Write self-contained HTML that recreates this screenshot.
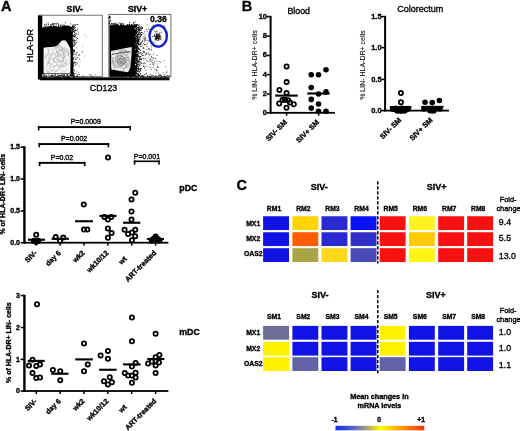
<!DOCTYPE html>
<html><head><meta charset="utf-8"><style>
html,body{margin:0;padding:0;background:#fff;}
svg{display:block;font-family:"Liberation Sans", sans-serif;will-change:transform;}
text{stroke:#000;stroke-width:0.34px;}
</style></head><body>
<svg width="520" height="431" viewBox="0 0 520 431">
<rect x="0" y="0" width="520" height="431" fill="#fff"/>
<text x="0.9" y="10.9" font-size="14.5" font-weight="bold" text-anchor="start" fill="#000">A</text>
<text x="241.8" y="10.6" font-size="14.5" font-weight="bold" text-anchor="start" fill="#000">B</text>
<text x="236.4" y="190.0" font-size="14.5" font-weight="bold" text-anchor="start" fill="#000">C</text>
<rect x="38.8" y="15.2" width="63.5" height="61.39999999999999" fill="none" stroke="#707070" stroke-width="1.0"/>
<polygon points="41.50,74.00 41.50,27.50 42.00,27.52 43.00,27.66 44.00,28.20 45.00,27.43 46.00,27.46 47.00,27.55 48.00,26.86 49.00,27.35 50.00,27.50 51.00,27.72 52.00,26.57 53.00,26.86 54.00,26.48 55.00,27.60 56.00,27.37 57.00,26.29 58.00,27.76 59.00,27.69 60.00,27.15 61.00,27.05 62.00,26.28 63.00,26.02 64.00,26.80 65.00,26.01 66.00,26.18 67.00,26.23 68.00,25.85 69.50,26.90 70.80,28.50 71.90,31.00 72.60,35.00 72.60,40.00 73.00,50.00 72.90,60.00 73.30,70.00 73.40,76.00 70.00,76.00 70.00,74.00" fill="#000"/>
<rect x="37.9" y="15.6" width="4.4" height="64.0" fill="#000"/>
<rect x="54.81" y="27.43" width="0.9" height="0.9" fill="#000"/>
<rect x="72.66" y="27.43" width="0.9" height="0.9" fill="#000"/>
<rect x="48.71" y="27.87" width="0.9" height="0.9" fill="#000"/>
<rect x="62.14" y="26.95" width="0.9" height="0.9" fill="#000"/>
<rect x="48.10" y="26.62" width="0.9" height="0.9" fill="#000"/>
<rect x="52.53" y="23.57" width="0.9" height="0.9" fill="#000"/>
<rect x="44.88" y="25.58" width="0.9" height="0.9" fill="#000"/>
<rect x="71.07" y="27.22" width="0.9" height="0.9" fill="#000"/>
<rect x="48.29" y="28.15" width="0.9" height="0.9" fill="#000"/>
<rect x="61.31" y="24.45" width="0.9" height="0.9" fill="#000"/>
<rect x="43.24" y="28.24" width="0.9" height="0.9" fill="#000"/>
<rect x="59.90" y="27.47" width="0.9" height="0.9" fill="#000"/>
<rect x="50.97" y="27.92" width="0.9" height="0.9" fill="#000"/>
<rect x="70.51" y="28.36" width="0.9" height="0.9" fill="#000"/>
<rect x="64.12" y="25.59" width="0.9" height="0.9" fill="#000"/>
<rect x="64.43" y="28.24" width="0.9" height="0.9" fill="#000"/>
<rect x="52.20" y="28.50" width="0.9" height="0.9" fill="#000"/>
<rect x="65.59" y="26.43" width="0.9" height="0.9" fill="#000"/>
<rect x="70.83" y="27.60" width="0.9" height="0.9" fill="#000"/>
<rect x="67.30" y="27.54" width="0.9" height="0.9" fill="#000"/>
<rect x="54.43" y="26.65" width="0.9" height="0.9" fill="#000"/>
<rect x="56.10" y="27.37" width="0.9" height="0.9" fill="#000"/>
<rect x="71.26" y="27.66" width="0.9" height="0.9" fill="#000"/>
<rect x="57.89" y="27.36" width="0.9" height="0.9" fill="#000"/>
<rect x="64.76" y="28.15" width="0.9" height="0.9" fill="#000"/>
<rect x="43.01" y="27.61" width="0.9" height="0.9" fill="#000"/>
<rect x="64.68" y="25.49" width="0.9" height="0.9" fill="#000"/>
<rect x="62.96" y="27.15" width="0.9" height="0.9" fill="#000"/>
<rect x="53.06" y="26.38" width="0.9" height="0.9" fill="#000"/>
<rect x="61.66" y="26.79" width="0.9" height="0.9" fill="#000"/>
<rect x="67.34" y="27.84" width="0.9" height="0.9" fill="#000"/>
<rect x="71.84" y="26.56" width="0.9" height="0.9" fill="#000"/>
<rect x="67.50" y="28.11" width="0.9" height="0.9" fill="#000"/>
<rect x="48.83" y="27.80" width="0.9" height="0.9" fill="#000"/>
<rect x="52.25" y="27.87" width="0.9" height="0.9" fill="#000"/>
<rect x="59.61" y="26.88" width="0.9" height="0.9" fill="#000"/>
<rect x="42.91" y="27.16" width="0.9" height="0.9" fill="#000"/>
<rect x="64.06" y="28.12" width="0.9" height="0.9" fill="#000"/>
<rect x="69.05" y="27.80" width="0.9" height="0.9" fill="#000"/>
<rect x="69.22" y="28.28" width="0.9" height="0.9" fill="#000"/>
<rect x="58.10" y="25.74" width="0.9" height="0.9" fill="#000"/>
<rect x="55.24" y="28.20" width="0.9" height="0.9" fill="#000"/>
<rect x="50.61" y="24.81" width="0.9" height="0.9" fill="#000"/>
<rect x="55.88" y="27.21" width="0.9" height="0.9" fill="#000"/>
<rect x="61.77" y="27.98" width="0.9" height="0.9" fill="#000"/>
<rect x="49.27" y="26.31" width="0.9" height="0.9" fill="#000"/>
<rect x="53.37" y="25.84" width="0.9" height="0.9" fill="#000"/>
<rect x="62.20" y="25.97" width="0.9" height="0.9" fill="#000"/>
<rect x="71.16" y="28.28" width="0.9" height="0.9" fill="#000"/>
<rect x="58.18" y="26.81" width="0.9" height="0.9" fill="#000"/>
<rect x="58.47" y="25.48" width="0.9" height="0.9" fill="#000"/>
<rect x="73.69" y="27.99" width="0.9" height="0.9" fill="#000"/>
<rect x="43.98" y="28.16" width="0.9" height="0.9" fill="#000"/>
<rect x="67.65" y="26.43" width="0.9" height="0.9" fill="#000"/>
<rect x="58.14" y="28.38" width="0.9" height="0.9" fill="#000"/>
<rect x="50.26" y="27.88" width="0.9" height="0.9" fill="#000"/>
<rect x="66.90" y="27.20" width="0.9" height="0.9" fill="#000"/>
<rect x="66.55" y="26.86" width="0.9" height="0.9" fill="#000"/>
<rect x="62.44" y="25.87" width="0.9" height="0.9" fill="#000"/>
<rect x="54.47" y="28.50" width="0.9" height="0.9" fill="#000"/>
<rect x="64.44" y="26.83" width="0.9" height="0.9" fill="#000"/>
<rect x="50.21" y="24.31" width="0.9" height="0.9" fill="#000"/>
<rect x="48.25" y="24.13" width="0.9" height="0.9" fill="#000"/>
<rect x="50.03" y="27.84" width="0.9" height="0.9" fill="#000"/>
<rect x="58.25" y="28.27" width="0.9" height="0.9" fill="#000"/>
<rect x="43.44" y="28.01" width="0.9" height="0.9" fill="#000"/>
<rect x="54.48" y="27.78" width="0.9" height="0.9" fill="#000"/>
<rect x="43.61" y="28.42" width="0.9" height="0.9" fill="#000"/>
<rect x="44.35" y="27.84" width="0.9" height="0.9" fill="#000"/>
<rect x="57.28" y="28.31" width="0.9" height="0.9" fill="#000"/>
<rect x="58.75" y="28.06" width="0.9" height="0.9" fill="#000"/>
<rect x="56.99" y="28.35" width="0.9" height="0.9" fill="#000"/>
<rect x="56.58" y="22.93" width="0.9" height="0.9" fill="#000"/>
<rect x="58.98" y="28.48" width="0.9" height="0.9" fill="#000"/>
<rect x="55.61" y="25.86" width="0.9" height="0.9" fill="#000"/>
<rect x="61.96" y="26.88" width="0.9" height="0.9" fill="#000"/>
<rect x="45.10" y="27.63" width="0.9" height="0.9" fill="#000"/>
<rect x="53.45" y="26.58" width="0.9" height="0.9" fill="#000"/>
<rect x="56.02" y="27.12" width="0.9" height="0.9" fill="#000"/>
<rect x="70.19" y="23.47" width="0.9" height="0.9" fill="#000"/>
<rect x="58.69" y="26.85" width="0.9" height="0.9" fill="#000"/>
<rect x="52.81" y="28.28" width="0.9" height="0.9" fill="#000"/>
<rect x="64.66" y="27.90" width="0.9" height="0.9" fill="#000"/>
<rect x="67.79" y="27.34" width="0.9" height="0.9" fill="#000"/>
<rect x="64.72" y="27.12" width="0.9" height="0.9" fill="#000"/>
<rect x="60.69" y="27.87" width="0.9" height="0.9" fill="#000"/>
<rect x="47.52" y="26.80" width="0.9" height="0.9" fill="#000"/>
<rect x="59.54" y="27.22" width="0.9" height="0.9" fill="#000"/>
<rect x="50.33" y="27.71" width="0.9" height="0.9" fill="#000"/>
<rect x="57.44" y="23.05" width="0.9" height="0.9" fill="#000"/>
<rect x="67.50" y="26.49" width="0.9" height="0.9" fill="#000"/>
<rect x="50.30" y="27.58" width="0.9" height="0.9" fill="#000"/>
<rect x="62.38" y="28.45" width="0.9" height="0.9" fill="#000"/>
<rect x="57.00" y="28.19" width="0.9" height="0.9" fill="#000"/>
<rect x="55.34" y="27.92" width="0.9" height="0.9" fill="#000"/>
<rect x="51.97" y="23.68" width="0.9" height="0.9" fill="#000"/>
<rect x="53.51" y="26.31" width="0.9" height="0.9" fill="#000"/>
<rect x="68.55" y="26.08" width="0.9" height="0.9" fill="#000"/>
<rect x="54.07" y="26.47" width="0.9" height="0.9" fill="#000"/>
<rect x="60.05" y="24.71" width="0.9" height="0.9" fill="#000"/>
<rect x="54.55" y="26.17" width="0.9" height="0.9" fill="#000"/>
<rect x="48.40" y="26.62" width="0.9" height="0.9" fill="#000"/>
<rect x="52.61" y="27.29" width="0.9" height="0.9" fill="#000"/>
<rect x="68.78" y="25.65" width="0.9" height="0.9" fill="#000"/>
<rect x="66.54" y="27.25" width="0.9" height="0.9" fill="#000"/>
<rect x="52.61" y="24.38" width="0.9" height="0.9" fill="#000"/>
<rect x="67.27" y="26.12" width="0.9" height="0.9" fill="#000"/>
<rect x="58.30" y="27.02" width="0.9" height="0.9" fill="#000"/>
<rect x="52.53" y="28.00" width="0.9" height="0.9" fill="#000"/>
<rect x="46.34" y="27.83" width="0.9" height="0.9" fill="#000"/>
<rect x="59.94" y="25.42" width="0.9" height="0.9" fill="#000"/>
<rect x="71.10" y="28.44" width="0.9" height="0.9" fill="#000"/>
<rect x="51.23" y="27.78" width="0.9" height="0.9" fill="#000"/>
<rect x="60.35" y="27.32" width="0.9" height="0.9" fill="#000"/>
<rect x="47.76" y="28.41" width="0.9" height="0.9" fill="#000"/>
<rect x="46.63" y="28.22" width="0.9" height="0.9" fill="#000"/>
<rect x="64.06" y="26.81" width="0.9" height="0.9" fill="#000"/>
<rect x="57.55" y="28.46" width="0.9" height="0.9" fill="#000"/>
<rect x="60.11" y="27.84" width="0.9" height="0.9" fill="#000"/>
<rect x="58.08" y="24.28" width="0.9" height="0.9" fill="#000"/>
<rect x="64.24" y="25.18" width="0.9" height="0.9" fill="#000"/>
<rect x="44.19" y="27.88" width="0.9" height="0.9" fill="#000"/>
<rect x="63.30" y="27.57" width="0.9" height="0.9" fill="#000"/>
<rect x="60.14" y="27.82" width="0.9" height="0.9" fill="#000"/>
<rect x="51.58" y="23.77" width="0.9" height="0.9" fill="#000"/>
<rect x="70.64" y="27.21" width="0.9" height="0.9" fill="#000"/>
<rect x="53.41" y="25.60" width="0.9" height="0.9" fill="#000"/>
<rect x="43.00" y="27.79" width="0.9" height="0.9" fill="#000"/>
<rect x="57.95" y="28.04" width="0.9" height="0.9" fill="#000"/>
<rect x="71.52" y="27.78" width="0.9" height="0.9" fill="#000"/>
<rect x="47.50" y="27.66" width="0.9" height="0.9" fill="#000"/>
<rect x="48.46" y="25.93" width="0.9" height="0.9" fill="#000"/>
<rect x="69.83" y="26.49" width="0.9" height="0.9" fill="#000"/>
<rect x="64.27" y="28.06" width="0.9" height="0.9" fill="#000"/>
<rect x="50.03" y="27.12" width="0.9" height="0.9" fill="#000"/>
<rect x="51.12" y="26.79" width="0.9" height="0.9" fill="#000"/>
<rect x="50.93" y="25.34" width="0.9" height="0.9" fill="#000"/>
<rect x="70.71" y="28.41" width="0.9" height="0.9" fill="#000"/>
<rect x="56.77" y="26.75" width="0.9" height="0.9" fill="#000"/>
<rect x="59.79" y="26.01" width="0.9" height="0.9" fill="#000"/>
<rect x="63.06" y="26.98" width="0.9" height="0.9" fill="#000"/>
<rect x="58.18" y="27.42" width="0.9" height="0.9" fill="#000"/>
<rect x="58.66" y="28.16" width="0.9" height="0.9" fill="#000"/>
<rect x="67.17" y="27.04" width="0.9" height="0.9" fill="#000"/>
<rect x="47.76" y="22.56" width="0.9" height="0.9" fill="#000"/>
<rect x="50.41" y="27.09" width="0.9" height="0.9" fill="#000"/>
<rect x="61.88" y="25.18" width="0.9" height="0.9" fill="#000"/>
<rect x="64.10" y="27.32" width="0.9" height="0.9" fill="#000"/>
<rect x="48.92" y="28.29" width="0.9" height="0.9" fill="#000"/>
<rect x="64.23" y="27.55" width="0.9" height="0.9" fill="#000"/>
<rect x="56.31" y="28.45" width="0.9" height="0.9" fill="#000"/>
<rect x="44.33" y="26.34" width="0.9" height="0.9" fill="#000"/>
<rect x="46.91" y="28.06" width="0.9" height="0.9" fill="#000"/>
<rect x="66.50" y="26.56" width="0.9" height="0.9" fill="#000"/>
<rect x="44.66" y="27.68" width="0.9" height="0.9" fill="#000"/>
<rect x="66.66" y="25.14" width="0.9" height="0.9" fill="#000"/>
<rect x="54.61" y="23.17" width="0.9" height="0.9" fill="#000"/>
<rect x="46.83" y="25.67" width="0.9" height="0.9" fill="#000"/>
<rect x="46.35" y="26.45" width="0.9" height="0.9" fill="#000"/>
<rect x="65.22" y="26.16" width="0.9" height="0.9" fill="#000"/>
<rect x="63.33" y="28.19" width="0.9" height="0.9" fill="#000"/>
<rect x="49.51" y="25.93" width="0.9" height="0.9" fill="#000"/>
<rect x="55.69" y="24.25" width="0.9" height="0.9" fill="#000"/>
<rect x="44.01" y="24.33" width="0.9" height="0.9" fill="#000"/>
<rect x="52.42" y="23.27" width="0.9" height="0.9" fill="#000"/>
<rect x="53.11" y="27.74" width="0.9" height="0.9" fill="#000"/>
<rect x="50.38" y="26.18" width="0.9" height="0.9" fill="#000"/>
<rect x="68.55" y="27.66" width="0.9" height="0.9" fill="#000"/>
<rect x="49.31" y="26.26" width="0.9" height="0.9" fill="#000"/>
<rect x="68.60" y="28.28" width="0.9" height="0.9" fill="#000"/>
<rect x="53.09" y="27.70" width="0.9" height="0.9" fill="#000"/>
<rect x="64.91" y="26.37" width="0.9" height="0.9" fill="#000"/>
<rect x="72.85" y="27.27" width="0.9" height="0.9" fill="#000"/>
<rect x="45.27" y="26.43" width="0.9" height="0.9" fill="#000"/>
<rect x="56.45" y="26.90" width="0.9" height="0.9" fill="#000"/>
<rect x="47.20" y="27.56" width="0.9" height="0.9" fill="#000"/>
<rect x="50.06" y="26.51" width="0.9" height="0.9" fill="#000"/>
<rect x="55.42" y="25.92" width="0.9" height="0.9" fill="#000"/>
<rect x="71.87" y="28.42" width="0.9" height="0.9" fill="#000"/>
<rect x="64.82" y="22.33" width="0.9" height="0.9" fill="#000"/>
<rect x="45.84" y="23.81" width="0.9" height="0.9" fill="#000"/>
<rect x="51.89" y="27.10" width="0.9" height="0.9" fill="#000"/>
<rect x="66.49" y="28.37" width="0.9" height="0.9" fill="#000"/>
<rect x="45.85" y="23.77" width="0.9" height="0.9" fill="#000"/>
<rect x="53.71" y="23.32" width="0.9" height="0.9" fill="#000"/>
<rect x="44.06" y="27.75" width="0.9" height="0.9" fill="#000"/>
<rect x="63.02" y="25.86" width="0.9" height="0.9" fill="#000"/>
<rect x="56.18" y="27.34" width="0.9" height="0.9" fill="#000"/>
<rect x="67.35" y="26.65" width="0.9" height="0.9" fill="#000"/>
<rect x="67.70" y="27.29" width="0.9" height="0.9" fill="#000"/>
<rect x="54.87" y="26.44" width="0.9" height="0.9" fill="#000"/>
<rect x="63.02" y="27.18" width="0.9" height="0.9" fill="#000"/>
<rect x="52.71" y="26.69" width="0.9" height="0.9" fill="#000"/>
<rect x="53.21" y="24.52" width="0.9" height="0.9" fill="#000"/>
<rect x="59.19" y="28.17" width="0.9" height="0.9" fill="#000"/>
<rect x="45.47" y="28.41" width="0.9" height="0.9" fill="#000"/>
<rect x="63.67" y="28.13" width="0.9" height="0.9" fill="#000"/>
<rect x="58.16" y="25.47" width="0.9" height="0.9" fill="#000"/>
<rect x="68.80" y="26.33" width="0.9" height="0.9" fill="#000"/>
<rect x="65.58" y="28.43" width="0.9" height="0.9" fill="#000"/>
<rect x="62.78" y="28.06" width="0.9" height="0.9" fill="#000"/>
<rect x="44.07" y="27.59" width="0.9" height="0.9" fill="#000"/>
<rect x="50.02" y="27.15" width="0.9" height="0.9" fill="#000"/>
<rect x="59.16" y="27.56" width="0.9" height="0.9" fill="#000"/>
<rect x="50.95" y="26.01" width="0.9" height="0.9" fill="#000"/>
<rect x="59.76" y="27.01" width="0.9" height="0.9" fill="#000"/>
<rect x="49.74" y="27.10" width="0.9" height="0.9" fill="#000"/>
<rect x="69.68" y="27.34" width="0.9" height="0.9" fill="#000"/>
<rect x="61.75" y="27.81" width="0.9" height="0.9" fill="#000"/>
<rect x="70.05" y="26.59" width="0.9" height="0.9" fill="#000"/>
<rect x="63.39" y="24.52" width="0.9" height="0.9" fill="#000"/>
<rect x="48.28" y="28.46" width="0.9" height="0.9" fill="#000"/>
<rect x="55.59" y="27.24" width="0.9" height="0.9" fill="#000"/>
<rect x="53.08" y="26.43" width="0.9" height="0.9" fill="#000"/>
<rect x="51.17" y="27.48" width="0.9" height="0.9" fill="#000"/>
<rect x="56.56" y="28.04" width="0.9" height="0.9" fill="#000"/>
<rect x="65.79" y="25.71" width="0.9" height="0.9" fill="#000"/>
<rect x="56.11" y="28.18" width="0.9" height="0.9" fill="#000"/>
<rect x="64.24" y="26.20" width="0.9" height="0.9" fill="#000"/>
<rect x="68.26" y="27.45" width="0.9" height="0.9" fill="#000"/>
<rect x="65.14" y="26.18" width="0.9" height="0.9" fill="#000"/>
<rect x="70.73" y="28.15" width="0.9" height="0.9" fill="#000"/>
<rect x="61.38" y="28.29" width="0.9" height="0.9" fill="#000"/>
<rect x="54.63" y="26.69" width="0.9" height="0.9" fill="#000"/>
<rect x="65.39" y="26.93" width="0.9" height="0.9" fill="#000"/>
<rect x="72.23" y="27.77" width="0.9" height="0.9" fill="#000"/>
<rect x="45.56" y="27.02" width="0.9" height="0.9" fill="#000"/>
<rect x="51.41" y="26.94" width="0.9" height="0.9" fill="#000"/>
<rect x="46.96" y="28.29" width="0.9" height="0.9" fill="#000"/>
<rect x="72.84" y="24.39" width="0.9" height="0.9" fill="#000"/>
<rect x="71.91" y="29.73" width="0.9" height="0.9" fill="#000"/>
<rect x="72.17" y="45.64" width="0.9" height="0.9" fill="#000"/>
<rect x="72.22" y="67.45" width="0.9" height="0.9" fill="#000"/>
<rect x="77.40" y="74.25" width="0.9" height="0.9" fill="#000"/>
<rect x="72.27" y="28.83" width="0.9" height="0.9" fill="#000"/>
<rect x="72.32" y="63.71" width="0.9" height="0.9" fill="#000"/>
<rect x="73.21" y="40.64" width="0.9" height="0.9" fill="#000"/>
<rect x="72.54" y="30.02" width="0.9" height="0.9" fill="#000"/>
<rect x="73.29" y="69.43" width="0.9" height="0.9" fill="#000"/>
<rect x="71.95" y="46.46" width="0.9" height="0.9" fill="#000"/>
<rect x="73.03" y="62.60" width="0.9" height="0.9" fill="#000"/>
<rect x="72.43" y="66.89" width="0.9" height="0.9" fill="#000"/>
<rect x="71.79" y="51.93" width="0.9" height="0.9" fill="#000"/>
<rect x="75.75" y="37.15" width="0.9" height="0.9" fill="#000"/>
<rect x="72.98" y="53.40" width="0.9" height="0.9" fill="#000"/>
<rect x="72.39" y="58.65" width="0.9" height="0.9" fill="#000"/>
<rect x="71.93" y="53.69" width="0.9" height="0.9" fill="#000"/>
<rect x="74.18" y="51.39" width="0.9" height="0.9" fill="#000"/>
<rect x="72.75" y="51.00" width="0.9" height="0.9" fill="#000"/>
<rect x="71.96" y="29.81" width="0.9" height="0.9" fill="#000"/>
<rect x="71.51" y="27.53" width="0.9" height="0.9" fill="#000"/>
<rect x="76.37" y="42.03" width="0.9" height="0.9" fill="#000"/>
<rect x="74.05" y="31.80" width="0.9" height="0.9" fill="#000"/>
<rect x="74.18" y="36.08" width="0.9" height="0.9" fill="#000"/>
<rect x="71.70" y="49.95" width="0.9" height="0.9" fill="#000"/>
<rect x="72.44" y="71.56" width="0.9" height="0.9" fill="#000"/>
<rect x="75.46" y="72.82" width="0.9" height="0.9" fill="#000"/>
<rect x="74.18" y="42.07" width="0.9" height="0.9" fill="#000"/>
<rect x="75.95" y="33.51" width="0.9" height="0.9" fill="#000"/>
<rect x="72.68" y="35.59" width="0.9" height="0.9" fill="#000"/>
<rect x="74.57" y="25.02" width="0.9" height="0.9" fill="#000"/>
<rect x="78.24" y="33.49" width="0.9" height="0.9" fill="#000"/>
<rect x="73.98" y="61.62" width="0.9" height="0.9" fill="#000"/>
<rect x="71.52" y="49.82" width="0.9" height="0.9" fill="#000"/>
<rect x="72.80" y="49.87" width="0.9" height="0.9" fill="#000"/>
<rect x="72.44" y="58.69" width="0.9" height="0.9" fill="#000"/>
<rect x="71.83" y="32.37" width="0.9" height="0.9" fill="#000"/>
<rect x="72.51" y="26.71" width="0.9" height="0.9" fill="#000"/>
<rect x="72.53" y="38.01" width="0.9" height="0.9" fill="#000"/>
<rect x="72.17" y="60.95" width="0.9" height="0.9" fill="#000"/>
<rect x="72.29" y="48.63" width="0.9" height="0.9" fill="#000"/>
<rect x="72.56" y="44.33" width="0.9" height="0.9" fill="#000"/>
<rect x="73.03" y="73.59" width="0.9" height="0.9" fill="#000"/>
<rect x="71.74" y="45.64" width="0.9" height="0.9" fill="#000"/>
<rect x="76.61" y="63.46" width="0.9" height="0.9" fill="#000"/>
<rect x="76.70" y="51.94" width="0.9" height="0.9" fill="#000"/>
<rect x="75.12" y="33.25" width="0.9" height="0.9" fill="#000"/>
<rect x="72.74" y="65.29" width="0.9" height="0.9" fill="#000"/>
<rect x="71.91" y="66.58" width="0.9" height="0.9" fill="#000"/>
<rect x="74.78" y="42.94" width="0.9" height="0.9" fill="#000"/>
<rect x="72.41" y="67.74" width="0.9" height="0.9" fill="#000"/>
<rect x="71.80" y="60.24" width="0.9" height="0.9" fill="#000"/>
<rect x="71.74" y="40.14" width="0.9" height="0.9" fill="#000"/>
<rect x="71.82" y="39.65" width="0.9" height="0.9" fill="#000"/>
<rect x="71.69" y="31.71" width="0.9" height="0.9" fill="#000"/>
<rect x="71.76" y="35.44" width="0.9" height="0.9" fill="#000"/>
<rect x="72.97" y="57.12" width="0.9" height="0.9" fill="#000"/>
<rect x="72.33" y="25.78" width="0.9" height="0.9" fill="#000"/>
<rect x="73.54" y="34.49" width="0.9" height="0.9" fill="#000"/>
<rect x="74.20" y="36.33" width="0.9" height="0.9" fill="#000"/>
<rect x="72.21" y="25.45" width="0.9" height="0.9" fill="#000"/>
<rect x="71.99" y="33.85" width="0.9" height="0.9" fill="#000"/>
<rect x="72.04" y="25.48" width="0.9" height="0.9" fill="#000"/>
<rect x="77.02" y="28.50" width="0.9" height="0.9" fill="#000"/>
<rect x="72.04" y="29.85" width="0.9" height="0.9" fill="#000"/>
<rect x="74.27" y="29.83" width="0.9" height="0.9" fill="#000"/>
<rect x="74.30" y="41.46" width="0.9" height="0.9" fill="#000"/>
<rect x="73.58" y="44.99" width="0.9" height="0.9" fill="#000"/>
<rect x="73.41" y="64.60" width="0.9" height="0.9" fill="#000"/>
<rect x="76.42" y="24.06" width="0.9" height="0.9" fill="#000"/>
<rect x="71.53" y="41.07" width="0.9" height="0.9" fill="#000"/>
<rect x="73.85" y="25.84" width="0.9" height="0.9" fill="#000"/>
<rect x="72.93" y="25.86" width="0.9" height="0.9" fill="#000"/>
<rect x="71.93" y="32.40" width="0.9" height="0.9" fill="#000"/>
<rect x="71.66" y="48.77" width="0.9" height="0.9" fill="#000"/>
<rect x="72.35" y="30.84" width="0.9" height="0.9" fill="#000"/>
<rect x="76.68" y="75.98" width="0.9" height="0.9" fill="#000"/>
<rect x="73.68" y="31.76" width="0.9" height="0.9" fill="#000"/>
<rect x="73.08" y="25.93" width="0.9" height="0.9" fill="#000"/>
<rect x="74.52" y="57.45" width="0.9" height="0.9" fill="#000"/>
<rect x="73.21" y="28.97" width="0.9" height="0.9" fill="#000"/>
<rect x="75.14" y="40.40" width="0.9" height="0.9" fill="#000"/>
<rect x="75.53" y="61.91" width="0.9" height="0.9" fill="#000"/>
<rect x="74.28" y="30.24" width="0.9" height="0.9" fill="#000"/>
<rect x="72.01" y="45.89" width="0.9" height="0.9" fill="#000"/>
<rect x="72.91" y="28.81" width="0.9" height="0.9" fill="#000"/>
<rect x="72.18" y="32.34" width="0.9" height="0.9" fill="#000"/>
<rect x="71.52" y="52.48" width="0.9" height="0.9" fill="#000"/>
<rect x="73.05" y="31.15" width="0.9" height="0.9" fill="#000"/>
<rect x="79.23" y="54.25" width="0.9" height="0.9" fill="#000"/>
<rect x="72.16" y="44.12" width="0.9" height="0.9" fill="#000"/>
<rect x="71.97" y="28.13" width="0.9" height="0.9" fill="#000"/>
<rect x="71.72" y="63.80" width="0.9" height="0.9" fill="#000"/>
<rect x="73.98" y="75.56" width="0.9" height="0.9" fill="#000"/>
<rect x="74.80" y="27.28" width="0.9" height="0.9" fill="#000"/>
<rect x="76.98" y="38.04" width="0.9" height="0.9" fill="#000"/>
<rect x="75.80" y="39.50" width="0.9" height="0.9" fill="#000"/>
<rect x="71.93" y="49.00" width="0.9" height="0.9" fill="#000"/>
<rect x="75.46" y="58.96" width="0.9" height="0.9" fill="#000"/>
<rect x="72.82" y="34.89" width="0.9" height="0.9" fill="#000"/>
<rect x="72.39" y="61.99" width="0.9" height="0.9" fill="#000"/>
<rect x="76.83" y="57.25" width="0.9" height="0.9" fill="#000"/>
<rect x="71.55" y="44.68" width="0.9" height="0.9" fill="#000"/>
<rect x="71.80" y="69.12" width="0.9" height="0.9" fill="#000"/>
<rect x="72.28" y="59.42" width="0.9" height="0.9" fill="#000"/>
<rect x="71.66" y="40.94" width="0.9" height="0.9" fill="#000"/>
<rect x="72.45" y="42.17" width="0.9" height="0.9" fill="#000"/>
<rect x="72.30" y="30.78" width="0.9" height="0.9" fill="#000"/>
<rect x="72.80" y="54.25" width="0.9" height="0.9" fill="#000"/>
<rect x="72.94" y="73.33" width="0.9" height="0.9" fill="#000"/>
<rect x="81.90" y="51.41" width="0.9" height="0.9" fill="#000"/>
<rect x="71.90" y="60.40" width="0.9" height="0.9" fill="#000"/>
<rect x="73.19" y="61.49" width="0.9" height="0.9" fill="#000"/>
<rect x="71.52" y="74.10" width="0.9" height="0.9" fill="#000"/>
<rect x="74.88" y="35.50" width="0.9" height="0.9" fill="#000"/>
<rect x="71.91" y="49.67" width="0.9" height="0.9" fill="#000"/>
<rect x="71.93" y="55.69" width="0.9" height="0.9" fill="#000"/>
<rect x="72.23" y="60.51" width="0.9" height="0.9" fill="#000"/>
<rect x="72.24" y="43.18" width="0.9" height="0.9" fill="#000"/>
<rect x="72.47" y="39.36" width="0.9" height="0.9" fill="#000"/>
<rect x="71.55" y="52.81" width="0.9" height="0.9" fill="#000"/>
<rect x="75.58" y="52.77" width="0.9" height="0.9" fill="#000"/>
<rect x="74.52" y="24.22" width="0.9" height="0.9" fill="#000"/>
<rect x="72.71" y="65.79" width="0.9" height="0.9" fill="#000"/>
<rect x="73.49" y="30.95" width="0.9" height="0.9" fill="#000"/>
<rect x="73.49" y="39.81" width="0.9" height="0.9" fill="#000"/>
<rect x="72.32" y="63.75" width="0.9" height="0.9" fill="#000"/>
<rect x="72.66" y="45.71" width="0.9" height="0.9" fill="#000"/>
<rect x="72.65" y="46.10" width="0.9" height="0.9" fill="#000"/>
<rect x="74.50" y="34.65" width="0.9" height="0.9" fill="#000"/>
<rect x="71.92" y="65.99" width="0.9" height="0.9" fill="#000"/>
<rect x="73.14" y="26.06" width="0.9" height="0.9" fill="#000"/>
<rect x="73.56" y="63.25" width="0.9" height="0.9" fill="#000"/>
<rect x="72.74" y="35.85" width="0.9" height="0.9" fill="#000"/>
<rect x="74.44" y="34.06" width="0.9" height="0.9" fill="#000"/>
<rect x="71.75" y="54.75" width="0.9" height="0.9" fill="#000"/>
<rect x="72.81" y="59.10" width="0.9" height="0.9" fill="#000"/>
<rect x="73.91" y="50.59" width="0.9" height="0.9" fill="#000"/>
<rect x="73.90" y="70.20" width="0.9" height="0.9" fill="#000"/>
<rect x="71.59" y="74.83" width="0.9" height="0.9" fill="#000"/>
<rect x="73.87" y="42.50" width="0.9" height="0.9" fill="#000"/>
<rect x="71.79" y="32.60" width="0.9" height="0.9" fill="#000"/>
<rect x="72.28" y="40.39" width="0.9" height="0.9" fill="#000"/>
<rect x="73.09" y="72.06" width="0.9" height="0.9" fill="#000"/>
<rect x="75.46" y="54.55" width="0.9" height="0.9" fill="#000"/>
<rect x="72.72" y="52.21" width="0.9" height="0.9" fill="#000"/>
<rect x="75.10" y="64.56" width="0.9" height="0.9" fill="#000"/>
<rect x="73.36" y="50.39" width="0.9" height="0.9" fill="#000"/>
<rect x="73.02" y="49.59" width="0.9" height="0.9" fill="#000"/>
<rect x="73.21" y="35.52" width="0.9" height="0.9" fill="#000"/>
<rect x="71.86" y="71.18" width="0.9" height="0.9" fill="#000"/>
<rect x="72.48" y="36.12" width="0.9" height="0.9" fill="#000"/>
<rect x="74.18" y="27.54" width="0.9" height="0.9" fill="#000"/>
<rect x="72.49" y="39.51" width="0.9" height="0.9" fill="#000"/>
<rect x="74.08" y="50.23" width="0.9" height="0.9" fill="#000"/>
<rect x="75.69" y="58.65" width="0.9" height="0.9" fill="#000"/>
<rect x="75.17" y="30.16" width="0.9" height="0.9" fill="#000"/>
<rect x="73.76" y="44.04" width="0.9" height="0.9" fill="#000"/>
<rect x="71.61" y="63.22" width="0.9" height="0.9" fill="#000"/>
<rect x="74.07" y="39.81" width="0.9" height="0.9" fill="#000"/>
<rect x="75.66" y="29.94" width="0.9" height="0.9" fill="#000"/>
<rect x="72.87" y="61.87" width="0.9" height="0.9" fill="#000"/>
<rect x="73.53" y="49.51" width="0.9" height="0.9" fill="#000"/>
<rect x="72.58" y="72.64" width="0.9" height="0.9" fill="#000"/>
<rect x="72.11" y="39.29" width="0.9" height="0.9" fill="#000"/>
<rect x="77.19" y="24.10" width="0.9" height="0.9" fill="#000"/>
<rect x="72.03" y="74.01" width="0.9" height="0.9" fill="#000"/>
<rect x="72.30" y="36.61" width="0.9" height="0.9" fill="#000"/>
<rect x="72.65" y="58.30" width="0.9" height="0.9" fill="#000"/>
<rect x="74.11" y="73.50" width="0.9" height="0.9" fill="#000"/>
<rect x="82.13" y="46.38" width="0.7" height="0.7" fill="#444"/>
<rect x="78.27" y="31.88" width="0.7" height="0.7" fill="#444"/>
<rect x="74.66" y="56.21" width="0.7" height="0.7" fill="#444"/>
<rect x="78.03" y="72.44" width="0.7" height="0.7" fill="#444"/>
<rect x="83.95" y="55.74" width="0.7" height="0.7" fill="#444"/>
<rect x="79.84" y="60.84" width="0.7" height="0.7" fill="#444"/>
<rect x="74.62" y="43.91" width="0.7" height="0.7" fill="#444"/>
<rect x="84.08" y="34.19" width="0.7" height="0.7" fill="#444"/>
<rect x="77.31" y="61.79" width="0.7" height="0.7" fill="#444"/>
<rect x="74.57" y="30.52" width="0.7" height="0.7" fill="#444"/>
<rect x="86.20" y="36.20" width="0.7" height="0.7" fill="#444"/>
<rect x="74.46" y="53.87" width="0.7" height="0.7" fill="#444"/>
<rect x="75.01" y="36.90" width="0.7" height="0.7" fill="#444"/>
<rect x="78.75" y="65.66" width="0.7" height="0.7" fill="#444"/>
<rect x="74.23" y="45.91" width="0.7" height="0.7" fill="#444"/>
<rect x="74.46" y="54.13" width="0.7" height="0.7" fill="#444"/>
<rect x="76.49" y="47.61" width="0.7" height="0.7" fill="#444"/>
<rect x="78.26" y="55.20" width="0.7" height="0.7" fill="#444"/>
<rect x="79.41" y="57.93" width="0.7" height="0.7" fill="#444"/>
<rect x="75.46" y="63.19" width="0.7" height="0.7" fill="#444"/>
<rect x="76.73" y="29.57" width="0.7" height="0.7" fill="#444"/>
<rect x="74.78" y="62.24" width="0.7" height="0.7" fill="#444"/>
<rect x="75.65" y="70.91" width="0.7" height="0.7" fill="#444"/>
<rect x="75.21" y="44.44" width="0.7" height="0.7" fill="#444"/>
<rect x="75.12" y="29.31" width="0.7" height="0.7" fill="#444"/>
<rect x="78.98" y="59.24" width="0.7" height="0.7" fill="#444"/>
<rect x="78.65" y="55.28" width="0.7" height="0.7" fill="#444"/>
<rect x="76.99" y="31.45" width="0.7" height="0.7" fill="#444"/>
<polygon points="43.60,73.30 43.60,47.70 47.00,47.30 51.00,47.00 55.00,46.50 57.50,45.50 59.50,43.20 61.20,41.00 63.00,40.30 65.50,40.60 67.00,42.50 68.80,45.50 70.30,48.60 70.60,56.00 70.50,64.00 70.30,73.30" fill="#f7f7f7"/>
<clipPath id="clipL"><polygon points="43.60,73.30 43.60,47.70 47.00,47.30 51.00,47.00 55.00,46.50 57.50,45.50 59.50,43.20 61.20,41.00 63.00,40.30 65.50,40.60 67.00,42.50 68.80,45.50 70.30,48.60 70.60,56.00 70.50,64.00 70.30,73.30"/></clipPath>
<g clip-path="url(#clipL)">
<polygon points="59.46,58.00 59.37,58.34 59.53,58.79 59.37,59.15 59.24,59.59 59.23,60.45 58.82,60.91 58.27,60.92 57.75,60.71 57.46,59.90 57.22,59.55 56.93,59.38 56.64,59.14 56.26,58.89 55.91,58.51 55.80,58.00 55.74,57.45 56.03,56.99 56.44,56.69 56.71,56.34 57.28,56.57 57.46,56.07 57.80,55.86 58.17,56.12 58.73,55.41 59.21,55.59 59.46,56.13 59.87,56.43 59.91,57.02 59.75,57.57" fill="none" stroke="#aaaaaa" stroke-width="0.45"/>
<polygon points="62.09,58.00 62.17,59.02 62.42,60.27 61.76,61.15 60.61,61.34 60.04,62.09 59.12,61.99 58.32,61.56 57.62,62.20 56.87,62.01 55.68,62.64 54.60,62.36 54.17,61.21 53.50,60.31 54.06,58.97 54.72,58.00 54.94,57.25 55.54,56.74 55.11,55.58 55.63,54.96 55.82,53.64 56.42,52.39 57.48,52.26 58.53,52.14 59.37,53.14 59.92,54.16 60.33,55.02 60.68,55.75 61.46,56.22 61.83,57.06" fill="none" stroke="#aaaaaa" stroke-width="0.45"/>
<polygon points="62.94,58.00 62.61,59.13 63.19,60.66 62.32,61.62 62.01,63.14 61.57,65.14 60.18,65.73 58.77,66.47 57.32,65.52 56.55,63.15 55.81,62.38 54.76,62.16 54.12,61.25 52.56,60.80 51.69,59.55 51.49,58.00 50.51,56.16 50.87,54.34 53.41,54.15 54.19,53.12 55.48,52.96 56.51,52.69 57.48,52.30 58.59,51.48 60.25,50.00 61.87,50.26 62.85,51.79 64.10,52.88 64.03,54.90 63.86,56.56" fill="none" stroke="#aaaaaa" stroke-width="0.45"/>
<polygon points="65.05,58.00 66.23,60.02 66.34,62.28 66.42,65.06 64.69,66.57 61.72,65.43 60.14,65.61 58.75,66.19 57.29,65.76 55.80,65.80 53.59,66.81 51.34,66.53 50.86,63.98 48.20,63.03 49.56,60.07 49.72,58.00 50.65,56.20 52.65,55.25 53.26,54.02 52.78,51.32 53.70,49.41 54.89,46.96 57.08,47.87 59.04,46.53 60.97,47.47 62.51,48.99 62.99,51.61 62.71,54.05 62.95,55.46 64.08,56.51" fill="none" stroke="#aaaaaa" stroke-width="0.45"/>
<polygon points="70.44,58.00 69.02,60.70 66.79,62.52 64.53,63.47 63.76,65.38 62.30,66.60 60.24,65.94 58.99,68.86 56.73,71.90 54.44,70.64 51.83,70.33 49.58,68.79 50.49,64.30 48.69,62.78 49.34,60.12 49.61,58.00 50.34,56.12 49.41,53.59 48.29,49.86 50.84,48.82 52.44,46.89 54.25,44.70 56.77,44.46 58.86,48.55 60.25,50.02 61.82,50.36 64.05,50.25 65.76,51.49 68.27,52.72 68.45,55.44" fill="none" stroke="#aaaaaa" stroke-width="0.45"/>
<polygon points="72.84,58.00 72.97,61.67 69.21,63.76 66.65,65.25 64.57,66.42 62.58,67.15 60.75,67.75 58.98,68.71 56.89,70.17 53.66,73.42 49.98,74.02 47.96,70.87 45.90,68.14 48.13,63.07 47.44,60.59 49.00,58.00 47.68,55.47 48.21,52.97 48.00,49.62 48.02,45.21 49.98,41.97 53.86,43.30 56.60,42.63 59.12,45.76 61.28,46.35 62.27,49.46 64.74,49.36 66.04,51.26 67.49,53.12 72.51,54.44" fill="none" stroke="#aaaaaa" stroke-width="0.45"/>
<polygon points="64.04,53.00 64.23,53.58 63.83,54.00 63.76,54.58 63.27,54.73 62.68,54.46 62.46,54.76 62.14,54.59 61.82,55.06 61.47,55.02 60.98,55.18 60.50,55.05 60.18,54.63 60.06,54.06 60.04,53.51 60.52,53.00 60.66,52.65 60.78,52.33 60.55,51.71 60.76,51.30 60.99,50.86 61.35,50.52 61.77,50.32 62.23,50.29 62.54,50.94 62.86,51.17 62.96,51.69 63.24,51.90 63.41,52.23 63.84,52.52" fill="none" stroke="#a0a0a0" stroke-width="0.45"/>
<polygon points="64.47,53.00 64.86,53.75 64.82,54.54 64.94,55.63 64.77,56.79 64.12,57.52 63.40,58.31 62.38,57.45 61.65,57.07 61.11,56.38 60.72,55.74 59.79,56.02 59.15,55.54 58.14,55.12 58.15,54.01 57.77,53.00 57.82,51.91 58.25,50.94 58.83,50.16 59.68,49.83 60.37,49.54 61.23,50.09 61.70,49.50 62.38,48.50 63.31,48.05 64.02,48.69 64.88,49.06 65.01,50.31 65.62,51.02 64.77,52.27" fill="none" stroke="#a0a0a0" stroke-width="0.45"/>
<polygon points="68.22,53.00 68.56,54.72 66.42,55.42 65.75,56.35 64.62,56.59 64.03,57.32 63.76,59.67 62.63,60.39 61.29,61.29 59.97,60.71 58.29,60.92 57.39,59.30 57.45,57.07 58.06,55.16 58.42,53.94 57.50,53.00 57.17,51.74 56.28,49.87 56.20,47.81 57.13,46.34 58.84,46.26 59.86,44.91 61.42,46.15 62.42,48.07 63.21,48.43 64.56,47.54 65.61,48.06 66.92,48.60 68.09,49.66 67.95,51.44" fill="none" stroke="#a0a0a0" stroke-width="0.45"/>
<polyline points="68.36,53.34 68.60,52.17 68.82,50.99 69.10,49.82 70.10,49.16 71.30,49.18 72.48,48.98" fill="none" stroke="#b0b0b0" stroke-width="0.4"/>
<polyline points="66.16,49.90 65.81,51.05 66.40,52.09 67.17,53.02 68.37,53.00 69.18,53.88 69.39,55.06" fill="none" stroke="#b0b0b0" stroke-width="0.4"/>
<polyline points="56.46,46.73 55.81,47.73 55.57,48.91 56.18,49.95 56.91,50.89 57.51,51.94 58.62,52.38" fill="none" stroke="#b0b0b0" stroke-width="0.4"/>
<polyline points="53.80,60.59 53.56,59.41 54.32,58.48 54.61,57.32 55.38,56.39 55.30,55.20 56.06,54.27" fill="none" stroke="#b0b0b0" stroke-width="0.4"/>
<polyline points="58.17,49.85 59.24,49.30 59.74,48.21 60.82,47.69 61.93,48.13 63.13,48.27 64.09,48.98" fill="none" stroke="#b0b0b0" stroke-width="0.4"/>
<polyline points="62.73,60.87 62.13,61.91 61.06,62.46 59.86,62.42 59.05,61.53 57.86,61.46 56.68,61.25" fill="none" stroke="#b0b0b0" stroke-width="0.4"/>
<polyline points="62.35,51.09 63.15,51.99 63.42,53.15 63.23,54.34 63.40,55.53 63.70,56.69 63.34,57.83" fill="none" stroke="#b0b0b0" stroke-width="0.4"/>
<polyline points="46.43,65.24 46.04,64.10 46.59,63.04 47.38,62.13 48.56,61.94 49.47,61.15 50.24,60.23" fill="none" stroke="#b0b0b0" stroke-width="0.4"/>
<polyline points="51.60,58.96 52.55,58.22 53.74,58.31 54.65,59.10 54.65,60.30 54.16,61.39 53.27,62.19" fill="none" stroke="#b0b0b0" stroke-width="0.4"/>
<polyline points="46.36,56.41 45.51,57.25 44.31,57.32 43.16,57.66 42.28,58.47 42.19,59.67 42.03,60.86" fill="none" stroke="#b0b0b0" stroke-width="0.4"/>
<polyline points="52.75,71.55 51.85,70.76 50.66,70.64 49.75,71.42 48.63,71.86 47.45,72.06 46.26,72.28" fill="none" stroke="#b0b0b0" stroke-width="0.4"/>
<polyline points="57.16,56.50 57.38,55.32 57.02,54.17 57.29,53.00 57.17,51.81 56.69,50.71 56.09,49.67" fill="none" stroke="#b0b0b0" stroke-width="0.4"/>
<polyline points="51.70,66.27 52.61,67.04 53.17,68.10 54.00,68.97 54.42,70.09 55.11,71.08 55.57,72.18" fill="none" stroke="#b0b0b0" stroke-width="0.4"/>
<polyline points="46.66,53.89 45.66,53.23 44.62,52.64 43.47,53.01 42.31,53.30 41.21,52.82 40.01,52.82" fill="none" stroke="#b0b0b0" stroke-width="0.4"/>
<polyline points="49.41,62.39 50.30,63.20 51.50,63.17 52.68,63.41 53.43,64.34 53.66,65.51 53.70,66.71" fill="none" stroke="#b0b0b0" stroke-width="0.4"/>
<polyline points="66.74,68.75 66.86,69.95 66.04,70.82 64.84,70.85 63.67,70.57 62.60,70.03 61.42,69.81" fill="none" stroke="#b0b0b0" stroke-width="0.4"/>
<polyline points="46.36,54.22 46.22,55.41 45.75,56.52 45.05,57.49 43.87,57.73 43.33,58.80 43.40,60.00" fill="none" stroke="#b0b0b0" stroke-width="0.4"/>
<polyline points="46.60,55.36 47.59,54.68 48.78,54.60 49.75,53.89 50.50,52.96 51.63,52.54 52.52,51.74" fill="none" stroke="#b0b0b0" stroke-width="0.4"/>
<polyline points="62.99,61.78 61.80,61.63 60.61,61.77 59.73,60.95 58.69,60.35 57.50,60.20 56.88,59.17" fill="none" stroke="#b0b0b0" stroke-width="0.4"/>
<polyline points="59.34,64.49 58.15,64.35 56.95,64.44 55.89,65.00 55.10,65.91 54.84,67.08 54.19,68.09" fill="none" stroke="#b0b0b0" stroke-width="0.4"/>
<polyline points="46.28,48.28 45.56,47.32 45.39,46.13 45.59,44.95 46.27,43.96 46.36,42.76 46.46,41.57" fill="none" stroke="#b0b0b0" stroke-width="0.4"/>
<polyline points="44.46,59.56 45.51,59.00 45.98,57.89 46.12,56.70 46.22,55.50 45.71,54.41 44.60,53.97" fill="none" stroke="#b0b0b0" stroke-width="0.4"/>
<polyline points="47.16,71.60 48.12,72.33 49.32,72.32 50.34,71.70 51.53,71.87 52.43,71.07 52.67,69.89" fill="none" stroke="#b0b0b0" stroke-width="0.4"/>
<polyline points="60.87,72.00 62.06,72.18 63.24,71.97 64.41,72.26 65.02,73.29 64.81,74.47 63.79,75.09" fill="none" stroke="#b0b0b0" stroke-width="0.4"/>
<polyline points="63.82,67.03 63.30,65.94 62.94,64.80 63.48,63.73 64.15,62.73 63.84,61.57 63.42,60.45" fill="none" stroke="#b0b0b0" stroke-width="0.4"/>
<polyline points="66.65,64.85 65.71,64.11 65.20,63.02 64.23,62.31 63.58,61.30 63.70,60.10 62.84,59.26" fill="none" stroke="#b0b0b0" stroke-width="0.4"/>
</g>
<rect x="43.6" y="73.0" width="27.0" height="1.0" fill="#666"/>
<rect x="42.72" y="75.09" width="0.8" height="0.8" fill="#222"/>
<rect x="54.62" y="76.24" width="0.8" height="0.8" fill="#222"/>
<rect x="58.63" y="75.36" width="0.8" height="0.8" fill="#222"/>
<rect x="72.76" y="76.51" width="0.8" height="0.8" fill="#222"/>
<rect x="72.18" y="76.31" width="0.8" height="0.8" fill="#222"/>
<rect x="90.24" y="74.53" width="0.8" height="0.8" fill="#222"/>
<rect x="50.99" y="76.24" width="0.8" height="0.8" fill="#222"/>
<rect x="51.28" y="77.09" width="0.8" height="0.8" fill="#222"/>
<rect x="67.74" y="75.40" width="0.8" height="0.8" fill="#222"/>
<rect x="44.00" y="77.02" width="0.8" height="0.8" fill="#222"/>
<rect x="76.28" y="75.41" width="0.8" height="0.8" fill="#222"/>
<rect x="44.07" y="74.55" width="0.8" height="0.8" fill="#222"/>
<rect x="89.35" y="74.08" width="0.8" height="0.8" fill="#222"/>
<rect x="63.91" y="75.31" width="0.8" height="0.8" fill="#222"/>
<rect x="62.72" y="76.61" width="0.8" height="0.8" fill="#222"/>
<rect x="46.07" y="75.60" width="0.8" height="0.8" fill="#222"/>
<rect x="68.65" y="75.89" width="0.8" height="0.8" fill="#222"/>
<rect x="65.33" y="75.77" width="0.8" height="0.8" fill="#222"/>
<rect x="57.75" y="77.23" width="0.8" height="0.8" fill="#222"/>
<rect x="63.40" y="76.53" width="0.8" height="0.8" fill="#222"/>
<rect x="56.86" y="77.27" width="0.8" height="0.8" fill="#222"/>
<rect x="68.10" y="77.28" width="0.8" height="0.8" fill="#222"/>
<rect x="63.58" y="74.29" width="0.8" height="0.8" fill="#222"/>
<rect x="72.90" y="74.56" width="0.8" height="0.8" fill="#222"/>
<rect x="70.63" y="75.39" width="0.8" height="0.8" fill="#222"/>
<rect x="56.51" y="75.98" width="0.8" height="0.8" fill="#222"/>
<rect x="73.68" y="77.31" width="0.8" height="0.8" fill="#222"/>
<rect x="68.93" y="75.10" width="0.8" height="0.8" fill="#222"/>
<rect x="67.57" y="75.26" width="0.8" height="0.8" fill="#222"/>
<rect x="55.09" y="74.25" width="0.8" height="0.8" fill="#222"/>
<rect x="51.57" y="75.51" width="0.8" height="0.8" fill="#222"/>
<rect x="73.52" y="76.01" width="0.8" height="0.8" fill="#222"/>
<rect x="71.55" y="74.95" width="0.8" height="0.8" fill="#222"/>
<rect x="51.69" y="75.01" width="0.8" height="0.8" fill="#222"/>
<rect x="58.26" y="75.92" width="0.8" height="0.8" fill="#222"/>
<rect x="64.67" y="75.46" width="0.8" height="0.8" fill="#222"/>
<rect x="54.99" y="74.44" width="0.8" height="0.8" fill="#222"/>
<rect x="62.10" y="74.61" width="0.8" height="0.8" fill="#222"/>
<rect x="73.12" y="75.82" width="0.8" height="0.8" fill="#222"/>
<rect x="68.25" y="76.31" width="0.8" height="0.8" fill="#222"/>
<rect x="69.18" y="77.30" width="0.8" height="0.8" fill="#222"/>
<rect x="56.59" y="76.16" width="0.8" height="0.8" fill="#222"/>
<rect x="67.65" y="75.97" width="0.8" height="0.8" fill="#222"/>
<rect x="45.81" y="75.81" width="0.8" height="0.8" fill="#222"/>
<rect x="63.44" y="74.13" width="0.8" height="0.8" fill="#222"/>
<rect x="63.04" y="75.79" width="0.8" height="0.8" fill="#222"/>
<rect x="59.68" y="75.61" width="0.8" height="0.8" fill="#222"/>
<rect x="52.61" y="75.76" width="0.8" height="0.8" fill="#222"/>
<rect x="54.35" y="77.21" width="0.8" height="0.8" fill="#222"/>
<rect x="59.62" y="75.42" width="0.8" height="0.8" fill="#222"/>
<rect x="54.23" y="76.93" width="0.8" height="0.8" fill="#222"/>
<rect x="73.73" y="76.07" width="0.8" height="0.8" fill="#222"/>
<rect x="67.01" y="74.45" width="0.8" height="0.8" fill="#222"/>
<rect x="48.57" y="75.56" width="0.8" height="0.8" fill="#222"/>
<rect x="63.70" y="77.21" width="0.8" height="0.8" fill="#222"/>
<rect x="55.64" y="76.64" width="0.8" height="0.8" fill="#222"/>
<rect x="70.99" y="75.03" width="0.8" height="0.8" fill="#222"/>
<rect x="64.21" y="75.87" width="0.8" height="0.8" fill="#222"/>
<rect x="53.50" y="74.81" width="0.8" height="0.8" fill="#222"/>
<rect x="66.64" y="75.71" width="0.8" height="0.8" fill="#222"/>
<rect x="72.06" y="74.02" width="0.8" height="0.8" fill="#222"/>
<rect x="44.18" y="76.02" width="0.8" height="0.8" fill="#222"/>
<rect x="64.20" y="77.37" width="0.8" height="0.8" fill="#222"/>
<rect x="43.00" y="74.36" width="0.8" height="0.8" fill="#222"/>
<rect x="59.91" y="77.07" width="0.8" height="0.8" fill="#222"/>
<rect x="74.68" y="77.21" width="0.8" height="0.8" fill="#222"/>
<rect x="61.16" y="75.05" width="0.8" height="0.8" fill="#222"/>
<rect x="82.86" y="76.99" width="0.8" height="0.8" fill="#222"/>
<rect x="43.10" y="76.05" width="0.8" height="0.8" fill="#222"/>
<rect x="73.91" y="75.72" width="0.8" height="0.8" fill="#222"/>
<rect x="59.43" y="77.33" width="0.8" height="0.8" fill="#222"/>
<rect x="46.12" y="75.77" width="0.8" height="0.8" fill="#222"/>
<rect x="69.99" y="76.82" width="0.8" height="0.8" fill="#222"/>
<rect x="67.20" y="77.20" width="0.8" height="0.8" fill="#222"/>
<rect x="73.00" y="75.24" width="0.8" height="0.8" fill="#222"/>
<rect x="57.67" y="75.51" width="0.8" height="0.8" fill="#222"/>
<rect x="46.46" y="75.24" width="0.8" height="0.8" fill="#222"/>
<rect x="60.39" y="74.92" width="0.8" height="0.8" fill="#222"/>
<rect x="58.92" y="76.46" width="0.8" height="0.8" fill="#222"/>
<rect x="95.43" y="74.14" width="0.8" height="0.8" fill="#222"/>
<rect x="57.94" y="75.84" width="0.8" height="0.8" fill="#222"/>
<rect x="65.54" y="77.29" width="0.8" height="0.8" fill="#222"/>
<rect x="72.78" y="76.64" width="0.8" height="0.8" fill="#222"/>
<rect x="72.06" y="76.24" width="0.8" height="0.8" fill="#222"/>
<rect x="63.92" y="74.03" width="0.8" height="0.8" fill="#222"/>
<rect x="84.44" y="76.22" width="0.8" height="0.8" fill="#222"/>
<rect x="72.72" y="74.64" width="0.8" height="0.8" fill="#222"/>
<rect x="73.08" y="74.05" width="0.8" height="0.8" fill="#222"/>
<rect x="42.60" y="77.08" width="0.8" height="0.8" fill="#222"/>
<rect x="57.31" y="76.21" width="0.8" height="0.8" fill="#222"/>
<rect x="63.18" y="76.82" width="0.8" height="0.8" fill="#222"/>
<rect x="52.33" y="75.86" width="0.8" height="0.8" fill="#222"/>
<rect x="49.13" y="77.10" width="0.8" height="0.8" fill="#222"/>
<rect x="54.66" y="74.52" width="0.8" height="0.8" fill="#222"/>
<rect x="65.28" y="75.87" width="0.8" height="0.8" fill="#222"/>
<rect x="58.92" y="75.30" width="0.8" height="0.8" fill="#222"/>
<rect x="44.26" y="74.73" width="0.8" height="0.8" fill="#222"/>
<rect x="66.61" y="75.29" width="0.8" height="0.8" fill="#222"/>
<rect x="44.47" y="77.35" width="0.8" height="0.8" fill="#222"/>
<rect x="77.42" y="75.21" width="0.8" height="0.8" fill="#222"/>
<rect x="49.57" y="76.31" width="0.8" height="0.8" fill="#222"/>
<rect x="61.87" y="75.75" width="0.8" height="0.8" fill="#222"/>
<rect x="65.88" y="77.11" width="0.8" height="0.8" fill="#222"/>
<rect x="66.61" y="77.09" width="0.8" height="0.8" fill="#222"/>
<rect x="70.09" y="74.41" width="0.8" height="0.8" fill="#222"/>
<rect x="62.36" y="75.23" width="0.8" height="0.8" fill="#222"/>
<rect x="65.37" y="77.12" width="0.8" height="0.8" fill="#222"/>
<rect x="55.06" y="74.22" width="0.8" height="0.8" fill="#222"/>
<rect x="45.58" y="75.22" width="0.8" height="0.8" fill="#222"/>
<rect x="58.76" y="74.64" width="0.8" height="0.8" fill="#222"/>
<rect x="61.11" y="75.25" width="0.8" height="0.8" fill="#222"/>
<rect x="51.71" y="76.51" width="0.8" height="0.8" fill="#222"/>
<rect x="44.12" y="76.24" width="0.8" height="0.8" fill="#222"/>
<rect x="67.32" y="74.16" width="0.8" height="0.8" fill="#222"/>
<rect x="59.94" y="76.63" width="0.8" height="0.8" fill="#222"/>
<rect x="63.66" y="75.09" width="0.8" height="0.8" fill="#222"/>
<rect x="49.72" y="75.07" width="0.8" height="0.8" fill="#222"/>
<rect x="68.82" y="77.19" width="0.8" height="0.8" fill="#222"/>
<rect x="66.92" y="77.37" width="0.8" height="0.8" fill="#222"/>
<rect x="52.92" y="76.16" width="0.8" height="0.8" fill="#222"/>
<rect x="61.30" y="77.22" width="0.8" height="0.8" fill="#222"/>
<rect x="69.23" y="77.23" width="0.8" height="0.8" fill="#222"/>
<rect x="72.49" y="75.38" width="0.8" height="0.8" fill="#222"/>
<rect x="61.09" y="74.29" width="0.8" height="0.8" fill="#222"/>
<rect x="63.26" y="75.40" width="0.8" height="0.8" fill="#222"/>
<rect x="49.66" y="77.23" width="0.8" height="0.8" fill="#222"/>
<rect x="55.50" y="75.53" width="0.8" height="0.8" fill="#222"/>
<rect x="70.15" y="74.60" width="0.8" height="0.8" fill="#222"/>
<rect x="82.07" y="75.25" width="0.8" height="0.8" fill="#222"/>
<rect x="68.22" y="76.78" width="0.8" height="0.8" fill="#222"/>
<rect x="44.32" y="76.81" width="0.8" height="0.8" fill="#222"/>
<rect x="72.09" y="74.60" width="0.8" height="0.8" fill="#222"/>
<rect x="55.40" y="76.09" width="0.8" height="0.8" fill="#222"/>
<rect x="93.29" y="75.72" width="0.8" height="0.8" fill="#222"/>
<rect x="44.21" y="74.29" width="0.8" height="0.8" fill="#222"/>
<rect x="52.20" y="75.01" width="0.8" height="0.8" fill="#222"/>
<rect x="71.12" y="75.69" width="0.8" height="0.8" fill="#222"/>
<rect x="90.88" y="75.48" width="0.8" height="0.8" fill="#222"/>
<rect x="57.47" y="76.70" width="0.8" height="0.8" fill="#222"/>
<rect x="54.03" y="76.28" width="0.8" height="0.8" fill="#222"/>
<rect x="56.19" y="76.65" width="0.8" height="0.8" fill="#222"/>
<rect x="66.01" y="74.39" width="0.8" height="0.8" fill="#222"/>
<rect x="67.83" y="75.70" width="0.8" height="0.8" fill="#222"/>
<rect x="57.24" y="74.36" width="0.8" height="0.8" fill="#222"/>
<rect x="50.94" y="74.60" width="0.8" height="0.8" fill="#222"/>
<rect x="60.25" y="74.94" width="0.8" height="0.8" fill="#222"/>
<rect x="52.19" y="74.33" width="0.8" height="0.8" fill="#222"/>
<rect x="91.72" y="75.82" width="0.8" height="0.8" fill="#222"/>
<rect x="62.65" y="76.15" width="0.8" height="0.8" fill="#222"/>
<rect x="73.67" y="74.44" width="0.8" height="0.8" fill="#222"/>
<rect x="43.64" y="76.32" width="0.8" height="0.8" fill="#222"/>
<rect x="79.05" y="74.08" width="0.8" height="0.8" fill="#222"/>
<rect x="54.12" y="74.71" width="0.8" height="0.8" fill="#222"/>
<rect x="44.66" y="77.28" width="0.8" height="0.8" fill="#222"/>
<rect x="51.49" y="75.22" width="0.8" height="0.8" fill="#222"/>
<rect x="44.66" y="74.62" width="0.8" height="0.8" fill="#222"/>
<rect x="51.73" y="75.43" width="0.8" height="0.8" fill="#222"/>
<rect x="57.02" y="75.66" width="0.8" height="0.8" fill="#222"/>
<rect x="48.12" y="74.59" width="0.8" height="0.8" fill="#222"/>
<rect x="72.22" y="74.60" width="0.8" height="0.8" fill="#222"/>
<rect x="57.73" y="74.95" width="0.8" height="0.8" fill="#222"/>
<rect x="55.38" y="77.37" width="0.8" height="0.8" fill="#222"/>
<rect x="67.32" y="74.08" width="0.8" height="0.8" fill="#222"/>
<rect x="61.81" y="77.29" width="0.8" height="0.8" fill="#222"/>
<rect x="66.14" y="75.81" width="0.8" height="0.8" fill="#222"/>
<rect x="60.70" y="77.39" width="0.8" height="0.8" fill="#222"/>
<rect x="59.35" y="75.12" width="0.8" height="0.8" fill="#222"/>
<rect x="51.40" y="75.07" width="0.8" height="0.8" fill="#222"/>
<rect x="62.45" y="74.78" width="0.8" height="0.8" fill="#222"/>
<rect x="46.02" y="76.84" width="0.8" height="0.8" fill="#222"/>
<rect x="108.8" y="14.4" width="62.10000000000001" height="62.199999999999996" fill="none" stroke="#707070" stroke-width="1.0"/>
<polygon points="109.40,76.60 109.40,26.50 110.00,25.23 111.00,25.66 112.00,26.54 113.00,25.96 114.00,25.48 115.00,26.78 116.00,25.54 117.00,25.49 118.00,26.31 119.00,26.78 120.00,26.33 121.00,25.23 122.00,25.23 123.00,25.54 124.00,26.26 125.00,26.73 126.00,25.38 127.00,26.27 128.00,26.28 129.00,25.25 130.00,26.64 131.00,25.70 132.00,25.80 133.00,26.47 134.60,26.60 135.40,35.00 134.90,45.00 135.60,55.00 135.00,65.00 135.60,76.60" fill="#000"/>
<rect x="109.47" y="22.51" width="0.9" height="0.9" fill="#000"/>
<rect x="110.19" y="20.34" width="0.9" height="0.9" fill="#000"/>
<rect x="108.63" y="16.94" width="0.9" height="0.9" fill="#000"/>
<rect x="110.20" y="26.74" width="0.9" height="0.9" fill="#000"/>
<rect x="109.72" y="16.97" width="0.9" height="0.9" fill="#000"/>
<rect x="109.61" y="15.91" width="0.9" height="0.9" fill="#000"/>
<rect x="109.89" y="26.50" width="0.9" height="0.9" fill="#000"/>
<rect x="108.82" y="17.46" width="0.9" height="0.9" fill="#000"/>
<rect x="108.86" y="22.66" width="0.9" height="0.9" fill="#000"/>
<rect x="108.91" y="24.40" width="0.9" height="0.9" fill="#000"/>
<rect x="108.88" y="23.36" width="0.9" height="0.9" fill="#000"/>
<rect x="109.95" y="25.66" width="0.9" height="0.9" fill="#000"/>
<rect x="109.03" y="25.96" width="0.9" height="0.9" fill="#000"/>
<rect x="109.75" y="19.69" width="0.9" height="0.9" fill="#000"/>
<rect x="108.88" y="22.51" width="0.9" height="0.9" fill="#000"/>
<rect x="109.17" y="16.19" width="0.9" height="0.9" fill="#000"/>
<rect x="109.33" y="20.64" width="0.9" height="0.9" fill="#000"/>
<rect x="108.98" y="17.23" width="0.9" height="0.9" fill="#000"/>
<rect x="109.47" y="18.09" width="0.9" height="0.9" fill="#000"/>
<rect x="109.30" y="20.43" width="0.9" height="0.9" fill="#000"/>
<rect x="116.54" y="26.04" width="0.9" height="0.9" fill="#000"/>
<rect x="122.76" y="26.18" width="0.9" height="0.9" fill="#000"/>
<rect x="126.75" y="25.42" width="0.9" height="0.9" fill="#000"/>
<rect x="133.26" y="22.32" width="0.9" height="0.9" fill="#000"/>
<rect x="133.40" y="26.09" width="0.9" height="0.9" fill="#000"/>
<rect x="126.51" y="26.37" width="0.9" height="0.9" fill="#000"/>
<rect x="122.71" y="26.37" width="0.9" height="0.9" fill="#000"/>
<rect x="125.04" y="26.00" width="0.9" height="0.9" fill="#000"/>
<rect x="111.96" y="26.15" width="0.9" height="0.9" fill="#000"/>
<rect x="120.51" y="25.36" width="0.9" height="0.9" fill="#000"/>
<rect x="134.02" y="26.30" width="0.9" height="0.9" fill="#000"/>
<rect x="129.14" y="21.97" width="0.9" height="0.9" fill="#000"/>
<rect x="121.89" y="25.74" width="0.9" height="0.9" fill="#000"/>
<rect x="118.14" y="25.15" width="0.9" height="0.9" fill="#000"/>
<rect x="112.32" y="25.84" width="0.9" height="0.9" fill="#000"/>
<rect x="114.70" y="24.70" width="0.9" height="0.9" fill="#000"/>
<rect x="135.78" y="24.66" width="0.9" height="0.9" fill="#000"/>
<rect x="110.68" y="24.51" width="0.9" height="0.9" fill="#000"/>
<rect x="115.87" y="23.83" width="0.9" height="0.9" fill="#000"/>
<rect x="129.19" y="26.09" width="0.9" height="0.9" fill="#000"/>
<rect x="128.75" y="23.84" width="0.9" height="0.9" fill="#000"/>
<rect x="132.52" y="23.67" width="0.9" height="0.9" fill="#000"/>
<rect x="116.89" y="26.40" width="0.9" height="0.9" fill="#000"/>
<rect x="129.30" y="24.09" width="0.9" height="0.9" fill="#000"/>
<rect x="131.47" y="25.73" width="0.9" height="0.9" fill="#000"/>
<rect x="120.34" y="26.40" width="0.9" height="0.9" fill="#000"/>
<rect x="132.06" y="25.56" width="0.9" height="0.9" fill="#000"/>
<rect x="133.63" y="25.44" width="0.9" height="0.9" fill="#000"/>
<rect x="131.30" y="25.48" width="0.9" height="0.9" fill="#000"/>
<rect x="133.96" y="26.34" width="0.9" height="0.9" fill="#000"/>
<rect x="114.33" y="25.65" width="0.9" height="0.9" fill="#000"/>
<rect x="136.01" y="26.17" width="0.9" height="0.9" fill="#000"/>
<rect x="127.53" y="26.40" width="0.9" height="0.9" fill="#000"/>
<rect x="133.81" y="24.78" width="0.9" height="0.9" fill="#000"/>
<rect x="111.94" y="25.03" width="0.9" height="0.9" fill="#000"/>
<rect x="131.51" y="25.19" width="0.9" height="0.9" fill="#000"/>
<rect x="135.03" y="25.30" width="0.9" height="0.9" fill="#000"/>
<rect x="134.57" y="21.68" width="0.9" height="0.9" fill="#000"/>
<rect x="133.48" y="26.36" width="0.9" height="0.9" fill="#000"/>
<rect x="115.60" y="22.61" width="0.9" height="0.9" fill="#000"/>
<rect x="111.72" y="25.37" width="0.9" height="0.9" fill="#000"/>
<rect x="111.98" y="25.92" width="0.9" height="0.9" fill="#000"/>
<rect x="116.65" y="25.54" width="0.9" height="0.9" fill="#000"/>
<rect x="127.28" y="25.32" width="0.9" height="0.9" fill="#000"/>
<rect x="120.90" y="25.82" width="0.9" height="0.9" fill="#000"/>
<rect x="113.44" y="26.44" width="0.9" height="0.9" fill="#000"/>
<rect x="131.24" y="25.00" width="0.9" height="0.9" fill="#000"/>
<rect x="114.82" y="25.95" width="0.9" height="0.9" fill="#000"/>
<rect x="115.20" y="25.66" width="0.9" height="0.9" fill="#000"/>
<rect x="112.24" y="25.40" width="0.9" height="0.9" fill="#000"/>
<rect x="126.05" y="24.95" width="0.9" height="0.9" fill="#000"/>
<rect x="112.33" y="25.59" width="0.9" height="0.9" fill="#000"/>
<rect x="123.11" y="25.10" width="0.9" height="0.9" fill="#000"/>
<rect x="126.11" y="25.88" width="0.9" height="0.9" fill="#000"/>
<rect x="112.42" y="24.34" width="0.9" height="0.9" fill="#000"/>
<rect x="112.74" y="25.58" width="0.9" height="0.9" fill="#000"/>
<rect x="115.73" y="25.14" width="0.9" height="0.9" fill="#000"/>
<rect x="131.19" y="25.61" width="0.9" height="0.9" fill="#000"/>
<rect x="122.62" y="25.18" width="0.9" height="0.9" fill="#000"/>
<rect x="124.83" y="25.57" width="0.9" height="0.9" fill="#000"/>
<rect x="116.88" y="25.47" width="0.9" height="0.9" fill="#000"/>
<rect x="111.01" y="25.95" width="0.9" height="0.9" fill="#000"/>
<rect x="115.90" y="26.27" width="0.9" height="0.9" fill="#000"/>
<rect x="125.95" y="26.30" width="0.9" height="0.9" fill="#000"/>
<rect x="123.60" y="25.95" width="0.9" height="0.9" fill="#000"/>
<rect x="116.82" y="24.14" width="0.9" height="0.9" fill="#000"/>
<rect x="122.44" y="25.53" width="0.9" height="0.9" fill="#000"/>
<rect x="114.77" y="26.45" width="0.9" height="0.9" fill="#000"/>
<rect x="121.13" y="23.99" width="0.9" height="0.9" fill="#000"/>
<rect x="130.25" y="25.55" width="0.9" height="0.9" fill="#000"/>
<rect x="117.61" y="25.54" width="0.9" height="0.9" fill="#000"/>
<rect x="111.01" y="26.35" width="0.9" height="0.9" fill="#000"/>
<rect x="123.52" y="24.53" width="0.9" height="0.9" fill="#000"/>
<rect x="120.67" y="24.44" width="0.9" height="0.9" fill="#000"/>
<rect x="129.79" y="25.15" width="0.9" height="0.9" fill="#000"/>
<rect x="118.17" y="23.51" width="0.9" height="0.9" fill="#000"/>
<rect x="119.36" y="26.00" width="0.9" height="0.9" fill="#000"/>
<rect x="124.01" y="26.37" width="0.9" height="0.9" fill="#000"/>
<rect x="129.40" y="25.06" width="0.9" height="0.9" fill="#000"/>
<rect x="114.81" y="23.80" width="0.9" height="0.9" fill="#000"/>
<rect x="131.35" y="26.09" width="0.9" height="0.9" fill="#000"/>
<rect x="111.20" y="24.93" width="0.9" height="0.9" fill="#000"/>
<rect x="116.27" y="26.00" width="0.9" height="0.9" fill="#000"/>
<rect x="112.79" y="24.53" width="0.9" height="0.9" fill="#000"/>
<rect x="128.52" y="26.08" width="0.9" height="0.9" fill="#000"/>
<rect x="131.43" y="26.36" width="0.9" height="0.9" fill="#000"/>
<rect x="115.59" y="26.09" width="0.9" height="0.9" fill="#000"/>
<rect x="116.35" y="24.26" width="0.9" height="0.9" fill="#000"/>
<rect x="113.24" y="25.99" width="0.9" height="0.9" fill="#000"/>
<rect x="114.82" y="26.18" width="0.9" height="0.9" fill="#000"/>
<rect x="125.12" y="25.87" width="0.9" height="0.9" fill="#000"/>
<rect x="126.75" y="26.20" width="0.9" height="0.9" fill="#000"/>
<rect x="114.86" y="26.22" width="0.9" height="0.9" fill="#000"/>
<rect x="133.20" y="24.77" width="0.9" height="0.9" fill="#000"/>
<rect x="129.97" y="26.03" width="0.9" height="0.9" fill="#000"/>
<rect x="117.41" y="26.22" width="0.9" height="0.9" fill="#000"/>
<rect x="112.79" y="25.64" width="0.9" height="0.9" fill="#000"/>
<rect x="131.56" y="26.04" width="0.9" height="0.9" fill="#000"/>
<rect x="119.38" y="22.28" width="0.9" height="0.9" fill="#000"/>
<rect x="121.97" y="26.49" width="0.9" height="0.9" fill="#000"/>
<rect x="119.84" y="24.67" width="0.9" height="0.9" fill="#000"/>
<rect x="111.69" y="25.97" width="0.9" height="0.9" fill="#000"/>
<rect x="122.49" y="23.50" width="0.9" height="0.9" fill="#000"/>
<rect x="131.74" y="26.18" width="0.9" height="0.9" fill="#000"/>
<rect x="122.17" y="25.54" width="0.9" height="0.9" fill="#000"/>
<rect x="132.51" y="25.47" width="0.9" height="0.9" fill="#000"/>
<rect x="119.41" y="26.13" width="0.9" height="0.9" fill="#000"/>
<rect x="128.50" y="26.46" width="0.9" height="0.9" fill="#000"/>
<rect x="126.39" y="26.01" width="0.9" height="0.9" fill="#000"/>
<rect x="134.55" y="25.31" width="0.9" height="0.9" fill="#000"/>
<rect x="113.95" y="23.99" width="0.9" height="0.9" fill="#000"/>
<rect x="121.03" y="23.59" width="0.9" height="0.9" fill="#000"/>
<rect x="110.97" y="23.41" width="0.9" height="0.9" fill="#000"/>
<rect x="131.11" y="26.16" width="0.9" height="0.9" fill="#000"/>
<rect x="133.27" y="26.05" width="0.9" height="0.9" fill="#000"/>
<rect x="121.50" y="23.38" width="0.9" height="0.9" fill="#000"/>
<rect x="123.43" y="25.92" width="0.9" height="0.9" fill="#000"/>
<rect x="131.27" y="23.95" width="0.9" height="0.9" fill="#000"/>
<rect x="131.07" y="24.32" width="0.9" height="0.9" fill="#000"/>
<rect x="123.80" y="26.18" width="0.9" height="0.9" fill="#000"/>
<rect x="115.61" y="25.41" width="0.9" height="0.9" fill="#000"/>
<rect x="117.84" y="25.59" width="0.9" height="0.9" fill="#000"/>
<rect x="113.57" y="23.83" width="0.9" height="0.9" fill="#000"/>
<rect x="134.63" y="26.39" width="0.9" height="0.9" fill="#000"/>
<rect x="115.29" y="24.70" width="0.9" height="0.9" fill="#000"/>
<rect x="116.42" y="26.00" width="0.9" height="0.9" fill="#000"/>
<rect x="124.70" y="25.73" width="0.9" height="0.9" fill="#000"/>
<rect x="123.30" y="25.28" width="0.9" height="0.9" fill="#000"/>
<rect x="132.58" y="25.51" width="0.9" height="0.9" fill="#000"/>
<rect x="135.30" y="26.07" width="0.9" height="0.9" fill="#000"/>
<rect x="124.88" y="25.73" width="0.9" height="0.9" fill="#000"/>
<rect x="120.19" y="26.16" width="0.9" height="0.9" fill="#000"/>
<rect x="110.45" y="25.38" width="0.9" height="0.9" fill="#000"/>
<rect x="114.54" y="25.60" width="0.9" height="0.9" fill="#000"/>
<rect x="113.41" y="25.67" width="0.9" height="0.9" fill="#000"/>
<rect x="128.54" y="25.69" width="0.9" height="0.9" fill="#000"/>
<rect x="122.98" y="23.57" width="0.9" height="0.9" fill="#000"/>
<rect x="126.36" y="24.73" width="0.9" height="0.9" fill="#000"/>
<rect x="120.43" y="23.07" width="0.9" height="0.9" fill="#000"/>
<rect x="112.18" y="26.06" width="0.9" height="0.9" fill="#000"/>
<rect x="128.70" y="23.91" width="0.9" height="0.9" fill="#000"/>
<rect x="118.01" y="26.30" width="0.9" height="0.9" fill="#000"/>
<rect x="130.73" y="25.68" width="0.9" height="0.9" fill="#000"/>
<rect x="127.07" y="24.19" width="0.9" height="0.9" fill="#000"/>
<rect x="121.46" y="25.84" width="0.9" height="0.9" fill="#000"/>
<rect x="119.84" y="25.12" width="0.9" height="0.9" fill="#000"/>
<rect x="113.40" y="25.19" width="0.9" height="0.9" fill="#000"/>
<rect x="127.32" y="24.78" width="0.9" height="0.9" fill="#000"/>
<rect x="115.64" y="24.89" width="0.9" height="0.9" fill="#000"/>
<rect x="122.57" y="25.02" width="0.9" height="0.9" fill="#000"/>
<rect x="129.64" y="25.38" width="0.9" height="0.9" fill="#000"/>
<rect x="111.36" y="22.74" width="0.9" height="0.9" fill="#000"/>
<rect x="132.93" y="26.22" width="0.9" height="0.9" fill="#000"/>
<rect x="131.20" y="26.41" width="0.9" height="0.9" fill="#000"/>
<rect x="127.41" y="25.41" width="0.9" height="0.9" fill="#000"/>
<rect x="132.66" y="25.77" width="0.9" height="0.9" fill="#000"/>
<rect x="132.50" y="25.48" width="0.9" height="0.9" fill="#000"/>
<rect x="120.26" y="26.26" width="0.9" height="0.9" fill="#000"/>
<rect x="132.66" y="26.12" width="0.9" height="0.9" fill="#000"/>
<rect x="119.06" y="26.06" width="0.9" height="0.9" fill="#000"/>
<rect x="128.00" y="26.07" width="0.9" height="0.9" fill="#000"/>
<rect x="120.44" y="25.10" width="0.9" height="0.9" fill="#000"/>
<rect x="113.84" y="23.05" width="0.9" height="0.9" fill="#000"/>
<rect x="122.60" y="25.54" width="0.9" height="0.9" fill="#000"/>
<rect x="116.59" y="26.30" width="0.9" height="0.9" fill="#000"/>
<rect x="122.31" y="26.20" width="0.9" height="0.9" fill="#000"/>
<rect x="121.34" y="25.08" width="0.9" height="0.9" fill="#000"/>
<rect x="131.68" y="26.13" width="0.9" height="0.9" fill="#000"/>
<rect x="133.81" y="24.03" width="0.9" height="0.9" fill="#000"/>
<rect x="111.39" y="25.09" width="0.9" height="0.9" fill="#000"/>
<rect x="131.36" y="26.01" width="0.9" height="0.9" fill="#000"/>
<rect x="112.53" y="23.15" width="0.9" height="0.9" fill="#000"/>
<rect x="129.59" y="25.82" width="0.9" height="0.9" fill="#000"/>
<rect x="133.29" y="22.48" width="0.9" height="0.9" fill="#000"/>
<rect x="134.64" y="24.81" width="0.9" height="0.9" fill="#000"/>
<rect x="120.56" y="25.36" width="0.9" height="0.9" fill="#000"/>
<rect x="129.12" y="24.81" width="0.9" height="0.9" fill="#000"/>
<rect x="112.93" y="23.31" width="0.9" height="0.9" fill="#000"/>
<rect x="130.40" y="25.86" width="0.9" height="0.9" fill="#000"/>
<rect x="126.27" y="25.86" width="0.9" height="0.9" fill="#000"/>
<rect x="115.44" y="23.51" width="0.9" height="0.9" fill="#000"/>
<rect x="128.57" y="26.43" width="0.9" height="0.9" fill="#000"/>
<rect x="128.39" y="25.28" width="0.9" height="0.9" fill="#000"/>
<rect x="126.50" y="25.07" width="0.9" height="0.9" fill="#000"/>
<rect x="131.77" y="24.77" width="0.9" height="0.9" fill="#000"/>
<rect x="123.36" y="24.99" width="0.9" height="0.9" fill="#000"/>
<rect x="117.19" y="24.38" width="0.9" height="0.9" fill="#000"/>
<rect x="121.38" y="25.56" width="0.9" height="0.9" fill="#000"/>
<rect x="127.57" y="26.06" width="0.9" height="0.9" fill="#000"/>
<rect x="116.98" y="25.05" width="0.9" height="0.9" fill="#000"/>
<rect x="127.51" y="26.02" width="0.9" height="0.9" fill="#000"/>
<rect x="118.91" y="25.45" width="0.9" height="0.9" fill="#000"/>
<rect x="119.06" y="26.25" width="0.9" height="0.9" fill="#000"/>
<rect x="115.65" y="25.63" width="0.9" height="0.9" fill="#000"/>
<rect x="120.58" y="24.68" width="0.9" height="0.9" fill="#000"/>
<rect x="110.31" y="24.75" width="0.9" height="0.9" fill="#000"/>
<rect x="120.45" y="26.31" width="0.9" height="0.9" fill="#000"/>
<rect x="112.04" y="26.32" width="0.9" height="0.9" fill="#000"/>
<rect x="127.39" y="25.40" width="0.9" height="0.9" fill="#000"/>
<rect x="119.93" y="24.47" width="0.9" height="0.9" fill="#000"/>
<rect x="136.67" y="36.97" width="0.9" height="0.9" fill="#000"/>
<rect x="137.52" y="51.60" width="0.9" height="0.9" fill="#000"/>
<rect x="135.07" y="50.32" width="0.9" height="0.9" fill="#000"/>
<rect x="140.72" y="28.78" width="0.9" height="0.9" fill="#000"/>
<rect x="135.83" y="62.32" width="0.9" height="0.9" fill="#000"/>
<rect x="139.92" y="58.48" width="0.9" height="0.9" fill="#000"/>
<rect x="138.75" y="34.25" width="0.9" height="0.9" fill="#000"/>
<rect x="135.01" y="30.95" width="0.9" height="0.9" fill="#000"/>
<rect x="139.49" y="74.99" width="0.9" height="0.9" fill="#000"/>
<rect x="135.15" y="63.17" width="0.9" height="0.9" fill="#000"/>
<rect x="139.01" y="49.14" width="0.9" height="0.9" fill="#000"/>
<rect x="137.36" y="26.96" width="0.9" height="0.9" fill="#000"/>
<rect x="138.26" y="27.61" width="0.9" height="0.9" fill="#000"/>
<rect x="137.40" y="27.02" width="0.9" height="0.9" fill="#000"/>
<rect x="135.57" y="67.55" width="0.9" height="0.9" fill="#000"/>
<rect x="142.22" y="40.25" width="0.9" height="0.9" fill="#000"/>
<rect x="141.06" y="68.14" width="0.9" height="0.9" fill="#000"/>
<rect x="137.77" y="43.14" width="0.9" height="0.9" fill="#000"/>
<rect x="136.17" y="65.59" width="0.9" height="0.9" fill="#000"/>
<rect x="136.03" y="32.99" width="0.9" height="0.9" fill="#000"/>
<rect x="136.77" y="47.91" width="0.9" height="0.9" fill="#000"/>
<rect x="137.22" y="41.72" width="0.9" height="0.9" fill="#000"/>
<rect x="141.19" y="27.80" width="0.9" height="0.9" fill="#000"/>
<rect x="135.45" y="39.13" width="0.9" height="0.9" fill="#000"/>
<rect x="135.39" y="26.74" width="0.9" height="0.9" fill="#000"/>
<rect x="137.83" y="28.96" width="0.9" height="0.9" fill="#000"/>
<rect x="136.38" y="32.20" width="0.9" height="0.9" fill="#000"/>
<rect x="135.73" y="29.32" width="0.9" height="0.9" fill="#000"/>
<rect x="137.63" y="43.41" width="0.9" height="0.9" fill="#000"/>
<rect x="136.97" y="39.89" width="0.9" height="0.9" fill="#000"/>
<rect x="135.47" y="29.26" width="0.9" height="0.9" fill="#000"/>
<rect x="136.80" y="36.74" width="0.9" height="0.9" fill="#000"/>
<rect x="135.07" y="30.97" width="0.9" height="0.9" fill="#000"/>
<rect x="138.48" y="71.15" width="0.9" height="0.9" fill="#000"/>
<rect x="138.03" y="44.04" width="0.9" height="0.9" fill="#000"/>
<rect x="136.71" y="40.22" width="0.9" height="0.9" fill="#000"/>
<rect x="139.36" y="64.70" width="0.9" height="0.9" fill="#000"/>
<rect x="137.90" y="40.38" width="0.9" height="0.9" fill="#000"/>
<rect x="136.12" y="63.12" width="0.9" height="0.9" fill="#000"/>
<rect x="143.32" y="51.06" width="0.9" height="0.9" fill="#000"/>
<rect x="135.58" y="43.28" width="0.9" height="0.9" fill="#000"/>
<rect x="135.18" y="69.22" width="0.9" height="0.9" fill="#000"/>
<rect x="135.53" y="50.05" width="0.9" height="0.9" fill="#000"/>
<rect x="136.16" y="45.07" width="0.9" height="0.9" fill="#000"/>
<rect x="136.69" y="74.76" width="0.9" height="0.9" fill="#000"/>
<rect x="138.40" y="33.13" width="0.9" height="0.9" fill="#000"/>
<rect x="137.57" y="60.88" width="0.9" height="0.9" fill="#000"/>
<rect x="136.23" y="50.54" width="0.9" height="0.9" fill="#000"/>
<rect x="135.67" y="47.58" width="0.9" height="0.9" fill="#000"/>
<rect x="135.18" y="71.65" width="0.9" height="0.9" fill="#000"/>
<rect x="138.18" y="40.73" width="0.9" height="0.9" fill="#000"/>
<rect x="136.44" y="70.94" width="0.9" height="0.9" fill="#000"/>
<rect x="135.63" y="42.53" width="0.9" height="0.9" fill="#000"/>
<rect x="135.20" y="24.85" width="0.9" height="0.9" fill="#000"/>
<rect x="141.05" y="75.25" width="0.9" height="0.9" fill="#000"/>
<rect x="135.38" y="40.13" width="0.9" height="0.9" fill="#000"/>
<rect x="136.10" y="73.60" width="0.9" height="0.9" fill="#000"/>
<rect x="135.78" y="29.51" width="0.9" height="0.9" fill="#000"/>
<rect x="136.50" y="35.61" width="0.9" height="0.9" fill="#000"/>
<rect x="135.07" y="70.65" width="0.9" height="0.9" fill="#000"/>
<rect x="136.86" y="27.18" width="0.9" height="0.9" fill="#000"/>
<rect x="136.85" y="34.20" width="0.9" height="0.9" fill="#000"/>
<rect x="140.10" y="49.97" width="0.9" height="0.9" fill="#000"/>
<rect x="136.45" y="66.69" width="0.9" height="0.9" fill="#000"/>
<rect x="137.86" y="51.40" width="0.9" height="0.9" fill="#000"/>
<rect x="135.29" y="24.37" width="0.9" height="0.9" fill="#000"/>
<rect x="135.91" y="24.13" width="0.9" height="0.9" fill="#000"/>
<rect x="135.56" y="27.08" width="0.9" height="0.9" fill="#000"/>
<rect x="139.82" y="42.86" width="0.9" height="0.9" fill="#000"/>
<rect x="137.62" y="67.86" width="0.9" height="0.9" fill="#000"/>
<rect x="138.45" y="27.12" width="0.9" height="0.9" fill="#000"/>
<rect x="136.48" y="24.95" width="0.9" height="0.9" fill="#000"/>
<rect x="137.76" y="48.88" width="0.9" height="0.9" fill="#000"/>
<rect x="141.85" y="75.02" width="0.9" height="0.9" fill="#000"/>
<rect x="136.33" y="32.27" width="0.9" height="0.9" fill="#000"/>
<rect x="135.14" y="29.67" width="0.9" height="0.9" fill="#000"/>
<rect x="138.02" y="74.07" width="0.9" height="0.9" fill="#000"/>
<rect x="135.35" y="55.09" width="0.9" height="0.9" fill="#000"/>
<rect x="135.28" y="31.45" width="0.9" height="0.9" fill="#000"/>
<rect x="135.63" y="71.65" width="0.9" height="0.9" fill="#000"/>
<rect x="136.61" y="28.57" width="0.9" height="0.9" fill="#000"/>
<rect x="135.42" y="29.61" width="0.9" height="0.9" fill="#000"/>
<rect x="139.52" y="39.31" width="0.9" height="0.9" fill="#000"/>
<rect x="135.46" y="47.62" width="0.9" height="0.9" fill="#000"/>
<rect x="137.56" y="55.41" width="0.9" height="0.9" fill="#000"/>
<rect x="136.47" y="59.92" width="0.9" height="0.9" fill="#000"/>
<rect x="135.12" y="50.54" width="0.9" height="0.9" fill="#000"/>
<rect x="135.47" y="73.75" width="0.9" height="0.9" fill="#000"/>
<rect x="135.74" y="70.29" width="0.9" height="0.9" fill="#000"/>
<rect x="136.81" y="35.31" width="0.9" height="0.9" fill="#000"/>
<rect x="137.29" y="27.08" width="0.9" height="0.9" fill="#000"/>
<rect x="135.37" y="51.96" width="0.9" height="0.9" fill="#000"/>
<rect x="135.20" y="70.95" width="0.9" height="0.9" fill="#000"/>
<rect x="135.77" y="58.94" width="0.9" height="0.9" fill="#000"/>
<rect x="135.00" y="37.25" width="0.9" height="0.9" fill="#000"/>
<rect x="144.05" y="67.56" width="0.9" height="0.9" fill="#000"/>
<rect x="137.08" y="63.98" width="0.9" height="0.9" fill="#000"/>
<rect x="136.88" y="45.77" width="0.9" height="0.9" fill="#000"/>
<rect x="135.44" y="41.09" width="0.9" height="0.9" fill="#000"/>
<rect x="136.81" y="35.72" width="0.9" height="0.9" fill="#000"/>
<rect x="138.72" y="35.62" width="0.9" height="0.9" fill="#000"/>
<rect x="137.34" y="41.75" width="0.9" height="0.9" fill="#000"/>
<rect x="136.64" y="53.36" width="0.9" height="0.9" fill="#000"/>
<rect x="136.45" y="45.93" width="0.9" height="0.9" fill="#000"/>
<rect x="140.38" y="69.98" width="0.9" height="0.9" fill="#000"/>
<rect x="135.34" y="43.59" width="0.9" height="0.9" fill="#000"/>
<rect x="137.50" y="50.90" width="0.9" height="0.9" fill="#000"/>
<rect x="141.30" y="53.96" width="0.9" height="0.9" fill="#000"/>
<rect x="136.45" y="31.54" width="0.9" height="0.9" fill="#000"/>
<rect x="136.09" y="39.98" width="0.9" height="0.9" fill="#000"/>
<rect x="135.28" y="40.54" width="0.9" height="0.9" fill="#000"/>
<rect x="139.10" y="75.25" width="0.9" height="0.9" fill="#000"/>
<rect x="135.25" y="34.41" width="0.9" height="0.9" fill="#000"/>
<rect x="137.37" y="51.01" width="0.9" height="0.9" fill="#000"/>
<rect x="136.51" y="59.06" width="0.9" height="0.9" fill="#000"/>
<rect x="138.50" y="24.44" width="0.9" height="0.9" fill="#000"/>
<rect x="135.05" y="42.45" width="0.9" height="0.9" fill="#000"/>
<rect x="135.33" y="45.87" width="0.9" height="0.9" fill="#000"/>
<rect x="136.87" y="41.38" width="0.9" height="0.9" fill="#000"/>
<rect x="141.37" y="41.98" width="0.9" height="0.9" fill="#000"/>
<rect x="135.03" y="65.82" width="0.9" height="0.9" fill="#000"/>
<rect x="137.67" y="65.60" width="0.9" height="0.9" fill="#000"/>
<rect x="137.72" y="47.58" width="0.9" height="0.9" fill="#000"/>
<rect x="136.30" y="25.39" width="0.9" height="0.9" fill="#000"/>
<rect x="136.33" y="30.37" width="0.9" height="0.9" fill="#000"/>
<rect x="138.13" y="44.48" width="0.9" height="0.9" fill="#000"/>
<rect x="135.44" y="45.88" width="0.9" height="0.9" fill="#000"/>
<rect x="135.82" y="53.79" width="0.9" height="0.9" fill="#000"/>
<rect x="135.86" y="59.72" width="0.9" height="0.9" fill="#000"/>
<rect x="137.27" y="73.41" width="0.9" height="0.9" fill="#000"/>
<rect x="138.55" y="53.30" width="0.9" height="0.9" fill="#000"/>
<rect x="140.89" y="58.66" width="0.9" height="0.9" fill="#000"/>
<rect x="136.83" y="65.04" width="0.9" height="0.9" fill="#000"/>
<rect x="135.44" y="45.10" width="0.9" height="0.9" fill="#000"/>
<rect x="135.98" y="49.11" width="0.9" height="0.9" fill="#000"/>
<rect x="137.06" y="37.60" width="0.9" height="0.9" fill="#000"/>
<rect x="136.60" y="50.05" width="0.9" height="0.9" fill="#000"/>
<rect x="140.77" y="42.29" width="0.9" height="0.9" fill="#000"/>
<rect x="136.65" y="57.93" width="0.9" height="0.9" fill="#000"/>
<rect x="138.46" y="37.83" width="0.9" height="0.9" fill="#000"/>
<rect x="135.48" y="45.34" width="0.9" height="0.9" fill="#000"/>
<rect x="140.63" y="58.62" width="0.9" height="0.9" fill="#000"/>
<rect x="137.78" y="72.64" width="0.9" height="0.9" fill="#000"/>
<rect x="139.49" y="68.93" width="0.9" height="0.9" fill="#000"/>
<rect x="135.49" y="50.72" width="0.9" height="0.9" fill="#000"/>
<rect x="138.81" y="71.47" width="0.9" height="0.9" fill="#000"/>
<rect x="135.19" y="53.89" width="0.9" height="0.9" fill="#000"/>
<rect x="135.25" y="69.04" width="0.9" height="0.9" fill="#000"/>
<rect x="137.57" y="29.34" width="0.9" height="0.9" fill="#000"/>
<rect x="135.02" y="38.32" width="0.9" height="0.9" fill="#000"/>
<rect x="139.11" y="56.69" width="0.9" height="0.9" fill="#000"/>
<rect x="142.76" y="57.95" width="0.9" height="0.9" fill="#000"/>
<rect x="136.90" y="50.16" width="0.9" height="0.9" fill="#000"/>
<rect x="136.55" y="56.73" width="0.9" height="0.9" fill="#000"/>
<rect x="135.21" y="67.52" width="0.9" height="0.9" fill="#000"/>
<rect x="139.56" y="52.03" width="0.9" height="0.9" fill="#000"/>
<rect x="135.44" y="38.42" width="0.9" height="0.9" fill="#000"/>
<rect x="135.66" y="24.81" width="0.9" height="0.9" fill="#000"/>
<rect x="139.17" y="48.63" width="0.9" height="0.9" fill="#000"/>
<rect x="137.83" y="40.22" width="0.9" height="0.9" fill="#000"/>
<rect x="138.87" y="28.77" width="0.9" height="0.9" fill="#000"/>
<rect x="139.74" y="69.70" width="0.9" height="0.9" fill="#000"/>
<rect x="135.62" y="52.19" width="0.9" height="0.9" fill="#000"/>
<rect x="137.44" y="41.46" width="0.9" height="0.9" fill="#000"/>
<rect x="138.94" y="30.10" width="0.9" height="0.9" fill="#000"/>
<rect x="137.94" y="27.41" width="0.9" height="0.9" fill="#000"/>
<rect x="136.20" y="51.40" width="0.9" height="0.9" fill="#000"/>
<rect x="135.38" y="65.59" width="0.9" height="0.9" fill="#000"/>
<rect x="135.43" y="54.52" width="0.9" height="0.9" fill="#000"/>
<rect x="135.74" y="49.66" width="0.9" height="0.9" fill="#000"/>
<rect x="145.93" y="72.84" width="0.9" height="0.9" fill="#000"/>
<rect x="136.60" y="50.62" width="0.9" height="0.9" fill="#000"/>
<rect x="135.65" y="67.41" width="0.9" height="0.9" fill="#000"/>
<rect x="137.26" y="61.15" width="0.9" height="0.9" fill="#000"/>
<rect x="136.27" y="75.68" width="0.9" height="0.9" fill="#000"/>
<rect x="136.47" y="45.07" width="0.9" height="0.9" fill="#000"/>
<rect x="137.81" y="67.24" width="0.9" height="0.9" fill="#000"/>
<rect x="136.39" y="64.50" width="0.9" height="0.9" fill="#000"/>
<rect x="136.37" y="29.67" width="0.9" height="0.9" fill="#000"/>
<rect x="135.06" y="47.63" width="0.9" height="0.9" fill="#000"/>
<rect x="135.62" y="30.89" width="0.9" height="0.9" fill="#000"/>
<rect x="138.97" y="25.92" width="0.9" height="0.9" fill="#000"/>
<rect x="136.48" y="65.75" width="0.9" height="0.9" fill="#000"/>
<rect x="135.05" y="34.94" width="0.9" height="0.9" fill="#000"/>
<rect x="136.40" y="55.03" width="0.9" height="0.9" fill="#000"/>
<rect x="137.20" y="41.44" width="0.9" height="0.9" fill="#000"/>
<rect x="141.93" y="54.97" width="0.9" height="0.9" fill="#000"/>
<rect x="136.98" y="69.91" width="0.9" height="0.9" fill="#000"/>
<rect x="135.14" y="52.34" width="0.9" height="0.9" fill="#000"/>
<rect x="135.28" y="66.23" width="0.9" height="0.9" fill="#000"/>
<rect x="135.42" y="32.03" width="0.9" height="0.9" fill="#000"/>
<rect x="142.74" y="63.23" width="0.9" height="0.9" fill="#000"/>
<rect x="135.58" y="30.57" width="0.9" height="0.9" fill="#000"/>
<rect x="139.37" y="61.09" width="0.9" height="0.9" fill="#000"/>
<rect x="136.47" y="58.68" width="0.9" height="0.9" fill="#000"/>
<rect x="135.38" y="67.68" width="0.9" height="0.9" fill="#000"/>
<rect x="135.75" y="65.64" width="0.9" height="0.9" fill="#000"/>
<rect x="136.82" y="47.76" width="0.9" height="0.9" fill="#000"/>
<rect x="135.65" y="36.49" width="0.9" height="0.9" fill="#000"/>
<rect x="140.13" y="30.02" width="0.9" height="0.9" fill="#000"/>
<rect x="139.94" y="56.05" width="0.9" height="0.9" fill="#000"/>
<rect x="135.69" y="67.37" width="0.9" height="0.9" fill="#000"/>
<rect x="137.49" y="54.45" width="0.9" height="0.9" fill="#000"/>
<rect x="136.06" y="47.01" width="0.9" height="0.9" fill="#000"/>
<rect x="139.40" y="74.19" width="0.9" height="0.9" fill="#000"/>
<rect x="137.27" y="61.85" width="0.9" height="0.9" fill="#000"/>
<rect x="137.35" y="46.26" width="0.9" height="0.9" fill="#000"/>
<rect x="136.11" y="55.38" width="0.9" height="0.9" fill="#000"/>
<rect x="136.64" y="43.00" width="0.9" height="0.9" fill="#000"/>
<rect x="135.84" y="31.86" width="0.9" height="0.9" fill="#000"/>
<rect x="140.18" y="73.18" width="0.9" height="0.9" fill="#000"/>
<rect x="137.35" y="38.80" width="0.9" height="0.9" fill="#000"/>
<rect x="138.30" y="31.58" width="0.9" height="0.9" fill="#000"/>
<rect x="139.57" y="44.03" width="0.9" height="0.9" fill="#000"/>
<rect x="135.52" y="54.20" width="0.9" height="0.9" fill="#000"/>
<rect x="142.79" y="65.51" width="0.9" height="0.9" fill="#000"/>
<rect x="135.79" y="38.36" width="0.9" height="0.9" fill="#000"/>
<rect x="135.52" y="55.31" width="0.9" height="0.9" fill="#000"/>
<rect x="144.86" y="58.07" width="0.9" height="0.9" fill="#000"/>
<rect x="139.70" y="56.54" width="0.9" height="0.9" fill="#000"/>
<rect x="136.76" y="47.85" width="0.9" height="0.9" fill="#000"/>
<rect x="135.02" y="54.82" width="0.9" height="0.9" fill="#000"/>
<rect x="139.05" y="60.66" width="0.9" height="0.9" fill="#000"/>
<rect x="138.01" y="36.36" width="0.9" height="0.9" fill="#000"/>
<rect x="136.13" y="68.37" width="0.9" height="0.9" fill="#000"/>
<rect x="136.27" y="51.48" width="0.9" height="0.9" fill="#000"/>
<rect x="135.09" y="33.93" width="0.9" height="0.9" fill="#000"/>
<rect x="136.48" y="42.85" width="0.9" height="0.9" fill="#000"/>
<rect x="143.28" y="66.07" width="0.9" height="0.9" fill="#000"/>
<rect x="137.07" y="54.08" width="0.9" height="0.9" fill="#000"/>
<rect x="137.02" y="28.94" width="0.9" height="0.9" fill="#000"/>
<rect x="135.64" y="72.77" width="0.9" height="0.9" fill="#000"/>
<rect x="138.21" y="33.81" width="0.9" height="0.9" fill="#000"/>
<rect x="136.79" y="73.43" width="0.9" height="0.9" fill="#000"/>
<rect x="138.17" y="55.63" width="0.9" height="0.9" fill="#000"/>
<rect x="139.19" y="41.41" width="0.9" height="0.9" fill="#000"/>
<rect x="135.90" y="27.96" width="0.9" height="0.9" fill="#000"/>
<rect x="135.58" y="56.28" width="0.9" height="0.9" fill="#000"/>
<rect x="137.75" y="51.26" width="0.9" height="0.9" fill="#000"/>
<rect x="135.49" y="30.23" width="0.9" height="0.9" fill="#000"/>
<rect x="136.94" y="55.78" width="0.9" height="0.9" fill="#000"/>
<rect x="135.98" y="54.03" width="0.9" height="0.9" fill="#000"/>
<rect x="140.69" y="59.39" width="0.9" height="0.9" fill="#000"/>
<rect x="138.63" y="28.70" width="0.9" height="0.9" fill="#000"/>
<rect x="135.41" y="50.08" width="0.9" height="0.9" fill="#000"/>
<rect x="135.17" y="24.98" width="0.9" height="0.9" fill="#000"/>
<rect x="137.85" y="74.69" width="0.9" height="0.9" fill="#000"/>
<rect x="135.33" y="62.60" width="0.9" height="0.9" fill="#000"/>
<rect x="143.75" y="43.98" width="0.9" height="0.9" fill="#000"/>
<rect x="136.90" y="24.39" width="0.9" height="0.9" fill="#000"/>
<rect x="136.57" y="46.22" width="0.9" height="0.9" fill="#000"/>
<rect x="135.01" y="67.70" width="0.9" height="0.9" fill="#000"/>
<rect x="139.86" y="28.43" width="0.9" height="0.9" fill="#000"/>
<rect x="137.02" y="68.32" width="0.9" height="0.9" fill="#000"/>
<rect x="135.20" y="53.91" width="0.9" height="0.9" fill="#000"/>
<rect x="137.88" y="54.80" width="0.9" height="0.9" fill="#000"/>
<rect x="135.27" y="53.98" width="0.9" height="0.9" fill="#000"/>
<rect x="137.43" y="43.39" width="0.9" height="0.9" fill="#000"/>
<rect x="144.72" y="38.17" width="0.9" height="0.9" fill="#000"/>
<rect x="135.82" y="28.82" width="0.9" height="0.9" fill="#000"/>
<rect x="135.77" y="43.25" width="0.9" height="0.9" fill="#000"/>
<rect x="138.26" y="70.24" width="0.9" height="0.9" fill="#000"/>
<rect x="135.63" y="58.66" width="0.9" height="0.9" fill="#000"/>
<rect x="135.07" y="73.15" width="0.9" height="0.9" fill="#000"/>
<rect x="135.38" y="31.67" width="0.9" height="0.9" fill="#000"/>
<rect x="135.39" y="55.67" width="0.9" height="0.9" fill="#000"/>
<rect x="139.66" y="59.05" width="0.9" height="0.9" fill="#000"/>
<rect x="135.37" y="50.46" width="0.9" height="0.9" fill="#000"/>
<rect x="137.53" y="47.61" width="0.9" height="0.9" fill="#000"/>
<rect x="135.07" y="46.94" width="0.9" height="0.9" fill="#000"/>
<rect x="135.53" y="65.08" width="0.9" height="0.9" fill="#000"/>
<rect x="135.51" y="26.58" width="0.9" height="0.9" fill="#000"/>
<rect x="135.57" y="68.89" width="0.9" height="0.9" fill="#000"/>
<rect x="137.71" y="59.80" width="0.9" height="0.9" fill="#000"/>
<rect x="141.76" y="45.67" width="0.9" height="0.9" fill="#000"/>
<rect x="135.91" y="47.10" width="0.9" height="0.9" fill="#000"/>
<rect x="135.56" y="75.99" width="0.9" height="0.9" fill="#000"/>
<rect x="139.45" y="62.56" width="0.9" height="0.9" fill="#000"/>
<rect x="137.32" y="37.82" width="0.9" height="0.9" fill="#000"/>
<rect x="135.23" y="50.03" width="0.9" height="0.9" fill="#000"/>
<rect x="137.99" y="38.54" width="0.9" height="0.9" fill="#000"/>
<rect x="135.51" y="30.33" width="0.9" height="0.9" fill="#000"/>
<rect x="140.63" y="62.58" width="0.9" height="0.9" fill="#000"/>
<rect x="135.15" y="32.44" width="0.9" height="0.9" fill="#000"/>
<rect x="135.21" y="62.17" width="0.9" height="0.9" fill="#000"/>
<rect x="135.44" y="57.37" width="0.9" height="0.9" fill="#000"/>
<rect x="135.63" y="26.17" width="0.9" height="0.9" fill="#000"/>
<rect x="137.92" y="39.14" width="0.9" height="0.9" fill="#000"/>
<rect x="135.19" y="44.59" width="0.9" height="0.9" fill="#000"/>
<rect x="140.69" y="33.70" width="0.9" height="0.9" fill="#000"/>
<rect x="136.48" y="54.53" width="0.9" height="0.9" fill="#000"/>
<rect x="135.22" y="50.58" width="0.9" height="0.9" fill="#000"/>
<rect x="135.71" y="35.50" width="0.9" height="0.9" fill="#000"/>
<rect x="137.23" y="41.73" width="0.9" height="0.9" fill="#000"/>
<rect x="135.04" y="45.68" width="0.9" height="0.9" fill="#000"/>
<rect x="136.10" y="42.47" width="0.9" height="0.9" fill="#000"/>
<rect x="136.10" y="32.20" width="0.9" height="0.9" fill="#000"/>
<rect x="135.42" y="39.18" width="0.9" height="0.9" fill="#000"/>
<rect x="135.58" y="40.97" width="0.9" height="0.9" fill="#000"/>
<rect x="135.72" y="28.17" width="0.9" height="0.9" fill="#000"/>
<rect x="135.40" y="59.34" width="0.9" height="0.9" fill="#000"/>
<rect x="136.20" y="67.10" width="0.9" height="0.9" fill="#000"/>
<rect x="138.19" y="30.32" width="0.9" height="0.9" fill="#000"/>
<rect x="140.10" y="68.33" width="0.9" height="0.9" fill="#000"/>
<rect x="135.39" y="47.59" width="0.9" height="0.9" fill="#000"/>
<rect x="138.34" y="56.47" width="0.9" height="0.9" fill="#000"/>
<rect x="138.24" y="61.78" width="0.9" height="0.9" fill="#000"/>
<rect x="135.46" y="26.13" width="0.9" height="0.9" fill="#000"/>
<rect x="136.45" y="51.34" width="0.9" height="0.9" fill="#000"/>
<rect x="136.26" y="69.60" width="0.9" height="0.9" fill="#000"/>
<rect x="136.87" y="53.58" width="0.9" height="0.9" fill="#000"/>
<rect x="135.00" y="30.29" width="0.9" height="0.9" fill="#000"/>
<rect x="135.72" y="39.32" width="0.9" height="0.9" fill="#000"/>
<rect x="137.93" y="43.04" width="0.9" height="0.9" fill="#000"/>
<rect x="141.73" y="27.93" width="0.9" height="0.9" fill="#000"/>
<rect x="139.05" y="28.85" width="0.9" height="0.9" fill="#000"/>
<rect x="144.05" y="62.60" width="0.9" height="0.9" fill="#000"/>
<rect x="136.66" y="60.63" width="0.9" height="0.9" fill="#000"/>
<rect x="135.56" y="73.21" width="0.9" height="0.9" fill="#000"/>
<rect x="135.51" y="25.54" width="0.9" height="0.9" fill="#000"/>
<rect x="135.22" y="52.90" width="0.9" height="0.9" fill="#000"/>
<rect x="135.35" y="60.38" width="0.9" height="0.9" fill="#000"/>
<rect x="135.52" y="57.55" width="0.9" height="0.9" fill="#000"/>
<rect x="135.04" y="54.31" width="0.9" height="0.9" fill="#000"/>
<rect x="135.87" y="28.53" width="0.9" height="0.9" fill="#000"/>
<rect x="136.02" y="24.96" width="0.9" height="0.9" fill="#000"/>
<rect x="135.76" y="34.01" width="0.9" height="0.9" fill="#000"/>
<rect x="135.71" y="56.53" width="0.9" height="0.9" fill="#000"/>
<rect x="141.27" y="62.62" width="0.9" height="0.9" fill="#000"/>
<rect x="135.35" y="47.45" width="0.9" height="0.9" fill="#000"/>
<rect x="135.66" y="40.32" width="0.9" height="0.9" fill="#000"/>
<rect x="135.58" y="61.35" width="0.9" height="0.9" fill="#000"/>
<rect x="136.44" y="66.31" width="0.9" height="0.9" fill="#000"/>
<rect x="135.66" y="70.52" width="0.9" height="0.9" fill="#000"/>
<rect x="135.69" y="38.12" width="0.9" height="0.9" fill="#000"/>
<rect x="136.30" y="35.91" width="0.9" height="0.9" fill="#000"/>
<rect x="138.02" y="68.70" width="0.9" height="0.9" fill="#000"/>
<rect x="139.69" y="33.97" width="0.9" height="0.9" fill="#000"/>
<rect x="137.70" y="74.15" width="0.9" height="0.9" fill="#000"/>
<rect x="137.04" y="50.65" width="0.9" height="0.9" fill="#000"/>
<rect x="137.22" y="40.12" width="0.9" height="0.9" fill="#000"/>
<rect x="135.26" y="57.75" width="0.9" height="0.9" fill="#000"/>
<rect x="136.86" y="57.94" width="0.9" height="0.9" fill="#000"/>
<rect x="137.26" y="35.20" width="0.9" height="0.9" fill="#000"/>
<rect x="135.37" y="48.50" width="0.9" height="0.9" fill="#000"/>
<rect x="135.98" y="60.52" width="0.9" height="0.9" fill="#000"/>
<rect x="140.25" y="32.77" width="0.9" height="0.9" fill="#000"/>
<rect x="135.85" y="68.81" width="0.9" height="0.9" fill="#000"/>
<rect x="138.40" y="44.17" width="0.9" height="0.9" fill="#000"/>
<rect x="136.02" y="46.87" width="0.9" height="0.9" fill="#000"/>
<rect x="136.52" y="75.65" width="0.9" height="0.9" fill="#000"/>
<rect x="139.55" y="26.94" width="0.9" height="0.9" fill="#000"/>
<rect x="141.99" y="40.82" width="0.9" height="0.9" fill="#000"/>
<rect x="135.87" y="75.98" width="0.9" height="0.9" fill="#000"/>
<rect x="135.30" y="74.75" width="0.9" height="0.9" fill="#000"/>
<rect x="136.06" y="68.86" width="0.9" height="0.9" fill="#000"/>
<rect x="137.48" y="48.22" width="0.9" height="0.9" fill="#000"/>
<rect x="135.20" y="25.31" width="0.9" height="0.9" fill="#000"/>
<rect x="135.49" y="55.22" width="0.9" height="0.9" fill="#000"/>
<rect x="136.33" y="24.42" width="0.9" height="0.9" fill="#000"/>
<rect x="136.63" y="45.81" width="0.9" height="0.9" fill="#000"/>
<rect x="135.09" y="39.45" width="0.9" height="0.9" fill="#000"/>
<rect x="136.02" y="70.64" width="0.9" height="0.9" fill="#000"/>
<rect x="143.37" y="38.20" width="0.9" height="0.9" fill="#000"/>
<rect x="137.09" y="70.71" width="0.9" height="0.9" fill="#000"/>
<rect x="135.43" y="43.63" width="0.9" height="0.9" fill="#000"/>
<rect x="136.88" y="63.76" width="0.9" height="0.9" fill="#000"/>
<rect x="136.97" y="31.00" width="0.9" height="0.9" fill="#000"/>
<rect x="141.98" y="27.29" width="0.9" height="0.9" fill="#000"/>
<rect x="137.86" y="47.92" width="0.9" height="0.9" fill="#000"/>
<rect x="137.14" y="27.07" width="0.9" height="0.9" fill="#000"/>
<rect x="139.45" y="45.33" width="0.9" height="0.9" fill="#000"/>
<rect x="141.84" y="32.24" width="0.9" height="0.9" fill="#000"/>
<rect x="137.96" y="39.37" width="0.9" height="0.9" fill="#000"/>
<rect x="138.60" y="56.11" width="0.9" height="0.9" fill="#000"/>
<rect x="137.39" y="27.20" width="0.9" height="0.9" fill="#000"/>
<rect x="141.17" y="33.99" width="0.9" height="0.9" fill="#000"/>
<rect x="135.12" y="69.33" width="0.9" height="0.9" fill="#000"/>
<rect x="135.24" y="32.69" width="0.9" height="0.9" fill="#000"/>
<rect x="139.56" y="64.49" width="0.9" height="0.9" fill="#000"/>
<rect x="138.53" y="32.54" width="0.9" height="0.9" fill="#000"/>
<rect x="135.24" y="40.14" width="0.9" height="0.9" fill="#000"/>
<rect x="138.56" y="64.51" width="0.9" height="0.9" fill="#000"/>
<rect x="137.05" y="54.00" width="0.9" height="0.9" fill="#000"/>
<rect x="138.13" y="75.13" width="0.9" height="0.9" fill="#000"/>
<rect x="135.16" y="27.16" width="0.9" height="0.9" fill="#000"/>
<rect x="136.75" y="49.97" width="0.9" height="0.9" fill="#000"/>
<rect x="137.52" y="33.85" width="0.9" height="0.9" fill="#000"/>
<rect x="135.85" y="72.57" width="0.9" height="0.9" fill="#000"/>
<rect x="139.46" y="37.05" width="0.9" height="0.9" fill="#000"/>
<rect x="137.63" y="56.77" width="0.9" height="0.9" fill="#000"/>
<rect x="136.10" y="63.09" width="0.9" height="0.9" fill="#000"/>
<rect x="137.43" y="48.54" width="0.9" height="0.9" fill="#000"/>
<rect x="140.88" y="34.80" width="0.9" height="0.9" fill="#000"/>
<rect x="139.20" y="59.00" width="0.9" height="0.9" fill="#000"/>
<rect x="137.83" y="52.83" width="0.9" height="0.9" fill="#000"/>
<rect x="135.66" y="51.85" width="0.9" height="0.9" fill="#000"/>
<rect x="136.63" y="50.59" width="0.9" height="0.9" fill="#000"/>
<rect x="135.67" y="30.07" width="0.9" height="0.9" fill="#000"/>
<rect x="135.60" y="46.80" width="0.9" height="0.9" fill="#000"/>
<rect x="140.36" y="44.10" width="0.9" height="0.9" fill="#000"/>
<rect x="136.02" y="64.34" width="0.9" height="0.9" fill="#000"/>
<rect x="136.20" y="61.40" width="0.9" height="0.9" fill="#000"/>
<rect x="141.24" y="26.42" width="0.9" height="0.9" fill="#000"/>
<rect x="135.39" y="72.02" width="0.9" height="0.9" fill="#000"/>
<rect x="136.69" y="44.41" width="0.9" height="0.9" fill="#000"/>
<rect x="135.73" y="58.66" width="0.9" height="0.9" fill="#000"/>
<rect x="135.91" y="25.09" width="0.9" height="0.9" fill="#000"/>
<rect x="135.98" y="52.58" width="0.9" height="0.9" fill="#000"/>
<rect x="138.50" y="39.06" width="0.9" height="0.9" fill="#000"/>
<rect x="135.48" y="31.12" width="0.9" height="0.9" fill="#000"/>
<rect x="135.78" y="51.94" width="0.9" height="0.9" fill="#000"/>
<rect x="136.31" y="31.92" width="0.9" height="0.9" fill="#000"/>
<rect x="137.48" y="68.32" width="0.9" height="0.9" fill="#000"/>
<rect x="137.59" y="63.46" width="0.9" height="0.9" fill="#000"/>
<rect x="135.02" y="37.32" width="0.9" height="0.9" fill="#000"/>
<rect x="135.03" y="31.33" width="0.9" height="0.9" fill="#000"/>
<rect x="137.09" y="39.73" width="0.9" height="0.9" fill="#000"/>
<rect x="135.29" y="40.42" width="0.9" height="0.9" fill="#000"/>
<rect x="138.22" y="68.76" width="0.9" height="0.9" fill="#000"/>
<rect x="135.01" y="41.92" width="0.9" height="0.9" fill="#000"/>
<rect x="137.95" y="63.70" width="0.9" height="0.9" fill="#000"/>
<rect x="136.32" y="59.05" width="0.9" height="0.9" fill="#000"/>
<rect x="135.68" y="30.62" width="0.9" height="0.9" fill="#000"/>
<rect x="136.43" y="47.28" width="0.9" height="0.9" fill="#000"/>
<rect x="135.12" y="57.79" width="0.9" height="0.9" fill="#000"/>
<rect x="138.80" y="36.77" width="0.9" height="0.9" fill="#000"/>
<rect x="139.69" y="43.07" width="0.9" height="0.9" fill="#000"/>
<rect x="136.56" y="49.84" width="0.9" height="0.9" fill="#000"/>
<rect x="137.52" y="42.24" width="0.9" height="0.9" fill="#000"/>
<rect x="135.08" y="30.71" width="0.9" height="0.9" fill="#000"/>
<rect x="139.28" y="57.86" width="0.9" height="0.9" fill="#000"/>
<rect x="135.93" y="67.37" width="0.9" height="0.9" fill="#000"/>
<rect x="139.21" y="32.48" width="0.9" height="0.9" fill="#000"/>
<rect x="136.34" y="63.25" width="0.9" height="0.9" fill="#000"/>
<rect x="135.00" y="61.50" width="0.9" height="0.9" fill="#000"/>
<rect x="139.70" y="61.70" width="0.9" height="0.9" fill="#000"/>
<rect x="135.98" y="55.60" width="0.9" height="0.9" fill="#000"/>
<rect x="135.25" y="71.95" width="0.9" height="0.9" fill="#000"/>
<rect x="136.62" y="60.19" width="0.9" height="0.9" fill="#000"/>
<rect x="136.02" y="51.26" width="0.9" height="0.9" fill="#000"/>
<rect x="136.34" y="48.65" width="0.9" height="0.9" fill="#000"/>
<rect x="136.23" y="32.64" width="0.9" height="0.9" fill="#000"/>
<rect x="135.08" y="46.73" width="0.9" height="0.9" fill="#000"/>
<rect x="136.00" y="72.07" width="0.9" height="0.9" fill="#000"/>
<rect x="137.79" y="41.14" width="0.9" height="0.9" fill="#000"/>
<rect x="138.47" y="66.14" width="0.9" height="0.9" fill="#000"/>
<rect x="135.56" y="44.32" width="0.9" height="0.9" fill="#000"/>
<rect x="136.81" y="54.93" width="0.9" height="0.9" fill="#000"/>
<rect x="137.34" y="37.29" width="0.9" height="0.9" fill="#000"/>
<rect x="136.37" y="36.02" width="0.9" height="0.9" fill="#000"/>
<rect x="135.05" y="55.67" width="0.9" height="0.9" fill="#000"/>
<rect x="138.40" y="48.69" width="0.9" height="0.9" fill="#000"/>
<rect x="139.49" y="70.82" width="0.9" height="0.9" fill="#000"/>
<rect x="140.45" y="45.97" width="0.9" height="0.9" fill="#000"/>
<rect x="136.61" y="56.45" width="0.9" height="0.9" fill="#000"/>
<rect x="135.42" y="33.25" width="0.9" height="0.9" fill="#000"/>
<rect x="137.44" y="62.11" width="0.9" height="0.9" fill="#000"/>
<rect x="135.82" y="58.70" width="0.9" height="0.9" fill="#000"/>
<rect x="137.12" y="40.25" width="0.9" height="0.9" fill="#000"/>
<rect x="135.40" y="56.18" width="0.9" height="0.9" fill="#000"/>
<rect x="135.90" y="65.20" width="0.9" height="0.9" fill="#000"/>
<rect x="137.90" y="74.52" width="0.9" height="0.9" fill="#000"/>
<rect x="135.76" y="33.19" width="0.9" height="0.9" fill="#000"/>
<rect x="136.28" y="68.04" width="0.9" height="0.9" fill="#000"/>
<rect x="139.88" y="35.94" width="0.9" height="0.9" fill="#000"/>
<rect x="137.32" y="38.67" width="0.9" height="0.9" fill="#000"/>
<rect x="136.90" y="54.27" width="0.9" height="0.9" fill="#000"/>
<rect x="136.07" y="63.44" width="0.9" height="0.9" fill="#000"/>
<rect x="135.26" y="59.49" width="0.9" height="0.9" fill="#000"/>
<rect x="136.05" y="24.41" width="0.9" height="0.9" fill="#000"/>
<rect x="139.97" y="52.45" width="0.9" height="0.9" fill="#000"/>
<rect x="137.77" y="43.51" width="0.9" height="0.9" fill="#000"/>
<rect x="137.28" y="46.83" width="0.9" height="0.9" fill="#000"/>
<rect x="136.37" y="49.41" width="0.9" height="0.9" fill="#000"/>
<rect x="135.36" y="37.23" width="0.9" height="0.9" fill="#000"/>
<rect x="135.54" y="65.19" width="0.9" height="0.9" fill="#000"/>
<rect x="137.73" y="26.44" width="0.9" height="0.9" fill="#000"/>
<rect x="138.67" y="67.94" width="0.9" height="0.9" fill="#000"/>
<rect x="137.93" y="60.51" width="0.9" height="0.9" fill="#000"/>
<rect x="146.65" y="30.82" width="0.8" height="0.8" fill="#111"/>
<rect x="138.04" y="59.35" width="0.8" height="0.8" fill="#111"/>
<rect x="144.62" y="44.40" width="0.8" height="0.8" fill="#111"/>
<rect x="151.01" y="56.75" width="0.8" height="0.8" fill="#111"/>
<rect x="140.24" y="68.90" width="0.8" height="0.8" fill="#111"/>
<rect x="148.46" y="56.80" width="0.8" height="0.8" fill="#111"/>
<rect x="144.27" y="31.39" width="0.8" height="0.8" fill="#111"/>
<rect x="155.78" y="69.65" width="0.8" height="0.8" fill="#111"/>
<rect x="157.25" y="66.22" width="0.8" height="0.8" fill="#111"/>
<rect x="144.58" y="33.68" width="0.8" height="0.8" fill="#111"/>
<rect x="158.83" y="60.98" width="0.8" height="0.8" fill="#111"/>
<rect x="149.59" y="60.76" width="0.8" height="0.8" fill="#111"/>
<rect x="166.28" y="72.25" width="0.8" height="0.8" fill="#111"/>
<rect x="140.55" y="55.77" width="0.8" height="0.8" fill="#111"/>
<rect x="155.77" y="69.49" width="0.8" height="0.8" fill="#111"/>
<rect x="143.49" y="51.68" width="0.8" height="0.8" fill="#111"/>
<rect x="156.77" y="66.96" width="0.8" height="0.8" fill="#111"/>
<rect x="152.34" y="29.22" width="0.8" height="0.8" fill="#111"/>
<rect x="143.48" y="48.38" width="0.8" height="0.8" fill="#111"/>
<rect x="150.10" y="75.98" width="0.8" height="0.8" fill="#111"/>
<rect x="155.97" y="30.87" width="0.8" height="0.8" fill="#111"/>
<rect x="156.54" y="55.05" width="0.8" height="0.8" fill="#111"/>
<rect x="144.23" y="41.42" width="0.8" height="0.8" fill="#111"/>
<rect x="144.79" y="54.64" width="0.8" height="0.8" fill="#111"/>
<rect x="154.46" y="68.71" width="0.8" height="0.8" fill="#111"/>
<rect x="145.65" y="53.00" width="0.8" height="0.8" fill="#111"/>
<rect x="142.91" y="46.99" width="0.8" height="0.8" fill="#111"/>
<rect x="153.30" y="65.32" width="0.8" height="0.8" fill="#111"/>
<rect x="151.05" y="45.86" width="0.8" height="0.8" fill="#111"/>
<rect x="149.88" y="37.55" width="0.8" height="0.8" fill="#111"/>
<rect x="144.34" y="39.67" width="0.8" height="0.8" fill="#111"/>
<rect x="148.00" y="40.68" width="0.8" height="0.8" fill="#111"/>
<rect x="152.54" y="67.29" width="0.8" height="0.8" fill="#111"/>
<rect x="142.74" y="33.55" width="0.8" height="0.8" fill="#111"/>
<rect x="139.58" y="38.30" width="0.8" height="0.8" fill="#111"/>
<rect x="144.85" y="37.13" width="0.8" height="0.8" fill="#111"/>
<rect x="152.06" y="59.88" width="0.8" height="0.8" fill="#111"/>
<rect x="146.12" y="60.01" width="0.8" height="0.8" fill="#111"/>
<rect x="146.15" y="29.15" width="0.8" height="0.8" fill="#111"/>
<rect x="153.85" y="75.82" width="0.8" height="0.8" fill="#111"/>
<rect x="156.55" y="34.48" width="0.8" height="0.8" fill="#111"/>
<rect x="142.65" y="36.40" width="0.8" height="0.8" fill="#111"/>
<rect x="163.60" y="60.21" width="0.8" height="0.8" fill="#111"/>
<rect x="150.61" y="59.70" width="0.8" height="0.8" fill="#111"/>
<rect x="141.27" y="32.01" width="0.8" height="0.8" fill="#111"/>
<rect x="138.45" y="28.07" width="0.8" height="0.8" fill="#111"/>
<rect x="154.86" y="37.47" width="0.8" height="0.8" fill="#111"/>
<rect x="138.64" y="40.22" width="0.8" height="0.8" fill="#111"/>
<rect x="149.33" y="65.79" width="0.8" height="0.8" fill="#111"/>
<rect x="147.55" y="61.09" width="0.8" height="0.8" fill="#111"/>
<rect x="149.57" y="28.94" width="0.8" height="0.8" fill="#111"/>
<rect x="139.80" y="32.04" width="0.8" height="0.8" fill="#111"/>
<rect x="149.48" y="49.49" width="0.8" height="0.8" fill="#111"/>
<rect x="146.42" y="66.32" width="0.8" height="0.8" fill="#111"/>
<rect x="138.47" y="43.41" width="0.8" height="0.8" fill="#111"/>
<rect x="150.39" y="67.09" width="0.8" height="0.8" fill="#111"/>
<rect x="140.62" y="43.64" width="0.8" height="0.8" fill="#111"/>
<rect x="148.34" y="52.32" width="0.8" height="0.8" fill="#111"/>
<rect x="146.73" y="24.66" width="0.8" height="0.8" fill="#111"/>
<rect x="148.17" y="28.57" width="0.8" height="0.8" fill="#111"/>
<rect x="137.00" y="31.18" width="0.8" height="0.8" fill="#111"/>
<rect x="141.33" y="32.24" width="0.8" height="0.8" fill="#111"/>
<rect x="153.38" y="45.72" width="0.8" height="0.8" fill="#111"/>
<rect x="150.45" y="58.57" width="0.8" height="0.8" fill="#111"/>
<rect x="154.37" y="30.87" width="0.8" height="0.8" fill="#111"/>
<rect x="145.75" y="44.04" width="0.8" height="0.8" fill="#111"/>
<rect x="165.18" y="66.42" width="0.8" height="0.8" fill="#111"/>
<rect x="149.53" y="74.02" width="0.8" height="0.8" fill="#111"/>
<rect x="139.48" y="28.20" width="0.8" height="0.8" fill="#111"/>
<rect x="140.09" y="26.75" width="0.8" height="0.8" fill="#111"/>
<rect x="143.55" y="59.45" width="0.8" height="0.8" fill="#111"/>
<rect x="142.88" y="47.82" width="0.8" height="0.8" fill="#111"/>
<rect x="153.14" y="57.53" width="0.8" height="0.8" fill="#111"/>
<rect x="149.98" y="53.99" width="0.8" height="0.8" fill="#111"/>
<rect x="141.52" y="52.93" width="0.8" height="0.8" fill="#111"/>
<rect x="137.65" y="32.59" width="0.8" height="0.8" fill="#111"/>
<rect x="150.24" y="63.83" width="0.8" height="0.8" fill="#111"/>
<rect x="146.56" y="53.71" width="0.8" height="0.8" fill="#111"/>
<rect x="138.81" y="31.04" width="0.8" height="0.8" fill="#111"/>
<rect x="138.54" y="29.86" width="0.8" height="0.8" fill="#111"/>
<rect x="141.49" y="27.49" width="0.8" height="0.8" fill="#111"/>
<rect x="138.28" y="24.74" width="0.8" height="0.8" fill="#111"/>
<rect x="164.16" y="25.65" width="0.8" height="0.8" fill="#111"/>
<rect x="152.87" y="75.27" width="0.8" height="0.8" fill="#111"/>
<rect x="152.26" y="62.30" width="0.8" height="0.8" fill="#111"/>
<rect x="143.28" y="43.27" width="0.8" height="0.8" fill="#111"/>
<rect x="139.88" y="29.47" width="0.8" height="0.8" fill="#111"/>
<rect x="137.54" y="34.40" width="0.8" height="0.8" fill="#111"/>
<rect x="165.33" y="73.63" width="0.8" height="0.8" fill="#111"/>
<rect x="141.77" y="52.92" width="0.8" height="0.8" fill="#111"/>
<rect x="150.92" y="69.07" width="0.8" height="0.8" fill="#111"/>
<rect x="152.37" y="63.72" width="0.8" height="0.8" fill="#111"/>
<rect x="152.23" y="75.07" width="0.8" height="0.8" fill="#111"/>
<rect x="153.64" y="26.50" width="0.8" height="0.8" fill="#111"/>
<rect x="146.86" y="39.93" width="0.8" height="0.8" fill="#111"/>
<rect x="144.86" y="40.07" width="0.8" height="0.8" fill="#111"/>
<rect x="144.52" y="39.06" width="0.8" height="0.8" fill="#111"/>
<rect x="150.32" y="33.08" width="0.8" height="0.8" fill="#111"/>
<rect x="150.92" y="55.88" width="0.8" height="0.8" fill="#111"/>
<rect x="145.61" y="69.83" width="0.8" height="0.8" fill="#111"/>
<rect x="155.51" y="72.71" width="0.8" height="0.8" fill="#111"/>
<rect x="155.17" y="57.86" width="0.8" height="0.8" fill="#111"/>
<rect x="166.55" y="70.64" width="0.8" height="0.8" fill="#111"/>
<rect x="149.58" y="59.29" width="0.8" height="0.8" fill="#111"/>
<rect x="144.61" y="44.40" width="0.8" height="0.8" fill="#111"/>
<rect x="148.44" y="48.08" width="0.8" height="0.8" fill="#111"/>
<rect x="146.37" y="49.20" width="0.8" height="0.8" fill="#111"/>
<rect x="145.90" y="52.72" width="0.8" height="0.8" fill="#111"/>
<rect x="151.98" y="35.93" width="0.8" height="0.8" fill="#111"/>
<rect x="153.43" y="63.64" width="0.8" height="0.8" fill="#111"/>
<rect x="143.03" y="52.34" width="0.8" height="0.8" fill="#111"/>
<rect x="140.77" y="30.42" width="0.8" height="0.8" fill="#111"/>
<rect x="144.60" y="65.72" width="0.8" height="0.8" fill="#111"/>
<rect x="153.01" y="25.10" width="0.8" height="0.8" fill="#111"/>
<rect x="150.58" y="48.89" width="0.8" height="0.8" fill="#111"/>
<rect x="154.37" y="61.39" width="0.8" height="0.8" fill="#111"/>
<rect x="143.08" y="55.10" width="0.8" height="0.8" fill="#111"/>
<rect x="148.11" y="53.78" width="0.8" height="0.8" fill="#111"/>
<rect x="152.38" y="57.53" width="0.8" height="0.8" fill="#111"/>
<rect x="153.61" y="62.79" width="0.8" height="0.8" fill="#111"/>
<rect x="159.10" y="74.38" width="0.8" height="0.8" fill="#111"/>
<rect x="142.04" y="27.65" width="0.8" height="0.8" fill="#111"/>
<rect x="143.45" y="50.68" width="0.8" height="0.8" fill="#111"/>
<rect x="156.08" y="35.93" width="0.8" height="0.8" fill="#111"/>
<rect x="145.59" y="63.47" width="0.8" height="0.8" fill="#111"/>
<rect x="148.62" y="48.06" width="0.8" height="0.8" fill="#111"/>
<rect x="153.04" y="53.73" width="0.8" height="0.8" fill="#111"/>
<rect x="148.93" y="54.74" width="0.8" height="0.8" fill="#111"/>
<rect x="144.83" y="38.16" width="0.8" height="0.8" fill="#111"/>
<rect x="157.95" y="66.90" width="0.8" height="0.8" fill="#111"/>
<rect x="145.67" y="53.87" width="0.8" height="0.8" fill="#111"/>
<rect x="144.50" y="74.04" width="0.8" height="0.8" fill="#111"/>
<rect x="150.76" y="60.99" width="0.8" height="0.8" fill="#111"/>
<rect x="156.55" y="60.62" width="0.8" height="0.8" fill="#111"/>
<rect x="145.91" y="73.40" width="0.8" height="0.8" fill="#111"/>
<rect x="157.40" y="63.62" width="0.8" height="0.8" fill="#111"/>
<rect x="146.89" y="42.76" width="0.8" height="0.8" fill="#111"/>
<rect x="158.26" y="72.60" width="0.8" height="0.8" fill="#111"/>
<rect x="144.60" y="35.78" width="0.8" height="0.8" fill="#111"/>
<rect x="143.60" y="51.03" width="0.8" height="0.8" fill="#111"/>
<rect x="160.38" y="61.82" width="0.8" height="0.8" fill="#111"/>
<rect x="138.20" y="34.43" width="0.8" height="0.8" fill="#111"/>
<rect x="144.01" y="52.46" width="0.8" height="0.8" fill="#111"/>
<rect x="140.02" y="34.84" width="0.8" height="0.8" fill="#111"/>
<rect x="156.88" y="70.43" width="0.8" height="0.8" fill="#111"/>
<rect x="162.89" y="72.42" width="0.8" height="0.8" fill="#111"/>
<rect x="146.38" y="46.03" width="0.8" height="0.8" fill="#111"/>
<rect x="151.08" y="49.54" width="0.8" height="0.8" fill="#111"/>
<rect x="147.80" y="49.47" width="0.8" height="0.8" fill="#111"/>
<rect x="151.64" y="42.49" width="0.8" height="0.8" fill="#111"/>
<rect x="113.26" y="76.66" width="0.9" height="0.9" fill="#000"/>
<rect x="117.59" y="76.40" width="0.9" height="0.9" fill="#000"/>
<rect x="142.27" y="76.32" width="0.9" height="0.9" fill="#000"/>
<rect x="114.79" y="75.33" width="0.9" height="0.9" fill="#000"/>
<rect x="121.83" y="76.10" width="0.9" height="0.9" fill="#000"/>
<rect x="149.21" y="76.26" width="0.9" height="0.9" fill="#000"/>
<rect x="121.95" y="76.64" width="0.9" height="0.9" fill="#000"/>
<rect x="150.62" y="75.60" width="0.9" height="0.9" fill="#000"/>
<rect x="130.64" y="76.63" width="0.9" height="0.9" fill="#000"/>
<rect x="132.24" y="75.66" width="0.9" height="0.9" fill="#000"/>
<rect x="143.60" y="74.66" width="0.9" height="0.9" fill="#000"/>
<rect x="161.07" y="75.52" width="0.9" height="0.9" fill="#000"/>
<rect x="141.39" y="75.91" width="0.9" height="0.9" fill="#000"/>
<rect x="163.70" y="74.65" width="0.9" height="0.9" fill="#000"/>
<rect x="122.74" y="76.02" width="0.9" height="0.9" fill="#000"/>
<rect x="125.97" y="75.84" width="0.9" height="0.9" fill="#000"/>
<rect x="149.24" y="76.37" width="0.9" height="0.9" fill="#000"/>
<rect x="146.89" y="76.38" width="0.9" height="0.9" fill="#000"/>
<rect x="128.85" y="74.65" width="0.9" height="0.9" fill="#000"/>
<rect x="164.89" y="76.69" width="0.9" height="0.9" fill="#000"/>
<rect x="115.73" y="76.17" width="0.9" height="0.9" fill="#000"/>
<rect x="112.07" y="75.09" width="0.9" height="0.9" fill="#000"/>
<rect x="112.55" y="76.34" width="0.9" height="0.9" fill="#000"/>
<rect x="128.35" y="74.53" width="0.9" height="0.9" fill="#000"/>
<rect x="115.60" y="75.10" width="0.9" height="0.9" fill="#000"/>
<rect x="133.14" y="74.86" width="0.9" height="0.9" fill="#000"/>
<rect x="137.62" y="76.44" width="0.9" height="0.9" fill="#000"/>
<rect x="117.66" y="75.67" width="0.9" height="0.9" fill="#000"/>
<rect x="121.59" y="75.83" width="0.9" height="0.9" fill="#000"/>
<rect x="118.22" y="76.58" width="0.9" height="0.9" fill="#000"/>
<rect x="129.07" y="75.77" width="0.9" height="0.9" fill="#000"/>
<rect x="110.27" y="74.77" width="0.9" height="0.9" fill="#000"/>
<rect x="159.55" y="74.89" width="0.9" height="0.9" fill="#000"/>
<rect x="166.65" y="75.21" width="0.9" height="0.9" fill="#000"/>
<rect x="128.96" y="75.93" width="0.9" height="0.9" fill="#000"/>
<rect x="137.76" y="76.22" width="0.9" height="0.9" fill="#000"/>
<rect x="127.37" y="75.26" width="0.9" height="0.9" fill="#000"/>
<rect x="131.48" y="74.57" width="0.9" height="0.9" fill="#000"/>
<rect x="126.17" y="76.47" width="0.9" height="0.9" fill="#000"/>
<rect x="155.50" y="75.28" width="0.9" height="0.9" fill="#000"/>
<rect x="111.14" y="76.01" width="0.9" height="0.9" fill="#000"/>
<rect x="142.81" y="75.59" width="0.9" height="0.9" fill="#000"/>
<rect x="156.50" y="76.18" width="0.9" height="0.9" fill="#000"/>
<rect x="124.43" y="74.73" width="0.9" height="0.9" fill="#000"/>
<rect x="132.76" y="75.70" width="0.9" height="0.9" fill="#000"/>
<rect x="120.83" y="74.84" width="0.9" height="0.9" fill="#000"/>
<rect x="126.87" y="74.92" width="0.9" height="0.9" fill="#000"/>
<rect x="116.78" y="75.65" width="0.9" height="0.9" fill="#000"/>
<rect x="150.62" y="74.60" width="0.9" height="0.9" fill="#000"/>
<rect x="130.10" y="76.43" width="0.9" height="0.9" fill="#000"/>
<rect x="110.52" y="75.78" width="0.9" height="0.9" fill="#000"/>
<rect x="165.41" y="76.41" width="0.9" height="0.9" fill="#000"/>
<rect x="121.12" y="76.68" width="0.9" height="0.9" fill="#000"/>
<rect x="163.30" y="75.76" width="0.9" height="0.9" fill="#000"/>
<rect x="155.19" y="76.61" width="0.9" height="0.9" fill="#000"/>
<rect x="160.54" y="76.73" width="0.9" height="0.9" fill="#000"/>
<rect x="142.96" y="76.57" width="0.9" height="0.9" fill="#000"/>
<rect x="164.42" y="76.44" width="0.9" height="0.9" fill="#000"/>
<rect x="130.78" y="75.91" width="0.9" height="0.9" fill="#000"/>
<rect x="110.21" y="75.43" width="0.9" height="0.9" fill="#000"/>
<rect x="115.33" y="74.87" width="0.9" height="0.9" fill="#000"/>
<rect x="130.47" y="75.76" width="0.9" height="0.9" fill="#000"/>
<rect x="160.43" y="74.50" width="0.9" height="0.9" fill="#000"/>
<rect x="112.14" y="75.46" width="0.9" height="0.9" fill="#000"/>
<rect x="149.67" y="76.67" width="0.9" height="0.9" fill="#000"/>
<rect x="126.06" y="75.17" width="0.9" height="0.9" fill="#000"/>
<rect x="120.25" y="75.82" width="0.9" height="0.9" fill="#000"/>
<rect x="118.66" y="74.80" width="0.9" height="0.9" fill="#000"/>
<rect x="169.12" y="75.45" width="0.9" height="0.9" fill="#000"/>
<rect x="114.10" y="75.68" width="0.9" height="0.9" fill="#000"/>
<rect x="120.40" y="75.39" width="0.9" height="0.9" fill="#000"/>
<rect x="158.10" y="75.28" width="0.9" height="0.9" fill="#000"/>
<rect x="115.51" y="75.40" width="0.9" height="0.9" fill="#000"/>
<rect x="124.49" y="75.46" width="0.9" height="0.9" fill="#000"/>
<rect x="124.57" y="76.70" width="0.9" height="0.9" fill="#000"/>
<rect x="159.73" y="74.78" width="0.9" height="0.9" fill="#000"/>
<rect x="130.25" y="76.59" width="0.9" height="0.9" fill="#000"/>
<rect x="134.70" y="75.40" width="0.9" height="0.9" fill="#000"/>
<rect x="161.53" y="76.63" width="0.9" height="0.9" fill="#000"/>
<rect x="134.83" y="74.99" width="0.9" height="0.9" fill="#000"/>
<rect x="167.60" y="75.51" width="0.9" height="0.9" fill="#000"/>
<rect x="120.78" y="74.55" width="0.9" height="0.9" fill="#000"/>
<rect x="147.22" y="75.10" width="0.9" height="0.9" fill="#000"/>
<rect x="129.02" y="74.65" width="0.9" height="0.9" fill="#000"/>
<rect x="134.29" y="75.40" width="0.9" height="0.9" fill="#000"/>
<rect x="135.74" y="76.04" width="0.9" height="0.9" fill="#000"/>
<rect x="111.23" y="76.48" width="0.9" height="0.9" fill="#000"/>
<rect x="135.69" y="76.38" width="0.9" height="0.9" fill="#000"/>
<rect x="114.52" y="75.73" width="0.9" height="0.9" fill="#000"/>
<rect x="140.57" y="75.83" width="0.9" height="0.9" fill="#000"/>
<polygon points="111.00,51.00 116.00,49.90 121.00,48.90 126.00,48.00 131.80,47.10 131.50,55.00 130.90,62.00 130.30,67.80 128.00,72.20 120.00,71.00 111.30,69.60 111.10,60.00" fill="#eeeeee"/>
<clipPath id="clipR"><polygon points="111.00,51.00 116.00,49.90 121.00,48.90 126.00,48.00 131.80,47.10 131.50,55.00 130.90,62.00 130.30,67.80 128.00,72.20 120.00,71.00 111.30,69.60 111.10,60.00"/></clipPath>
<g clip-path="url(#clipR)">
<polygon points="122.90,60.00 122.70,60.29 122.72,60.65 122.48,60.91 122.31,61.22 122.17,61.71 121.84,61.98 121.44,62.13 121.05,61.95 120.74,61.70 120.57,61.33 120.35,61.16 120.20,60.91 120.13,60.62 119.94,60.35 119.65,60.00 119.86,59.61 119.98,59.21 120.31,58.93 120.68,58.76 120.94,58.50 121.34,58.62 121.62,58.54 121.93,58.29 122.21,58.46 122.57,58.41 122.93,58.50 123.18,58.78 123.28,59.19 123.26,59.60" fill="none" stroke="#7a7a7a" stroke-width="0.45"/>
<polygon points="124.90,60.00 124.75,60.78 124.47,61.55 123.88,62.14 123.03,62.34 122.57,62.90 121.83,62.81 121.28,63.16 120.64,63.46 120.00,63.35 119.20,63.48 118.67,62.96 118.20,62.38 118.07,61.57 118.45,60.68 118.82,60.00 119.08,59.41 118.95,58.65 119.19,57.91 119.79,57.43 120.17,56.61 120.77,55.85 121.67,56.24 122.39,56.24 122.99,56.67 123.44,57.19 123.59,57.94 124.24,58.07 124.33,58.72 125.12,59.18" fill="none" stroke="#7a7a7a" stroke-width="0.45"/>
<polygon points="126.18,60.00 125.24,60.91 125.14,61.93 124.44,62.71 124.10,63.88 123.21,64.55 122.58,66.19 121.26,65.76 120.14,65.93 119.27,64.97 118.72,63.97 117.97,63.57 117.99,62.42 117.30,61.89 116.42,61.14 116.48,60.00 116.14,58.71 117.09,57.69 117.55,56.48 118.73,55.91 119.95,55.75 120.90,55.43 121.83,55.19 122.76,55.14 123.68,55.22 124.97,54.72 125.96,55.29 126.72,56.22 126.91,57.52 126.70,58.83" fill="none" stroke="#7a7a7a" stroke-width="0.45"/>
<polygon points="129.34,60.00 128.40,61.66 127.10,62.94 125.84,63.95 124.48,64.58 123.11,64.80 122.07,65.32 121.02,66.03 119.83,66.39 118.41,67.02 117.14,66.53 116.09,65.62 115.17,64.54 115.01,62.95 115.29,61.39 116.26,60.00 115.96,58.66 117.01,57.60 117.05,55.96 117.65,54.36 118.61,52.77 120.22,52.28 121.77,51.82 123.27,52.57 124.38,53.69 125.39,54.36 126.28,55.14 126.96,56.15 127.34,57.36 127.91,58.56" fill="none" stroke="#7a7a7a" stroke-width="0.45"/>
<polygon points="129.71,60.00 129.25,61.87 129.73,64.28 128.78,66.41 126.40,67.16 124.78,68.40 122.65,68.15 120.86,67.06 119.52,66.83 117.95,67.70 116.51,67.28 115.03,66.67 113.93,65.40 112.99,63.89 112.82,61.96 112.68,60.00 113.98,58.18 115.83,56.97 116.81,55.65 117.54,53.98 118.86,52.80 120.27,51.61 121.87,50.14 123.82,49.56 125.65,50.26 126.69,52.34 128.13,53.13 127.89,55.54 128.74,56.73 128.94,58.33" fill="none" stroke="#7a7a7a" stroke-width="0.45"/>
<polygon points="131.39,60.00 131.09,62.31 129.07,64.01 126.83,64.98 126.05,66.98 124.30,67.93 123.23,70.95 121.09,72.18 118.72,72.48 116.44,71.96 114.57,70.53 114.09,67.58 113.67,65.49 113.05,63.81 113.20,61.86 112.35,60.00 111.75,57.65 111.65,54.88 112.93,52.43 114.84,50.46 117.39,49.59 120.26,50.71 122.10,49.73 123.92,51.32 125.75,50.79 127.16,51.88 129.26,51.99 130.94,53.23 132.63,54.89 132.38,57.54" fill="none" stroke="#7a7a7a" stroke-width="0.45"/>
<polygon points="122.33,60.50 122.46,60.70 122.61,60.99 122.55,61.26 122.39,61.49 122.10,61.55 121.85,61.56 121.62,61.63 121.40,61.47 121.24,61.31 120.96,61.43 120.70,61.38 120.58,61.17 120.34,61.02 120.26,60.76 120.10,60.50 120.38,60.26 120.69,60.14 120.70,59.92 120.82,59.75 121.02,59.67 121.14,59.40 121.36,59.19 121.63,59.30 121.93,59.19 122.18,59.32 122.31,59.60 122.28,59.93 122.45,60.08 122.32,60.33" fill="none" stroke="#5a5a5a" stroke-width="0.5"/>
<polygon points="123.69,60.50 123.42,60.91 123.16,61.24 122.74,61.40 122.58,61.70 122.42,62.09 122.26,62.85 121.79,63.27 121.22,63.20 120.73,62.86 120.21,62.73 120.00,62.17 119.86,61.69 119.70,61.30 119.77,60.87 119.28,60.50 119.26,60.02 119.27,59.51 119.43,59.00 119.59,58.38 120.36,58.53 120.77,58.26 121.29,58.49 121.66,58.99 122.12,58.60 122.41,58.93 122.90,58.95 123.59,58.98 124.09,59.35 124.04,59.96" fill="none" stroke="#5a5a5a" stroke-width="0.5"/>
<polygon points="124.57,60.50 124.43,61.12 124.96,62.04 124.82,62.91 124.19,63.49 123.48,63.94 122.60,63.89 121.79,63.26 121.21,63.23 120.61,63.24 120.27,62.63 119.51,62.71 118.65,62.57 118.17,61.98 117.35,61.38 117.76,60.50 118.26,59.81 118.47,59.15 119.12,58.77 119.93,58.76 119.98,57.87 120.64,57.85 121.16,57.26 121.91,56.59 122.80,56.51 123.32,57.35 124.08,57.63 124.23,58.51 124.26,59.27 123.92,59.99" fill="none" stroke="#5a5a5a" stroke-width="0.5"/>
<polygon points="127.00,60.50 126.54,61.57 125.77,62.40 125.02,63.06 124.16,63.46 123.12,63.30 122.54,63.71 121.97,64.98 120.96,65.69 120.00,65.12 118.97,64.88 117.93,64.46 117.59,63.34 117.77,62.16 117.53,61.34 118.14,60.50 117.75,59.70 117.83,58.87 117.13,57.33 117.89,56.49 118.71,55.66 120.04,56.01 121.01,55.84 121.97,56.07 122.78,56.57 123.39,57.23 124.10,57.62 125.44,57.64 125.89,58.55 126.33,59.47" fill="none" stroke="#5a5a5a" stroke-width="0.5"/>
<polyline points="112,54.5 118,53.2 124,52.4 130,51.5" fill="none" stroke="#555" stroke-width="1.1"/>
<polyline points="117.26,61.43 118.42,61.74 119.45,62.35 119.61,63.54 120.32,64.51 121.50,64.76" fill="none" stroke="#888" stroke-width="0.35"/>
<polyline points="118.09,53.66 119.17,54.18 120.37,54.26 121.42,53.68 122.40,52.99 123.58,52.75" fill="none" stroke="#888" stroke-width="0.35"/>
<polyline points="124.35,62.07 125.19,62.92 125.66,64.03 125.48,65.21 126.10,66.24 126.48,67.37" fill="none" stroke="#888" stroke-width="0.35"/>
<polyline points="129.74,67.50 128.69,68.08 127.52,67.83 126.60,67.06 126.11,65.96 126.46,64.81" fill="none" stroke="#888" stroke-width="0.35"/>
<polyline points="116.56,56.39 115.86,57.37 115.92,58.56 116.25,59.72 115.93,60.88 114.86,61.41" fill="none" stroke="#888" stroke-width="0.35"/>
<polyline points="125.41,59.80 125.33,61.00 125.85,62.08 125.35,63.17 124.37,63.86 123.18,63.71" fill="none" stroke="#888" stroke-width="0.35"/>
<polyline points="120.89,50.39 121.78,51.20 122.64,52.04 123.47,52.91 123.55,54.10 124.19,55.12" fill="none" stroke="#888" stroke-width="0.35"/>
<polyline points="124.68,58.85 123.99,57.87 123.11,57.05 122.27,56.19 121.28,55.51 120.87,54.38" fill="none" stroke="#888" stroke-width="0.35"/>
<polyline points="118.40,57.52 119.58,57.75 120.76,57.53 121.86,58.00 122.62,58.93 123.00,60.07" fill="none" stroke="#888" stroke-width="0.35"/>
<polyline points="128.23,64.11 127.04,63.97 126.18,64.81 126.23,66.01 126.01,67.19 125.19,68.07" fill="none" stroke="#888" stroke-width="0.35"/>
<polyline points="115.34,60.41 114.34,61.07 113.16,61.29 112.37,62.20 111.90,63.31 111.01,64.10" fill="none" stroke="#888" stroke-width="0.35"/>
<polyline points="127.48,55.01 127.35,53.82 127.81,52.71 127.61,51.53 126.81,50.63 126.49,49.48" fill="none" stroke="#888" stroke-width="0.35"/>
<polyline points="119.24,66.54 120.20,65.82 121.30,65.33 122.08,64.42 123.24,64.11 124.44,64.21" fill="none" stroke="#888" stroke-width="0.35"/>
<polyline points="114.34,67.09 115.07,66.13 114.82,64.96 114.93,63.77 114.13,62.87 113.69,61.75" fill="none" stroke="#888" stroke-width="0.35"/>
<polyline points="117.88,50.01 118.52,51.02 119.52,51.69 119.81,52.86 120.66,53.70 121.83,53.97" fill="none" stroke="#888" stroke-width="0.35"/>
<polyline points="115.34,67.06 115.70,65.91 116.39,64.93 116.99,63.89 116.71,62.72 116.39,61.57" fill="none" stroke="#888" stroke-width="0.35"/>
<polyline points="126.43,60.96 127.32,60.16 128.45,59.74 129.12,58.75 128.88,57.57 127.89,56.89" fill="none" stroke="#888" stroke-width="0.35"/>
<polyline points="113.16,56.91 112.86,58.07 113.41,59.13 113.32,60.33 113.19,61.52 113.59,62.65" fill="none" stroke="#888" stroke-width="0.35"/>
</g>
<rect x="157.68" y="36.79" width="0.9" height="0.9" fill="#111"/>
<rect x="157.67" y="36.65" width="0.9" height="0.9" fill="#111"/>
<rect x="155.70" y="36.23" width="0.9" height="0.9" fill="#111"/>
<rect x="158.13" y="37.57" width="0.9" height="0.9" fill="#111"/>
<rect x="156.70" y="39.80" width="0.9" height="0.9" fill="#111"/>
<rect x="157.41" y="36.61" width="0.9" height="0.9" fill="#111"/>
<rect x="156.25" y="36.70" width="0.9" height="0.9" fill="#111"/>
<rect x="157.97" y="39.28" width="0.9" height="0.9" fill="#111"/>
<rect x="159.88" y="38.73" width="0.9" height="0.9" fill="#111"/>
<rect x="156.42" y="38.06" width="0.9" height="0.9" fill="#111"/>
<rect x="155.91" y="39.51" width="0.9" height="0.9" fill="#111"/>
<rect x="156.24" y="36.05" width="0.9" height="0.9" fill="#111"/>
<rect x="157.43" y="36.48" width="0.9" height="0.9" fill="#111"/>
<rect x="159.46" y="36.34" width="0.9" height="0.9" fill="#111"/>
<rect x="157.72" y="36.23" width="0.9" height="0.9" fill="#111"/>
<rect x="157.52" y="36.19" width="0.9" height="0.9" fill="#111"/>
<rect x="155.62" y="36.58" width="0.9" height="0.9" fill="#111"/>
<rect x="155.89" y="35.95" width="0.9" height="0.9" fill="#111"/>
<rect x="157.93" y="37.54" width="0.9" height="0.9" fill="#111"/>
<rect x="159.59" y="39.02" width="0.9" height="0.9" fill="#111"/>
<rect x="157.02" y="36.36" width="0.9" height="0.9" fill="#111"/>
<rect x="156.89" y="36.21" width="0.9" height="0.9" fill="#111"/>
<rect x="156.01" y="36.69" width="0.9" height="0.9" fill="#111"/>
<rect x="155.57" y="37.74" width="0.9" height="0.9" fill="#111"/>
<rect x="157.99" y="38.00" width="0.9" height="0.9" fill="#111"/>
<rect x="156.94" y="36.76" width="0.9" height="0.9" fill="#111"/>
<rect x="157.60" y="35.78" width="0.9" height="0.9" fill="#111"/>
<rect x="157.72" y="32.56" width="0.9" height="0.9" fill="#111"/>
<rect x="159.56" y="34.93" width="0.9" height="0.9" fill="#111"/>
<rect x="154.62" y="39.29" width="0.9" height="0.9" fill="#111"/>
<rect x="156.75" y="37.72" width="0.9" height="0.9" fill="#111"/>
<rect x="157.89" y="39.94" width="0.9" height="0.9" fill="#111"/>
<rect x="157.97" y="37.54" width="0.9" height="0.9" fill="#111"/>
<rect x="159.64" y="35.29" width="0.9" height="0.9" fill="#111"/>
<rect x="154.01" y="34.39" width="0.9" height="0.9" fill="#111"/>
<rect x="157.52" y="36.46" width="0.9" height="0.9" fill="#111"/>
<rect x="156.00" y="36.84" width="0.9" height="0.9" fill="#111"/>
<rect x="155.81" y="35.59" width="0.9" height="0.9" fill="#111"/>
<rect x="159.05" y="36.21" width="0.9" height="0.9" fill="#111"/>
<rect x="157.50" y="36.80" width="0.9" height="0.9" fill="#111"/>
<rect x="157.12" y="34.63" width="0.9" height="0.9" fill="#111"/>
<rect x="158.51" y="34.18" width="0.9" height="0.9" fill="#111"/>
<rect x="157.40" y="36.60" width="0.9" height="0.9" fill="#111"/>
<rect x="158.25" y="38.49" width="0.9" height="0.9" fill="#111"/>
<rect x="157.63" y="36.56" width="0.9" height="0.9" fill="#111"/>
<rect x="160.91" y="32.33" width="0.9" height="0.9" fill="#111"/>
<rect x="155.73" y="37.41" width="0.9" height="0.9" fill="#111"/>
<rect x="158.72" y="33.90" width="0.9" height="0.9" fill="#111"/>
<rect x="156.34" y="33.06" width="0.9" height="0.9" fill="#111"/>
<rect x="156.15" y="36.34" width="0.9" height="0.9" fill="#111"/>
<rect x="156.58" y="36.37" width="0.9" height="0.9" fill="#111"/>
<rect x="157.36" y="36.56" width="0.9" height="0.9" fill="#111"/>
<rect x="157.57" y="35.83" width="0.9" height="0.9" fill="#111"/>
<rect x="156.85" y="36.58" width="0.9" height="0.9" fill="#111"/>
<rect x="157.32" y="36.56" width="0.9" height="0.9" fill="#111"/>
<rect x="156.56" y="37.21" width="0.9" height="0.9" fill="#111"/>
<rect x="157.77" y="37.15" width="0.9" height="0.9" fill="#111"/>
<rect x="157.30" y="36.55" width="0.9" height="0.9" fill="#111"/>
<rect x="157.68" y="35.88" width="0.9" height="0.9" fill="#111"/>
<rect x="154.80" y="37.97" width="0.9" height="0.9" fill="#111"/>
<rect x="157.36" y="37.69" width="0.9" height="0.9" fill="#111"/>
<rect x="155.94" y="38.96" width="0.9" height="0.9" fill="#111"/>
<rect x="157.92" y="37.05" width="0.9" height="0.9" fill="#111"/>
<rect x="156.83" y="37.42" width="0.9" height="0.9" fill="#111"/>
<rect x="156.83" y="36.49" width="0.9" height="0.9" fill="#111"/>
<rect x="158.06" y="36.29" width="0.9" height="0.9" fill="#111"/>
<rect x="158.69" y="34.38" width="0.9" height="0.9" fill="#111"/>
<rect x="155.97" y="35.29" width="0.9" height="0.9" fill="#111"/>
<rect x="157.49" y="37.71" width="0.9" height="0.9" fill="#111"/>
<rect x="157.50" y="36.74" width="0.9" height="0.9" fill="#111"/>
<rect x="157.41" y="36.20" width="0.9" height="0.9" fill="#111"/>
<rect x="156.22" y="38.49" width="0.9" height="0.9" fill="#111"/>
<rect x="154.94" y="38.58" width="0.9" height="0.9" fill="#111"/>
<rect x="157.55" y="37.26" width="0.9" height="0.9" fill="#111"/>
<rect x="157.78" y="37.08" width="0.9" height="0.9" fill="#111"/>
<rect x="157.20" y="36.40" width="0.9" height="0.9" fill="#111"/>
<rect x="157.82" y="36.71" width="0.9" height="0.9" fill="#111"/>
<rect x="156.41" y="38.04" width="0.9" height="0.9" fill="#111"/>
<rect x="155.57" y="37.71" width="0.9" height="0.9" fill="#111"/>
<rect x="157.73" y="36.31" width="0.9" height="0.9" fill="#111"/>
<rect x="159.11" y="36.59" width="0.9" height="0.9" fill="#111"/>
<rect x="157.90" y="38.32" width="0.9" height="0.9" fill="#111"/>
<rect x="157.44" y="37.69" width="0.9" height="0.9" fill="#111"/>
<rect x="157.13" y="36.26" width="0.9" height="0.9" fill="#111"/>
<rect x="157.23" y="36.82" width="0.9" height="0.9" fill="#111"/>
<rect x="158.50" y="35.45" width="0.9" height="0.9" fill="#111"/>
<rect x="156.68" y="35.62" width="0.9" height="0.9" fill="#111"/>
<rect x="157.78" y="36.38" width="0.9" height="0.9" fill="#111"/>
<rect x="155.76" y="37.66" width="0.9" height="0.9" fill="#111"/>
<rect x="157.25" y="36.80" width="0.9" height="0.9" fill="#111"/>
<rect x="157.25" y="36.77" width="0.9" height="0.9" fill="#111"/>
<rect x="159.39" y="32.65" width="0.9" height="0.9" fill="#111"/>
<rect x="155.95" y="35.59" width="0.9" height="0.9" fill="#111"/>
<rect x="156.91" y="36.23" width="0.9" height="0.9" fill="#111"/>
<rect x="157.12" y="35.52" width="0.9" height="0.9" fill="#111"/>
<rect x="157.92" y="37.64" width="0.9" height="0.9" fill="#111"/>
<rect x="158.35" y="37.10" width="0.9" height="0.9" fill="#111"/>
<rect x="157.57" y="36.72" width="0.9" height="0.9" fill="#111"/>
<rect x="155.83" y="35.07" width="0.9" height="0.9" fill="#111"/>
<rect x="158.06" y="36.94" width="0.9" height="0.9" fill="#111"/>
<rect x="157.42" y="36.55" width="0.9" height="0.9" fill="#111"/>
<rect x="158.56" y="36.69" width="0.9" height="0.9" fill="#111"/>
<rect x="157.77" y="36.88" width="0.9" height="0.9" fill="#111"/>
<rect x="157.87" y="36.97" width="0.9" height="0.9" fill="#111"/>
<rect x="157.37" y="36.59" width="0.9" height="0.9" fill="#111"/>
<rect x="158.41" y="36.66" width="0.9" height="0.9" fill="#111"/>
<rect x="156.30" y="38.07" width="0.9" height="0.9" fill="#111"/>
<rect x="153.35" y="35.96" width="0.9" height="0.9" fill="#111"/>
<rect x="157.65" y="36.32" width="0.9" height="0.9" fill="#111"/>
<rect x="157.17" y="36.64" width="0.9" height="0.9" fill="#111"/>
<rect x="156.07" y="34.10" width="0.9" height="0.9" fill="#111"/>
<rect x="156.73" y="37.90" width="0.9" height="0.9" fill="#111"/>
<rect x="157.47" y="34.24" width="0.9" height="0.9" fill="#111"/>
<rect x="159.57" y="35.63" width="0.9" height="0.9" fill="#111"/>
<rect x="157.78" y="36.60" width="0.9" height="0.9" fill="#111"/>
<rect x="156.53" y="36.32" width="0.9" height="0.9" fill="#111"/>
<rect x="155.13" y="36.62" width="0.9" height="0.9" fill="#111"/>
<rect x="157.22" y="36.80" width="0.9" height="0.9" fill="#111"/>
<rect x="157.35" y="37.43" width="0.9" height="0.9" fill="#111"/>
<rect x="154.06" y="35.13" width="0.9" height="0.9" fill="#111"/>
<rect x="160.26" y="36.93" width="0.9" height="0.9" fill="#111"/>
<rect x="158.36" y="38.60" width="0.9" height="0.9" fill="#111"/>
<rect x="157.31" y="36.93" width="0.9" height="0.9" fill="#111"/>
<rect x="155.94" y="35.60" width="0.9" height="0.9" fill="#111"/>
<rect x="157.67" y="36.80" width="0.9" height="0.9" fill="#111"/>
<rect x="157.75" y="36.70" width="0.9" height="0.9" fill="#111"/>
<rect x="156.85" y="36.30" width="0.9" height="0.9" fill="#111"/>
<rect x="158.18" y="37.26" width="0.9" height="0.9" fill="#111"/>
<rect x="157.53" y="36.72" width="0.9" height="0.9" fill="#111"/>
<rect x="157.43" y="36.64" width="0.9" height="0.9" fill="#111"/>
<ellipse cx="157.8" cy="37.0" rx="2.0" ry="2.2" fill="#111"/>
<rect x="156.96" y="34.38" width="0.7" height="0.7" fill="#333"/>
<rect x="152.90" y="42.70" width="0.7" height="0.7" fill="#333"/>
<rect x="159.08" y="33.51" width="0.7" height="0.7" fill="#333"/>
<rect x="158.29" y="46.47" width="0.7" height="0.7" fill="#333"/>
<rect x="149.90" y="37.47" width="0.7" height="0.7" fill="#333"/>
<rect x="157.47" y="36.75" width="0.7" height="0.7" fill="#333"/>
<rect x="160.88" y="38.21" width="0.7" height="0.7" fill="#333"/>
<rect x="160.30" y="38.98" width="0.7" height="0.7" fill="#333"/>
<rect x="155.67" y="36.25" width="0.7" height="0.7" fill="#333"/>
<rect x="154.64" y="41.40" width="0.7" height="0.7" fill="#333"/>
<rect x="159.57" y="37.49" width="0.7" height="0.7" fill="#333"/>
<rect x="156.28" y="33.93" width="0.7" height="0.7" fill="#333"/>
<rect x="152.10" y="41.85" width="0.7" height="0.7" fill="#333"/>
<rect x="157.51" y="37.84" width="0.7" height="0.7" fill="#333"/>
<rect x="157.69" y="36.82" width="0.7" height="0.7" fill="#333"/>
<rect x="157.74" y="36.60" width="0.7" height="0.7" fill="#333"/>
<rect x="156.85" y="30.90" width="0.7" height="0.7" fill="#333"/>
<rect x="154.99" y="31.72" width="0.7" height="0.7" fill="#333"/>
<rect x="155.14" y="33.61" width="0.7" height="0.7" fill="#333"/>
<rect x="158.11" y="35.42" width="0.7" height="0.7" fill="#333"/>
<rect x="156.07" y="39.07" width="0.7" height="0.7" fill="#333"/>
<rect x="158.12" y="34.96" width="0.7" height="0.7" fill="#333"/>
<rect x="158.23" y="38.95" width="0.7" height="0.7" fill="#333"/>
<rect x="156.80" y="35.12" width="0.7" height="0.7" fill="#333"/>
<rect x="153.99" y="35.98" width="0.7" height="0.7" fill="#333"/>
<rect x="160.25" y="39.39" width="0.7" height="0.7" fill="#333"/>
<rect x="155.31" y="35.58" width="0.7" height="0.7" fill="#333"/>
<rect x="153.75" y="42.22" width="0.7" height="0.7" fill="#333"/>
<rect x="156.95" y="35.23" width="0.7" height="0.7" fill="#333"/>
<rect x="157.52" y="35.76" width="0.7" height="0.7" fill="#333"/>
<rect x="156.74" y="37.37" width="0.7" height="0.7" fill="#333"/>
<rect x="158.83" y="38.08" width="0.7" height="0.7" fill="#333"/>
<rect x="155.67" y="33.45" width="0.7" height="0.7" fill="#333"/>
<rect x="159.11" y="34.55" width="0.7" height="0.7" fill="#333"/>
<rect x="160.87" y="37.46" width="0.7" height="0.7" fill="#333"/>
<ellipse cx="158.2" cy="36.0" rx="8.7" ry="10.7" fill="none" stroke="#1420d4" stroke-width="2.4"/>
<text x="150.0" y="22.1" font-size="8.6" font-weight="bold">0.36</text>
<rect x="40.0" y="77.3" width="129.5" height="3.0" fill="#000"/>
<text x="66.6" y="11.6" font-size="8.7" font-weight="bold">SIV-</text>
<text x="127.9" y="11.6" font-size="8.8" font-weight="bold">SIV+</text>
<text x="89.8" y="90.7" font-size="8.8">CD123</text>
<text x="33.4" y="62.0" font-size="8.9" transform="rotate(-90 33.4 62.0)">HLA-DR</text>
<rect x="23.2" y="146.29999999999998" width="2.4" height="97.3" fill="#000"/>
<rect x="20.6" y="241.89999999999998" width="3.5" height="1.6" fill="#000"/>
<text x="20.0" y="244.79999999999998" font-size="7" font-weight="bold" text-anchor="end" fill="#000">0.0</text>
<rect x="20.6" y="210.2" width="3.5" height="1.6" fill="#000"/>
<text x="20.0" y="213.1" font-size="7" font-weight="bold" text-anchor="end" fill="#000">0.5</text>
<rect x="20.6" y="178.2" width="3.5" height="1.6" fill="#000"/>
<text x="20.0" y="181.1" font-size="7" font-weight="bold" text-anchor="end" fill="#000">1.0</text>
<rect x="20.6" y="146.29999999999998" width="3.5" height="1.6" fill="#000"/>
<text x="20.0" y="149.2" font-size="7" font-weight="bold" text-anchor="end" fill="#000">1.5</text>
<rect x="23.4" y="241.79999999999998" width="145" height="1.8" fill="#000"/>
<rect x="35.5" y="242.7" width="1.5" height="3.0" fill="#000"/>
<rect x="59.45" y="242.7" width="1.5" height="3.0" fill="#000"/>
<rect x="83.25" y="242.7" width="1.5" height="3.0" fill="#000"/>
<rect x="107.05" y="242.7" width="1.5" height="3.0" fill="#000"/>
<rect x="130.95" y="242.7" width="1.5" height="3.0" fill="#000"/>
<rect x="154.85" y="242.7" width="1.5" height="3.0" fill="#000"/>
<text x="37.45" y="253.39999999999998" font-size="7.2" font-weight="bold" text-anchor="end" fill="#000" transform="rotate(-45 37.45 253.39999999999998)">SIV-</text>
<text x="61.400000000000006" y="253.39999999999998" font-size="7.2" font-weight="bold" text-anchor="end" fill="#000" transform="rotate(-45 61.400000000000006 253.39999999999998)">day 6</text>
<text x="85.2" y="253.39999999999998" font-size="7.2" font-weight="bold" text-anchor="end" fill="#000" transform="rotate(-45 85.2 253.39999999999998)">wk2</text>
<text x="109.0" y="253.39999999999998" font-size="7.2" font-weight="bold" text-anchor="end" fill="#000" transform="rotate(-45 109.0 253.39999999999998)">wk10/12</text>
<text x="127.1" y="259.3" font-size="7.2" font-weight="bold" text-anchor="end" fill="#000" transform="rotate(-45 127.1 259.3)">wt</text>
<text x="156.79999999999998" y="253.39999999999998" font-size="7.2" font-weight="bold" text-anchor="end" fill="#000" transform="rotate(-45 156.79999999999998 253.39999999999998)">ART-treated</text>
<circle cx="36.2" cy="234.7" r="2.1" fill="none" stroke="#000" stroke-width="1.8"/>
<circle cx="34.0" cy="240.8" r="2.1" fill="none" stroke="#000" stroke-width="1.8"/>
<circle cx="38.4" cy="240.8" r="2.1" fill="none" stroke="#000" stroke-width="1.8"/>
<circle cx="36.2" cy="242.0" r="2.1" fill="none" stroke="#000" stroke-width="1.8"/>
<circle cx="55.7" cy="237.1" r="2.1" fill="none" stroke="#000" stroke-width="1.8"/>
<circle cx="63.3" cy="237.6" r="2.1" fill="none" stroke="#000" stroke-width="1.8"/>
<circle cx="60.0" cy="241.0" r="2.1" fill="none" stroke="#000" stroke-width="1.8"/>
<circle cx="83.75" cy="204.5" r="2.1" fill="none" stroke="#000" stroke-width="1.8"/>
<circle cx="84.0" cy="229.5" r="2.1" fill="none" stroke="#000" stroke-width="1.8"/>
<circle cx="87.3" cy="229.5" r="2.1" fill="none" stroke="#000" stroke-width="1.8"/>
<circle cx="108" cy="157.5" r="2.1" fill="none" stroke="#000" stroke-width="1.8"/>
<circle cx="104.4" cy="216.9" r="2.1" fill="none" stroke="#000" stroke-width="1.8"/>
<circle cx="107.9" cy="219.6" r="2.1" fill="none" stroke="#000" stroke-width="1.8"/>
<circle cx="111.25" cy="216.9" r="2.1" fill="none" stroke="#000" stroke-width="1.8"/>
<circle cx="107.9" cy="228.4" r="2.1" fill="none" stroke="#000" stroke-width="1.8"/>
<circle cx="111.6" cy="233.1" r="2.1" fill="none" stroke="#000" stroke-width="1.8"/>
<circle cx="107.9" cy="237.75" r="2.1" fill="none" stroke="#000" stroke-width="1.8"/>
<circle cx="135.25" cy="192.75" r="2.1" fill="none" stroke="#000" stroke-width="1.8"/>
<circle cx="131.5" cy="199.4" r="2.1" fill="none" stroke="#000" stroke-width="1.8"/>
<circle cx="131.5" cy="211.5" r="2.1" fill="none" stroke="#000" stroke-width="1.8"/>
<circle cx="131.5" cy="219.6" r="2.1" fill="none" stroke="#000" stroke-width="1.8"/>
<circle cx="124.6" cy="229.75" r="2.1" fill="none" stroke="#000" stroke-width="1.8"/>
<circle cx="135.25" cy="229.75" r="2.1" fill="none" stroke="#000" stroke-width="1.8"/>
<circle cx="128.1" cy="234" r="2.1" fill="none" stroke="#000" stroke-width="1.8"/>
<circle cx="131.9" cy="232.5" r="2.1" fill="none" stroke="#000" stroke-width="1.8"/>
<circle cx="135.25" cy="236.25" r="2.1" fill="none" stroke="#000" stroke-width="1.8"/>
<circle cx="131.9" cy="240.25" r="2.1" fill="none" stroke="#000" stroke-width="1.8"/>
<circle cx="153.0" cy="239.2" r="2.1" fill="none" stroke="#000" stroke-width="1.8"/>
<circle cx="155.6" cy="236.6" r="2.1" fill="none" stroke="#000" stroke-width="1.8"/>
<circle cx="158.2" cy="239.2" r="2.1" fill="none" stroke="#000" stroke-width="1.8"/>
<circle cx="155.6" cy="240.8" r="2.1" fill="none" stroke="#000" stroke-width="1.8"/>
<circle cx="151.8" cy="240.8" r="2.1" fill="none" stroke="#000" stroke-width="1.8"/>
<circle cx="159.4" cy="240.8" r="2.1" fill="none" stroke="#000" stroke-width="1.8"/>
<rect x="28" y="238.64999999999998" width="17" height="2.1" fill="#000"/>
<rect x="51.6" y="237.75" width="17.300000000000004" height="2.1" fill="#000"/>
<rect x="75" y="220.2" width="18" height="2.1" fill="#000"/>
<rect x="99.4" y="214.85" width="17.099999999999994" height="2.1" fill="#000"/>
<rect x="123.1" y="221.7" width="17.200000000000017" height="2.1" fill="#000"/>
<rect x="146.8" y="237.95" width="17.19999999999999" height="2.1" fill="#000"/>
<ellipse cx="36.2" cy="241.3" rx="3.6" ry="2.4" fill="#000"/>
<path d="M150.8,242.7 C151.0,238.6 152.8,234.9 155.6,234.6 C158.4,234.9 160.2,238.6 160.4,242.7 Z" fill="#000"/>
<text x="179.3" y="190.7" font-size="8.8" font-weight="bold" text-anchor="start" fill="#000">pDC</text>
<rect x="23.2" y="294.7" width="2.4" height="97.2" fill="#000"/>
<rect x="20.6" y="390.2" width="3.5" height="1.6" fill="#000"/>
<text x="20.0" y="393.1" font-size="7" font-weight="bold" text-anchor="end" fill="#000">0</text>
<rect x="20.6" y="358.59999999999997" width="3.5" height="1.6" fill="#000"/>
<text x="20.0" y="361.5" font-size="7" font-weight="bold" text-anchor="end" fill="#000">1</text>
<rect x="20.6" y="326.7" width="3.5" height="1.6" fill="#000"/>
<text x="20.0" y="329.6" font-size="7" font-weight="bold" text-anchor="end" fill="#000">2</text>
<rect x="20.6" y="294.7" width="3.5" height="1.6" fill="#000"/>
<text x="20.0" y="297.6" font-size="7" font-weight="bold" text-anchor="end" fill="#000">3</text>
<rect x="23.4" y="390.1" width="145" height="1.8" fill="#000"/>
<rect x="35.5" y="391.0" width="1.5" height="3.0" fill="#000"/>
<rect x="59.45" y="391.0" width="1.5" height="3.0" fill="#000"/>
<rect x="83.25" y="391.0" width="1.5" height="3.0" fill="#000"/>
<rect x="107.05" y="391.0" width="1.5" height="3.0" fill="#000"/>
<rect x="130.95" y="391.0" width="1.5" height="3.0" fill="#000"/>
<rect x="154.85" y="391.0" width="1.5" height="3.0" fill="#000"/>
<text x="37.45" y="401.7" font-size="7.2" font-weight="bold" text-anchor="end" fill="#000" transform="rotate(-45 37.45 401.7)">SIV-</text>
<text x="61.400000000000006" y="401.7" font-size="7.2" font-weight="bold" text-anchor="end" fill="#000" transform="rotate(-45 61.400000000000006 401.7)">day 6</text>
<text x="85.2" y="401.7" font-size="7.2" font-weight="bold" text-anchor="end" fill="#000" transform="rotate(-45 85.2 401.7)">wk2</text>
<text x="109.0" y="401.7" font-size="7.2" font-weight="bold" text-anchor="end" fill="#000" transform="rotate(-45 109.0 401.7)">wk10/12</text>
<text x="127.1" y="407.6" font-size="7.2" font-weight="bold" text-anchor="end" fill="#000" transform="rotate(-45 127.1 407.6)">wt</text>
<text x="156.79999999999998" y="401.7" font-size="7.2" font-weight="bold" text-anchor="end" fill="#000" transform="rotate(-45 156.79999999999998 401.7)">ART-treated</text>
<circle cx="37" cy="304.25" r="2.1" fill="none" stroke="#000" stroke-width="1.8"/>
<circle cx="32.5" cy="359.75" r="2.1" fill="none" stroke="#000" stroke-width="1.8"/>
<circle cx="29" cy="365.6" r="2.1" fill="none" stroke="#000" stroke-width="1.8"/>
<circle cx="36.25" cy="365.9" r="2.1" fill="none" stroke="#000" stroke-width="1.8"/>
<circle cx="40" cy="364.4" r="2.1" fill="none" stroke="#000" stroke-width="1.8"/>
<circle cx="32.5" cy="373.1" r="2.1" fill="none" stroke="#000" stroke-width="1.8"/>
<circle cx="36.25" cy="378.1" r="2.1" fill="none" stroke="#000" stroke-width="1.8"/>
<circle cx="40" cy="377.5" r="2.1" fill="none" stroke="#000" stroke-width="1.8"/>
<circle cx="52.9" cy="370" r="2.1" fill="none" stroke="#000" stroke-width="1.8"/>
<circle cx="60.25" cy="371.25" r="2.1" fill="none" stroke="#000" stroke-width="1.8"/>
<circle cx="60.25" cy="380.25" r="2.1" fill="none" stroke="#000" stroke-width="1.8"/>
<circle cx="84" cy="343.5" r="2.1" fill="none" stroke="#000" stroke-width="1.8"/>
<circle cx="87.75" cy="364.4" r="2.1" fill="none" stroke="#000" stroke-width="1.8"/>
<circle cx="84" cy="371.25" r="2.1" fill="none" stroke="#000" stroke-width="1.8"/>
<circle cx="100.6" cy="355.4" r="2.1" fill="none" stroke="#000" stroke-width="1.8"/>
<circle cx="107.9" cy="350.9" r="2.1" fill="none" stroke="#000" stroke-width="1.8"/>
<circle cx="107.9" cy="358.75" r="2.1" fill="none" stroke="#000" stroke-width="1.8"/>
<circle cx="109.75" cy="377.25" r="2.1" fill="none" stroke="#000" stroke-width="1.8"/>
<circle cx="104" cy="381.25" r="2.1" fill="none" stroke="#000" stroke-width="1.8"/>
<circle cx="107.9" cy="384.4" r="2.1" fill="none" stroke="#000" stroke-width="1.8"/>
<circle cx="111.9" cy="382.25" r="2.1" fill="none" stroke="#000" stroke-width="1.8"/>
<circle cx="131.9" cy="317.5" r="2.1" fill="none" stroke="#000" stroke-width="1.8"/>
<circle cx="131.9" cy="341.25" r="2.1" fill="none" stroke="#000" stroke-width="1.8"/>
<circle cx="135.6" cy="362.9" r="2.1" fill="none" stroke="#000" stroke-width="1.8"/>
<circle cx="131.9" cy="366.6" r="2.1" fill="none" stroke="#000" stroke-width="1.8"/>
<circle cx="124.75" cy="373.1" r="2.1" fill="none" stroke="#000" stroke-width="1.8"/>
<circle cx="128.1" cy="375.6" r="2.1" fill="none" stroke="#000" stroke-width="1.8"/>
<circle cx="131.9" cy="375.6" r="2.1" fill="none" stroke="#000" stroke-width="1.8"/>
<circle cx="135.6" cy="372.75" r="2.1" fill="none" stroke="#000" stroke-width="1.8"/>
<circle cx="135.6" cy="377.5" r="2.1" fill="none" stroke="#000" stroke-width="1.8"/>
<circle cx="131.9" cy="382.75" r="2.1" fill="none" stroke="#000" stroke-width="1.8"/>
<circle cx="155.6" cy="333.75" r="2.1" fill="none" stroke="#000" stroke-width="1.8"/>
<circle cx="159.4" cy="355" r="2.1" fill="none" stroke="#000" stroke-width="1.8"/>
<circle cx="155.6" cy="357.25" r="2.1" fill="none" stroke="#000" stroke-width="1.8"/>
<circle cx="148.1" cy="363.5" r="2.1" fill="none" stroke="#000" stroke-width="1.8"/>
<circle cx="151.9" cy="361.5" r="2.1" fill="none" stroke="#000" stroke-width="1.8"/>
<circle cx="155.6" cy="361" r="2.1" fill="none" stroke="#000" stroke-width="1.8"/>
<circle cx="159" cy="362.5" r="2.1" fill="none" stroke="#000" stroke-width="1.8"/>
<circle cx="155.6" cy="365.6" r="2.1" fill="none" stroke="#000" stroke-width="1.8"/>
<circle cx="155.6" cy="373.1" r="2.1" fill="none" stroke="#000" stroke-width="1.8"/>
<rect x="27.75" y="359.84999999999997" width="17.0" height="2.1" fill="#000"/>
<rect x="51.25" y="372.7" width="17.25" height="2.1" fill="#000"/>
<rect x="75.25" y="358.34999999999997" width="17.650000000000006" height="2.1" fill="#000"/>
<rect x="99.1" y="368.7" width="17.5" height="2.1" fill="#000"/>
<rect x="123.1" y="363.34999999999997" width="17.5" height="2.1" fill="#000"/>
<rect x="147.25" y="357.95" width="17.150000000000006" height="2.1" fill="#000"/>
<text x="179.3" y="334.7" font-size="8.8" font-weight="bold" text-anchor="start" fill="#000">mDC</text>
<text x="5.3" y="234.6" font-size="7" font-weight="bold" text-anchor="start" fill="#000" transform="rotate(-90 5.3 234.6)">% of HLA-DR+ LIN- cells</text>
<text x="10.6" y="383.0" font-size="7" font-weight="bold" text-anchor="start" fill="#000" transform="rotate(-90 10.6 383.0)">% of HLA-DR+ LIN- cells</text>
<rect x="37.9" y="126.14999999999999" width="93.1" height="1.9" fill="#000"/>
<rect x="37.9" y="126.14999999999999" width="1.6" height="4.25" fill="#000"/>
<rect x="129.4" y="126.14999999999999" width="1.6" height="4.25" fill="#000"/>
<text x="85.8" y="124.1" font-size="7" text-anchor="middle" fill="#000">P=0.0009</text>
<rect x="38.5" y="143.10000000000002" width="70.7" height="1.9" fill="#000"/>
<rect x="38.5" y="143.10000000000002" width="1.6" height="4.25" fill="#000"/>
<rect x="107.60000000000001" y="143.10000000000002" width="1.6" height="4.25" fill="#000"/>
<text x="74.1" y="141.2" font-size="7" text-anchor="middle" fill="#000">P=0.002</text>
<rect x="38.8" y="161.9" width="46.7" height="1.9" fill="#000"/>
<rect x="38.8" y="161.9" width="1.6" height="4.25" fill="#000"/>
<rect x="83.9" y="161.9" width="1.6" height="4.25" fill="#000"/>
<text x="61.95" y="159.9" font-size="7" text-anchor="middle" fill="#000">P=0.02</text>
<rect x="133.8" y="160.5" width="26.0" height="1.6" fill="#000"/>
<rect x="133.8" y="160.5" width="1.6" height="4.1" fill="#000"/>
<rect x="158.20000000000002" y="160.5" width="1.6" height="4.1" fill="#000"/>
<text x="146.9" y="159.0" font-size="7" text-anchor="middle" fill="#000">P=0.001</text>
<rect x="269.6" y="15.8" width="2.0" height="97.89999999999999" fill="#000"/>
<rect x="266.70000000000005" y="112.0" width="3.0" height="1.6" fill="#000"/>
<text x="266.8" y="114.728" font-size="7.3" font-weight="bold" text-anchor="end" fill="#000">0</text>
<rect x="266.70000000000005" y="93.2" width="3.0" height="1.6" fill="#000"/>
<text x="266.8" y="95.928" font-size="7.3" font-weight="bold" text-anchor="end" fill="#000">2</text>
<rect x="266.70000000000005" y="73.8" width="3.0" height="1.6" fill="#000"/>
<text x="266.8" y="76.52799999999999" font-size="7.3" font-weight="bold" text-anchor="end" fill="#000">4</text>
<rect x="266.70000000000005" y="54.7" width="3.0" height="1.6" fill="#000"/>
<text x="266.8" y="57.428" font-size="7.3" font-weight="bold" text-anchor="end" fill="#000">6</text>
<rect x="266.70000000000005" y="35.300000000000004" width="3.0" height="1.6" fill="#000"/>
<text x="266.8" y="38.028" font-size="7.3" font-weight="bold" text-anchor="end" fill="#000">8</text>
<rect x="266.70000000000005" y="15.8" width="3.0" height="1.6" fill="#000"/>
<text x="266.8" y="18.528000000000002" font-size="7.3" font-weight="bold" text-anchor="end" fill="#000">10</text>
<rect x="269.6" y="111.89999999999999" width="65.39999999999998" height="1.8" fill="#000"/>
<text x="287.5" y="13.7" font-size="8.8" text-anchor="start" fill="#000">Blood</text>
<text x="256.8" y="99.8" font-size="7" text-anchor="start" fill="#222" transform="rotate(-90 256.8 99.8)" style="stroke-width:0.12px">% LIN- HLA-DR+ cells</text>
<rect x="285.85" y="112.8" width="1.5" height="3.0" fill="#000"/>
<text x="287.6" y="122.7" font-size="7.3" font-weight="bold" text-anchor="end" fill="#000" transform="rotate(-45 287.6 122.7)">SIV- SM</text>
<rect x="317.85" y="112.8" width="1.5" height="3.0" fill="#000"/>
<text x="319.6" y="122.7" font-size="7.3" font-weight="bold" text-anchor="end" fill="#000" transform="rotate(-45 319.6 122.7)">SIV+ SM</text>
<circle cx="286.6" cy="66.5" r="2.1" fill="none" stroke="#000" stroke-width="1.8"/>
<circle cx="286.6" cy="82.1" r="2.1" fill="none" stroke="#000" stroke-width="1.8"/>
<circle cx="279.4" cy="90" r="2.1" fill="none" stroke="#000" stroke-width="1.8"/>
<circle cx="286.6" cy="93.1" r="2.1" fill="none" stroke="#000" stroke-width="1.8"/>
<circle cx="282.5" cy="100" r="2.1" fill="none" stroke="#000" stroke-width="1.8"/>
<circle cx="285" cy="99.75" r="2.1" fill="none" stroke="#000" stroke-width="1.8"/>
<circle cx="288.1" cy="100.25" r="2.1" fill="none" stroke="#000" stroke-width="1.8"/>
<circle cx="279.2" cy="103.5" r="2.1" fill="none" stroke="#000" stroke-width="1.8"/>
<circle cx="290" cy="102.5" r="2.1" fill="none" stroke="#000" stroke-width="1.8"/>
<circle cx="293.8" cy="104.2" r="2.1" fill="none" stroke="#000" stroke-width="1.8"/>
<circle cx="286.5" cy="107.7" r="2.1" fill="none" stroke="#000" stroke-width="1.8"/>
<rect x="275.25" y="94.55" width="22.5" height="2.1" fill="#000"/>
<rect x="307.25" y="92.45" width="22.5" height="2.1" fill="#000"/>
<circle cx="311.25" cy="74.75" r="2.8" fill="#000"/>
<circle cx="318.5" cy="74.75" r="2.8" fill="#000"/>
<circle cx="326" cy="69.75" r="2.8" fill="#000"/>
<circle cx="311.25" cy="87.5" r="2.8" fill="#000"/>
<circle cx="318.5" cy="94" r="2.8" fill="#000"/>
<circle cx="326" cy="91.9" r="2.8" fill="#000"/>
<circle cx="311.25" cy="99.4" r="2.8" fill="#000"/>
<circle cx="318.5" cy="104" r="2.8" fill="#000"/>
<circle cx="311.25" cy="108.1" r="2.8" fill="#000"/>
<circle cx="318.5" cy="111.25" r="2.8" fill="#000"/>
<circle cx="326" cy="111.25" r="2.8" fill="#000"/>
<rect x="384.1" y="15.8" width="2.0" height="95.7" fill="#000"/>
<rect x="381.20000000000005" y="109.8" width="3.0" height="1.6" fill="#000"/>
<text x="381.5" y="112.964" font-size="7.4" font-weight="bold" text-anchor="end" fill="#000">0.0</text>
<rect x="381.20000000000005" y="78.60000000000001" width="3.0" height="1.6" fill="#000"/>
<text x="381.5" y="81.76400000000001" font-size="7.4" font-weight="bold" text-anchor="end" fill="#000">0.5</text>
<rect x="381.20000000000005" y="46.800000000000004" width="3.0" height="1.6" fill="#000"/>
<text x="381.5" y="49.964000000000006" font-size="7.4" font-weight="bold" text-anchor="end" fill="#000">1.0</text>
<rect x="381.20000000000005" y="15.8" width="3.0" height="1.6" fill="#000"/>
<text x="381.5" y="18.964000000000002" font-size="7.4" font-weight="bold" text-anchor="end" fill="#000">1.5</text>
<rect x="384.1" y="109.69999999999999" width="64.89999999999998" height="1.8" fill="#000"/>
<text x="397.2" y="12.3" font-size="9.0" text-anchor="start" fill="#000">Colorectum</text>
<text x="365.2" y="99.8" font-size="7" text-anchor="start" fill="#222" transform="rotate(-90 365.2 99.8)" style="stroke-width:0.12px">% LIN- HLA-DR+ cells</text>
<rect x="400.25" y="110.6" width="1.5" height="3.0" fill="#000"/>
<text x="401.8" y="120.6" font-size="7.3" font-weight="bold" text-anchor="end" fill="#000" transform="rotate(-45 401.8 120.6)">SIV- SM</text>
<rect x="431.45" y="110.6" width="1.5" height="3.0" fill="#000"/>
<text x="433.0" y="120.6" font-size="7.3" font-weight="bold" text-anchor="end" fill="#000" transform="rotate(-45 433.0 120.6)">SIV+ SM</text>
<circle cx="400.9" cy="93.1" r="2.1" fill="none" stroke="#000" stroke-width="1.8"/>
<circle cx="400.9" cy="102.25" r="2.1" fill="none" stroke="#000" stroke-width="1.8"/>
<circle cx="393" cy="109" r="2.1" fill="none" stroke="#000" stroke-width="1.8"/>
<circle cx="396" cy="108.5" r="2.1" fill="none" stroke="#000" stroke-width="1.8"/>
<circle cx="399" cy="109" r="2.1" fill="none" stroke="#000" stroke-width="1.8"/>
<circle cx="402" cy="108.5" r="2.1" fill="none" stroke="#000" stroke-width="1.8"/>
<circle cx="405" cy="109" r="2.1" fill="none" stroke="#000" stroke-width="1.8"/>
<circle cx="408" cy="108.8" r="2.1" fill="none" stroke="#000" stroke-width="1.8"/>
<circle cx="401" cy="110.5" r="2.1" fill="none" stroke="#000" stroke-width="1.8"/>
<circle cx="397.5" cy="110.8" r="2.1" fill="none" stroke="#000" stroke-width="1.8"/>
<circle cx="404.5" cy="110.8" r="2.1" fill="none" stroke="#000" stroke-width="1.8"/>
<rect x="389.75" y="106.15" width="21.75" height="2.1" fill="#000"/>
<path d="M391.5,107 L409.5,107 L409.5,110 C409,112.5 406,113.2 401,113.4 C396,113.2 393,112.5 392.2,110 Z" fill="#000"/>
<circle cx="425" cy="102.25" r="2.8" fill="#000"/>
<circle cx="432.2" cy="102.6" r="2.8" fill="#000"/>
<circle cx="439.4" cy="100.5" r="2.8" fill="#000"/>
<circle cx="424" cy="109" r="2.8" fill="#000"/>
<circle cx="428" cy="108.5" r="2.8" fill="#000"/>
<circle cx="432" cy="109" r="2.8" fill="#000"/>
<circle cx="436" cy="108.5" r="2.8" fill="#000"/>
<circle cx="440" cy="109" r="2.8" fill="#000"/>
<circle cx="430" cy="110.8" r="2.8" fill="#000"/>
<circle cx="434" cy="110.8" r="2.8" fill="#000"/>
<rect x="421.25" y="105.85000000000001" width="22.25" height="2.1" fill="#000"/>
<rect x="263.1" y="216.25" width="25.9" height="13.8" fill="#1012e6"/>
<rect x="263.1" y="232.25" width="25.9" height="13.8" fill="#1012e6"/>
<rect x="263.1" y="248.2" width="25.9" height="13.8" fill="#1012e6"/>
<text x="274.05" y="211.2" font-size="6.8" font-weight="bold" text-anchor="middle">RM1</text>
<rect x="292.4" y="216.25" width="25.9" height="13.8" fill="#ffd400"/>
<rect x="292.4" y="232.25" width="25.9" height="13.8" fill="#ff5c00"/>
<rect x="292.4" y="248.2" width="25.9" height="13.8" fill="#a9a446"/>
<text x="303.34999999999997" y="211.2" font-size="6.8" font-weight="bold" text-anchor="middle">RM2</text>
<rect x="321.5" y="216.25" width="25.9" height="13.8" fill="#2a2ad2"/>
<rect x="321.5" y="232.25" width="25.9" height="13.8" fill="#2a2ad2"/>
<rect x="321.5" y="248.2" width="25.9" height="13.8" fill="#ffd81a"/>
<text x="332.45" y="211.2" font-size="6.8" font-weight="bold" text-anchor="middle">RM3</text>
<rect x="350.6" y="216.25" width="25.9" height="13.8" fill="#0810f8"/>
<rect x="350.6" y="232.25" width="25.9" height="13.8" fill="#3030c8"/>
<rect x="350.6" y="248.2" width="25.9" height="13.8" fill="#4a4ab8"/>
<text x="361.55" y="211.2" font-size="6.8" font-weight="bold" text-anchor="middle">RM4</text>
<rect x="379.7" y="216.25" width="25.9" height="13.8" fill="#fa1010"/>
<rect x="379.7" y="232.25" width="25.9" height="13.8" fill="#fa1010"/>
<rect x="379.7" y="248.2" width="25.9" height="13.8" fill="#fa1010"/>
<text x="390.65" y="211.2" font-size="6.8" font-weight="bold" text-anchor="middle">RM5</text>
<rect x="408.9" y="216.25" width="25.9" height="13.8" fill="#fff41e"/>
<rect x="408.9" y="232.25" width="25.9" height="13.8" fill="#ffca00"/>
<rect x="408.9" y="248.2" width="25.9" height="13.8" fill="#fff614"/>
<text x="419.84999999999997" y="211.2" font-size="6.8" font-weight="bold" text-anchor="middle">RM6</text>
<rect x="438.2" y="216.25" width="25.9" height="13.8" fill="#fa1010"/>
<rect x="438.2" y="232.25" width="25.9" height="13.8" fill="#fa1010"/>
<rect x="438.2" y="248.2" width="25.9" height="13.8" fill="#fa1010"/>
<text x="449.15" y="211.2" font-size="6.8" font-weight="bold" text-anchor="middle">RM7</text>
<rect x="467.2" y="216.25" width="25.9" height="13.8" fill="#fa1010"/>
<rect x="467.2" y="232.25" width="25.9" height="13.8" fill="#fa1010"/>
<rect x="467.2" y="248.2" width="25.9" height="13.8" fill="#fa1010"/>
<text x="478.15" y="211.2" font-size="6.8" font-weight="bold" text-anchor="middle">RM8</text>
<text x="253.2" y="226.0" font-size="6.8" font-weight="bold" text-anchor="middle">MX1</text>
<text x="253.2" y="241.1" font-size="6.8" font-weight="bold" text-anchor="middle">MX2</text>
<text x="253.2" y="256.1" font-size="6.8" font-weight="bold" text-anchor="middle">OAS2</text>
<text x="319.3" y="189.8" font-size="9" font-weight="bold" text-anchor="middle">SIV-</text>
<text x="436.6" y="189.6" font-size="9" font-weight="bold" text-anchor="middle">SIV+</text>
<text x="499.7" y="202.0" font-size="7.4" text-anchor="start">Fold-</text>
<text x="496.4" y="211.1" font-size="7.4" text-anchor="start">change</text>
<text x="498.8" y="224.8" font-size="8.8" text-anchor="start">9.4</text>
<text x="498.8" y="241.0" font-size="8.8" text-anchor="start">5.5</text>
<text x="498.8" y="258.6" font-size="8.8" text-anchor="start">13.0</text>
<line x1="377.75" y1="181.2" x2="377.75" y2="263.5" stroke="#000" stroke-width="1.5" stroke-dasharray="3.2,1.8"/>
<rect x="263.1" y="325.9" width="25.9" height="13.8" fill="#6c6c94"/>
<rect x="263.1" y="341.8" width="25.9" height="13.8" fill="#fff200"/>
<rect x="263.1" y="357.2" width="25.9" height="13.8" fill="#fff200"/>
<text x="274.05" y="319.0" font-size="6.8" font-weight="bold" text-anchor="middle">SM1</text>
<rect x="292.4" y="325.9" width="25.9" height="13.8" fill="#1012e6"/>
<rect x="292.4" y="341.8" width="25.9" height="13.8" fill="#1012e6"/>
<rect x="292.4" y="357.2" width="25.9" height="13.8" fill="#6262a8"/>
<text x="303.34999999999997" y="319.0" font-size="6.8" font-weight="bold" text-anchor="middle">SM2</text>
<rect x="321.5" y="325.9" width="25.9" height="13.8" fill="#1012e6"/>
<rect x="321.5" y="341.8" width="25.9" height="13.8" fill="#1012e6"/>
<rect x="321.5" y="357.2" width="25.9" height="13.8" fill="#1012e6"/>
<text x="332.45" y="319.0" font-size="6.8" font-weight="bold" text-anchor="middle">SM3</text>
<rect x="350.6" y="325.9" width="25.9" height="13.8" fill="#1012e6"/>
<rect x="350.6" y="341.8" width="25.9" height="13.8" fill="#1012e6"/>
<rect x="350.6" y="357.2" width="25.9" height="13.8" fill="#1012e6"/>
<text x="361.55" y="319.0" font-size="6.8" font-weight="bold" text-anchor="middle">SM4</text>
<rect x="379.7" y="325.9" width="25.9" height="13.8" fill="#fff200"/>
<rect x="379.7" y="341.8" width="25.9" height="13.8" fill="#fff200"/>
<rect x="379.7" y="357.2" width="25.9" height="13.8" fill="#6262a8"/>
<text x="390.65" y="319.0" font-size="6.8" font-weight="bold" text-anchor="middle">SM5</text>
<rect x="408.9" y="325.9" width="25.9" height="13.8" fill="#1012e6"/>
<rect x="408.9" y="341.8" width="25.9" height="13.8" fill="#1012e6"/>
<rect x="408.9" y="357.2" width="25.9" height="13.8" fill="#1012e6"/>
<text x="419.84999999999997" y="319.0" font-size="6.8" font-weight="bold" text-anchor="middle">SM6</text>
<rect x="438.2" y="325.9" width="25.9" height="13.8" fill="#1012e6"/>
<rect x="438.2" y="341.8" width="25.9" height="13.8" fill="#1012e6"/>
<rect x="438.2" y="357.2" width="25.9" height="13.8" fill="#1012e6"/>
<text x="449.15" y="319.0" font-size="6.8" font-weight="bold" text-anchor="middle">SM7</text>
<rect x="467.2" y="325.9" width="25.9" height="13.8" fill="#1012e6"/>
<rect x="467.2" y="341.8" width="25.9" height="13.8" fill="#1012e6"/>
<rect x="467.2" y="357.2" width="25.9" height="13.8" fill="#1012e6"/>
<text x="478.15" y="319.0" font-size="6.8" font-weight="bold" text-anchor="middle">SM8</text>
<text x="253.2" y="335.0" font-size="6.8" font-weight="bold" text-anchor="middle">MX1</text>
<text x="253.2" y="350.8" font-size="6.8" font-weight="bold" text-anchor="middle">MX2</text>
<text x="253.2" y="365.6" font-size="6.8" font-weight="bold" text-anchor="middle">OAS2</text>
<text x="320.0" y="298.0" font-size="9" font-weight="bold" text-anchor="middle">SIV-</text>
<text x="435.8" y="297.6" font-size="9" font-weight="bold" text-anchor="middle">SIV+</text>
<text x="499.7" y="312.8" font-size="7.4" text-anchor="start">Fold-</text>
<text x="496.4" y="321.90000000000003" font-size="7.4" text-anchor="start">change</text>
<text x="498.8" y="334.8" font-size="8.8" text-anchor="start">1.0</text>
<text x="498.8" y="351.0" font-size="8.8" text-anchor="start">1.0</text>
<text x="498.8" y="368.2" font-size="8.8" text-anchor="start">1.1</text>
<line x1="377.75" y1="290.0" x2="377.75" y2="374.5" stroke="#000" stroke-width="1.5" stroke-dasharray="3.2,1.8"/>
<text x="379.4" y="398.9" font-size="7.25" font-weight="bold" text-anchor="middle">Mean changes in</text>
<text x="379.4" y="407.6" font-size="7.2" font-weight="bold" text-anchor="middle">mRNA levels</text>
<text x="334.4" y="421.6" font-size="6.8" font-weight="bold" text-anchor="middle">-1</text>
<text x="379.2" y="421.6" font-size="6.8" font-weight="bold" text-anchor="middle">0</text>
<text x="421.1" y="421.6" font-size="6.8" font-weight="bold" text-anchor="middle">+1</text>
<defs><linearGradient id="cb" x1="0" x2="1" y1="0" y2="0"><stop offset="0" stop-color="#1a30f0"/><stop offset="0.12" stop-color="#3848d8"/><stop offset="0.3" stop-color="#8a8a98"/><stop offset="0.42" stop-color="#cfc445"/><stop offset="0.5" stop-color="#ffff00"/><stop offset="0.66" stop-color="#ffc000"/><stop offset="0.85" stop-color="#ff6c10"/><stop offset="1" stop-color="#ff2810"/></linearGradient></defs>
<rect x="335.5" y="425.8" width="88.7" height="4.5" fill="url(#cb)"/>
</svg>
</body></html>
